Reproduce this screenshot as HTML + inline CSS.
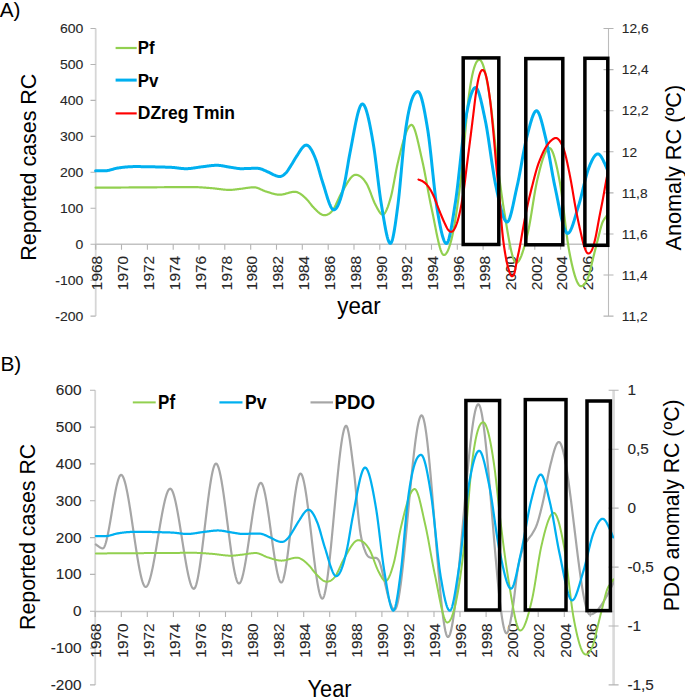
<!DOCTYPE html>
<html><head><meta charset="utf-8"><style>
html,body{margin:0;padding:0;background:#fff;}
body{width:685px;height:697px;overflow:hidden;position:relative;font-family:"Liberation Sans",sans-serif;}
svg text{font-family:"Liberation Sans",sans-serif;}
</style></head><body>
<svg width="685" height="697" viewBox="0 0 685 697" style="position:absolute;left:0;top:0">
<rect width="685" height="697" fill="#fff"/>
<g fill="none">
<path d="M95.7,28.5 V316.1" stroke="#d6d6d6" stroke-width="1.8"/>
<path d="M608.5,28.5 V316.1" stroke="#bcbcbc" stroke-width="1.1"/>
<path d="M95.7,244.3 H608.5" stroke="#c2c2c2" stroke-width="1.4"/>
<path d="M90.5,28.5 H95.7 M90.5,64.5 H95.7 M90.5,100.4 H95.7 M90.5,136.4 H95.7 M90.5,172.3 H95.7 M90.5,208.2 H95.7 M90.5,244.2 H95.7 M90.5,280.2 H95.7 M90.5,316.1 H95.7 M603.5,28.5 H613.5 M603.5,69.6 H613.5 M603.5,110.7 H613.5 M603.5,151.8 H613.5 M603.5,192.9 H613.5 M603.5,234.0 H613.5 M603.5,275.0 H613.5 M603.5,316.1 H613.5 M95.7,244.3 V249.8 M121.5,244.3 V249.8 M147.4,244.3 V249.8 M173.2,244.3 V249.8 M199.0,244.3 V249.8 M224.8,244.3 V249.8 M250.7,244.3 V249.8 M276.5,244.3 V249.8 M302.3,244.3 V249.8 M328.2,244.3 V249.8 M354.0,244.3 V249.8 M379.8,244.3 V249.8 M405.7,244.3 V249.8 M431.5,244.3 V249.8 M457.3,244.3 V249.8 M483.1,244.3 V249.8 M509.0,244.3 V249.8 M534.8,244.3 V249.8 M560.6,244.3 V249.8 M586.5,244.3 V249.8 " stroke="#b4b4b4" stroke-width="1.1"/>
</g>
<g fill="none">
<path d="M95.2,390.3 V684.9" stroke="#d6d6d6" stroke-width="1.8"/>
<path d="M613.6,390.3 V684.9" stroke="#dadada" stroke-width="2.6"/>
<path d="M95.2,611.5 H613.6" stroke="#c4c4c4" stroke-width="1.5"/>
<path d="M90.0,390.3 H95.2 M90.0,427.1 H95.2 M90.0,463.9 H95.2 M90.0,500.8 H95.2 M90.0,537.6 H95.2 M90.0,574.4 H95.2 M90.0,611.2 H95.2 M90.0,648.1 H95.2 M90.0,684.9 H95.2 M608.6,390.3 H618.6 M608.6,449.2 H618.6 M608.6,508.1 H618.6 M608.6,567.1 H618.6 M608.6,626.0 H618.6 M608.6,684.9 H618.6 M95.2,611.5 V617.0 M121.3,611.5 V617.0 M147.3,611.5 V617.0 M173.4,611.5 V617.0 M199.4,611.5 V617.0 M225.5,611.5 V617.0 M251.6,611.5 V617.0 M277.6,611.5 V617.0 M303.7,611.5 V617.0 M329.7,611.5 V617.0 M355.8,611.5 V617.0 M381.9,611.5 V617.0 M407.9,611.5 V617.0 M434.0,611.5 V617.0 M460.0,611.5 V617.0 M486.1,611.5 V617.0 M512.2,611.5 V617.0 M538.2,611.5 V617.0 M564.3,611.5 V617.0 M590.3,611.5 V617.0 " stroke="#b4b4b4" stroke-width="1.1"/>
</g>
<text x="83.4" y="33.2" font-size="13.1" text-anchor="end" font-weight="normal" fill="#262626" stroke="#262626" stroke-width="0.1" textLength="23.39" lengthAdjust="spacingAndGlyphs">600</text>
<text x="81.5" y="395.3" font-size="14.1" text-anchor="end" font-weight="normal" fill="#262626" stroke="#262626" stroke-width="0.1" textLength="25.64" lengthAdjust="spacingAndGlyphs">600</text>
<text x="83.4" y="69.2" font-size="13.1" text-anchor="end" font-weight="normal" fill="#262626" stroke="#262626" stroke-width="0.1" textLength="23.39" lengthAdjust="spacingAndGlyphs">500</text>
<text x="81.5" y="432.1" font-size="14.1" text-anchor="end" font-weight="normal" fill="#262626" stroke="#262626" stroke-width="0.1" textLength="25.64" lengthAdjust="spacingAndGlyphs">500</text>
<text x="83.4" y="105.1" font-size="13.1" text-anchor="end" font-weight="normal" fill="#262626" stroke="#262626" stroke-width="0.1" textLength="23.39" lengthAdjust="spacingAndGlyphs">400</text>
<text x="81.5" y="468.9" font-size="14.1" text-anchor="end" font-weight="normal" fill="#262626" stroke="#262626" stroke-width="0.1" textLength="25.64" lengthAdjust="spacingAndGlyphs">400</text>
<text x="83.4" y="141.1" font-size="13.1" text-anchor="end" font-weight="normal" fill="#262626" stroke="#262626" stroke-width="0.1" textLength="23.39" lengthAdjust="spacingAndGlyphs">300</text>
<text x="81.5" y="505.8" font-size="14.1" text-anchor="end" font-weight="normal" fill="#262626" stroke="#262626" stroke-width="0.1" textLength="25.64" lengthAdjust="spacingAndGlyphs">300</text>
<text x="83.4" y="177.0" font-size="13.1" text-anchor="end" font-weight="normal" fill="#262626" stroke="#262626" stroke-width="0.1" textLength="23.39" lengthAdjust="spacingAndGlyphs">200</text>
<text x="81.5" y="542.6" font-size="14.1" text-anchor="end" font-weight="normal" fill="#262626" stroke="#262626" stroke-width="0.1" textLength="25.64" lengthAdjust="spacingAndGlyphs">200</text>
<text x="83.4" y="212.9" font-size="13.1" text-anchor="end" font-weight="normal" fill="#262626" stroke="#262626" stroke-width="0.1" textLength="23.39" lengthAdjust="spacingAndGlyphs">100</text>
<text x="81.5" y="579.4" font-size="14.1" text-anchor="end" font-weight="normal" fill="#262626" stroke="#262626" stroke-width="0.1" textLength="25.64" lengthAdjust="spacingAndGlyphs">100</text>
<text x="83.4" y="248.9" font-size="13.1" text-anchor="end" font-weight="normal" fill="#262626" stroke="#262626" stroke-width="0.1" textLength="7.8" lengthAdjust="spacingAndGlyphs">0</text>
<text x="81.5" y="616.2" font-size="14.1" text-anchor="end" font-weight="normal" fill="#262626" stroke="#262626" stroke-width="0.1" textLength="8.55" lengthAdjust="spacingAndGlyphs">0</text>
<text x="83.4" y="284.9" font-size="13.1" text-anchor="end" font-weight="normal" fill="#262626" stroke="#262626" stroke-width="0.1" textLength="28.05" lengthAdjust="spacingAndGlyphs">-100</text>
<text x="81.5" y="653.1" font-size="14.1" text-anchor="end" font-weight="normal" fill="#262626" stroke="#262626" stroke-width="0.1" textLength="30.76" lengthAdjust="spacingAndGlyphs">-100</text>
<text x="83.4" y="320.8" font-size="13.1" text-anchor="end" font-weight="normal" fill="#262626" stroke="#262626" stroke-width="0.1" textLength="28.05" lengthAdjust="spacingAndGlyphs">-200</text>
<text x="81.5" y="689.9" font-size="14.1" text-anchor="end" font-weight="normal" fill="#262626" stroke="#262626" stroke-width="0.1" textLength="30.76" lengthAdjust="spacingAndGlyphs">-200</text>
<text x="621.8" y="33.2" font-size="13.1" text-anchor="start" font-weight="normal" fill="#262626" stroke="#262626" stroke-width="0.1" textLength="26.77" lengthAdjust="spacingAndGlyphs">12,6</text>
<text x="621.8" y="74.3" font-size="13.1" text-anchor="start" font-weight="normal" fill="#262626" stroke="#262626" stroke-width="0.1" textLength="26.77" lengthAdjust="spacingAndGlyphs">12,4</text>
<text x="621.8" y="115.4" font-size="13.1" text-anchor="start" font-weight="normal" fill="#262626" stroke="#262626" stroke-width="0.1" textLength="26.77" lengthAdjust="spacingAndGlyphs">12,2</text>
<text x="621.8" y="156.5" font-size="13.1" text-anchor="start" font-weight="normal" fill="#262626" stroke="#262626" stroke-width="0.1" textLength="15.3" lengthAdjust="spacingAndGlyphs">12</text>
<text x="621.8" y="197.6" font-size="13.1" text-anchor="start" font-weight="normal" fill="#262626" stroke="#262626" stroke-width="0.1" textLength="25.75" lengthAdjust="spacingAndGlyphs">11,8</text>
<text x="621.8" y="238.7" font-size="13.1" text-anchor="start" font-weight="normal" fill="#262626" stroke="#262626" stroke-width="0.1" textLength="25.75" lengthAdjust="spacingAndGlyphs">11,6</text>
<text x="621.8" y="279.7" font-size="13.1" text-anchor="start" font-weight="normal" fill="#262626" stroke="#262626" stroke-width="0.1" textLength="25.75" lengthAdjust="spacingAndGlyphs">11,4</text>
<text x="621.8" y="320.8" font-size="13.1" text-anchor="start" font-weight="normal" fill="#262626" stroke="#262626" stroke-width="0.1" textLength="25.75" lengthAdjust="spacingAndGlyphs">11,2</text>
<text x="627.4" y="395.3" font-size="14.1" text-anchor="start" font-weight="normal" fill="#262626" stroke="#262626" stroke-width="0.1" textLength="8.55" lengthAdjust="spacingAndGlyphs">1</text>
<text x="627.4" y="454.2" font-size="14.1" text-anchor="start" font-weight="normal" fill="#262626" stroke="#262626" stroke-width="0.1" textLength="21.37" lengthAdjust="spacingAndGlyphs">0,5</text>
<text x="627.4" y="513.1" font-size="14.1" text-anchor="start" font-weight="normal" fill="#262626" stroke="#262626" stroke-width="0.1" textLength="8.55" lengthAdjust="spacingAndGlyphs">0</text>
<text x="627.4" y="572.1" font-size="14.1" text-anchor="start" font-weight="normal" fill="#262626" stroke="#262626" stroke-width="0.1" textLength="26.48" lengthAdjust="spacingAndGlyphs">-0,5</text>
<text x="627.4" y="631.0" font-size="14.1" text-anchor="start" font-weight="normal" fill="#262626" stroke="#262626" stroke-width="0.1" textLength="13.67" lengthAdjust="spacingAndGlyphs">-1</text>
<text x="627.4" y="689.9" font-size="14.1" text-anchor="start" font-weight="normal" fill="#262626" stroke="#262626" stroke-width="0.1" textLength="26.48" lengthAdjust="spacingAndGlyphs">-1,5</text>
<text x="102.5" y="255.9" font-size="15.4" text-anchor="end" font-weight="normal" fill="#262626" stroke="#262626" stroke-width="0.1" transform="rotate(-90 102.5 255.9)">1968</text>
<text x="101.5" y="623.4" font-size="15.4" text-anchor="end" font-weight="normal" fill="#262626" stroke="#262626" stroke-width="0.1" transform="rotate(-90 101.5 623.4)">1968</text>
<text x="128.3" y="255.9" font-size="15.4" text-anchor="end" font-weight="normal" fill="#262626" stroke="#262626" stroke-width="0.1" transform="rotate(-90 128.3 255.9)">1970</text>
<text x="127.6" y="623.4" font-size="15.4" text-anchor="end" font-weight="normal" fill="#262626" stroke="#262626" stroke-width="0.1" transform="rotate(-90 127.6 623.4)">1970</text>
<text x="154.2" y="255.9" font-size="15.4" text-anchor="end" font-weight="normal" fill="#262626" stroke="#262626" stroke-width="0.1" transform="rotate(-90 154.2 255.9)">1972</text>
<text x="153.6" y="623.4" font-size="15.4" text-anchor="end" font-weight="normal" fill="#262626" stroke="#262626" stroke-width="0.1" transform="rotate(-90 153.6 623.4)">1972</text>
<text x="180.0" y="255.9" font-size="15.4" text-anchor="end" font-weight="normal" fill="#262626" stroke="#262626" stroke-width="0.1" transform="rotate(-90 180.0 255.9)">1974</text>
<text x="179.7" y="623.4" font-size="15.4" text-anchor="end" font-weight="normal" fill="#262626" stroke="#262626" stroke-width="0.1" transform="rotate(-90 179.7 623.4)">1974</text>
<text x="205.8" y="255.9" font-size="15.4" text-anchor="end" font-weight="normal" fill="#262626" stroke="#262626" stroke-width="0.1" transform="rotate(-90 205.8 255.9)">1976</text>
<text x="205.7" y="623.4" font-size="15.4" text-anchor="end" font-weight="normal" fill="#262626" stroke="#262626" stroke-width="0.1" transform="rotate(-90 205.7 623.4)">1976</text>
<text x="231.6" y="255.9" font-size="15.4" text-anchor="end" font-weight="normal" fill="#262626" stroke="#262626" stroke-width="0.1" transform="rotate(-90 231.6 255.9)">1978</text>
<text x="231.8" y="623.4" font-size="15.4" text-anchor="end" font-weight="normal" fill="#262626" stroke="#262626" stroke-width="0.1" transform="rotate(-90 231.8 623.4)">1978</text>
<text x="257.5" y="255.9" font-size="15.4" text-anchor="end" font-weight="normal" fill="#262626" stroke="#262626" stroke-width="0.1" transform="rotate(-90 257.5 255.9)">1980</text>
<text x="257.9" y="623.4" font-size="15.4" text-anchor="end" font-weight="normal" fill="#262626" stroke="#262626" stroke-width="0.1" transform="rotate(-90 257.9 623.4)">1980</text>
<text x="283.3" y="255.9" font-size="15.4" text-anchor="end" font-weight="normal" fill="#262626" stroke="#262626" stroke-width="0.1" transform="rotate(-90 283.3 255.9)">1982</text>
<text x="283.9" y="623.4" font-size="15.4" text-anchor="end" font-weight="normal" fill="#262626" stroke="#262626" stroke-width="0.1" transform="rotate(-90 283.9 623.4)">1982</text>
<text x="309.1" y="255.9" font-size="15.4" text-anchor="end" font-weight="normal" fill="#262626" stroke="#262626" stroke-width="0.1" transform="rotate(-90 309.1 255.9)">1984</text>
<text x="310.0" y="623.4" font-size="15.4" text-anchor="end" font-weight="normal" fill="#262626" stroke="#262626" stroke-width="0.1" transform="rotate(-90 310.0 623.4)">1984</text>
<text x="335.0" y="255.9" font-size="15.4" text-anchor="end" font-weight="normal" fill="#262626" stroke="#262626" stroke-width="0.1" transform="rotate(-90 335.0 255.9)">1986</text>
<text x="336.0" y="623.4" font-size="15.4" text-anchor="end" font-weight="normal" fill="#262626" stroke="#262626" stroke-width="0.1" transform="rotate(-90 336.0 623.4)">1986</text>
<text x="360.8" y="255.9" font-size="15.4" text-anchor="end" font-weight="normal" fill="#262626" stroke="#262626" stroke-width="0.1" transform="rotate(-90 360.8 255.9)">1988</text>
<text x="362.1" y="623.4" font-size="15.4" text-anchor="end" font-weight="normal" fill="#262626" stroke="#262626" stroke-width="0.1" transform="rotate(-90 362.1 623.4)">1988</text>
<text x="386.6" y="255.9" font-size="15.4" text-anchor="end" font-weight="normal" fill="#262626" stroke="#262626" stroke-width="0.1" transform="rotate(-90 386.6 255.9)">1990</text>
<text x="388.2" y="623.4" font-size="15.4" text-anchor="end" font-weight="normal" fill="#262626" stroke="#262626" stroke-width="0.1" transform="rotate(-90 388.2 623.4)">1990</text>
<text x="412.5" y="255.9" font-size="15.4" text-anchor="end" font-weight="normal" fill="#262626" stroke="#262626" stroke-width="0.1" transform="rotate(-90 412.5 255.9)">1992</text>
<text x="414.2" y="623.4" font-size="15.4" text-anchor="end" font-weight="normal" fill="#262626" stroke="#262626" stroke-width="0.1" transform="rotate(-90 414.2 623.4)">1992</text>
<text x="438.3" y="255.9" font-size="15.4" text-anchor="end" font-weight="normal" fill="#262626" stroke="#262626" stroke-width="0.1" transform="rotate(-90 438.3 255.9)">1994</text>
<text x="440.3" y="623.4" font-size="15.4" text-anchor="end" font-weight="normal" fill="#262626" stroke="#262626" stroke-width="0.1" transform="rotate(-90 440.3 623.4)">1994</text>
<text x="464.1" y="255.9" font-size="15.4" text-anchor="end" font-weight="normal" fill="#262626" stroke="#262626" stroke-width="0.1" transform="rotate(-90 464.1 255.9)">1996</text>
<text x="466.3" y="623.4" font-size="15.4" text-anchor="end" font-weight="normal" fill="#262626" stroke="#262626" stroke-width="0.1" transform="rotate(-90 466.3 623.4)">1996</text>
<text x="489.9" y="255.9" font-size="15.4" text-anchor="end" font-weight="normal" fill="#262626" stroke="#262626" stroke-width="0.1" transform="rotate(-90 489.9 255.9)">1998</text>
<text x="492.4" y="623.4" font-size="15.4" text-anchor="end" font-weight="normal" fill="#262626" stroke="#262626" stroke-width="0.1" transform="rotate(-90 492.4 623.4)">1998</text>
<text x="515.8" y="255.9" font-size="15.4" text-anchor="end" font-weight="normal" fill="#262626" stroke="#262626" stroke-width="0.1" transform="rotate(-90 515.8 255.9)">2000</text>
<text x="518.5" y="623.4" font-size="15.4" text-anchor="end" font-weight="normal" fill="#262626" stroke="#262626" stroke-width="0.1" transform="rotate(-90 518.5 623.4)">2000</text>
<text x="541.6" y="255.9" font-size="15.4" text-anchor="end" font-weight="normal" fill="#262626" stroke="#262626" stroke-width="0.1" transform="rotate(-90 541.6 255.9)">2002</text>
<text x="544.5" y="623.4" font-size="15.4" text-anchor="end" font-weight="normal" fill="#262626" stroke="#262626" stroke-width="0.1" transform="rotate(-90 544.5 623.4)">2002</text>
<text x="567.4" y="255.9" font-size="15.4" text-anchor="end" font-weight="normal" fill="#262626" stroke="#262626" stroke-width="0.1" transform="rotate(-90 567.4 255.9)">2004</text>
<text x="570.6" y="623.4" font-size="15.4" text-anchor="end" font-weight="normal" fill="#262626" stroke="#262626" stroke-width="0.1" transform="rotate(-90 570.6 623.4)">2004</text>
<text x="593.3" y="255.9" font-size="15.4" text-anchor="end" font-weight="normal" fill="#262626" stroke="#262626" stroke-width="0.1" transform="rotate(-90 593.3 255.9)">2006</text>
<text x="596.6" y="623.4" font-size="15.4" text-anchor="end" font-weight="normal" fill="#262626" stroke="#262626" stroke-width="0.1" transform="rotate(-90 596.6 623.4)">2006</text>
<text x="-0.3" y="16.9" font-size="20.8" text-anchor="start" font-weight="normal" fill="#000">A)</text>
<text x="0.5" y="370.8" font-size="20.8" text-anchor="start" font-weight="normal" fill="#000">B)</text>
<text x="35.8" y="260.7" font-size="22.9" text-anchor="start" font-weight="normal" fill="#000" transform="rotate(-90 35.8 260.7)" textLength="187.0" lengthAdjust="spacingAndGlyphs">Reported cases RC</text>
<text x="35.3" y="629.9" font-size="22.9" text-anchor="start" font-weight="normal" fill="#000" transform="rotate(-90 35.3 629.9)" textLength="186.1" lengthAdjust="spacingAndGlyphs">Reported cases RC</text>
<text x="680.7" y="250.5" font-size="22.6" text-anchor="start" font-weight="normal" fill="#000" transform="rotate(-90 680.7 250.5)" textLength="165.7" lengthAdjust="spacingAndGlyphs">Anomaly RC (ºC)</text>
<text x="678.7" y="611.3" font-size="22.0" text-anchor="start" font-weight="normal" fill="#000" transform="rotate(-90 678.7 611.3)" textLength="211.9" lengthAdjust="spacingAndGlyphs">PDO anomaly RC (ºC)</text>
<text x="337.3" y="313.9" font-size="23" text-anchor="start" font-weight="normal" fill="#000" textLength="43.4" lengthAdjust="spacingAndGlyphs">year</text>
<text x="307.5" y="696.9" font-size="23" text-anchor="start" font-weight="normal" fill="#000" textLength="44.0" lengthAdjust="spacingAndGlyphs">Year</text>
<g fill="none"><path d="M115.6,48 H136.7" stroke="#92d050" stroke-width="2.2"/><path d="M115.6,80.1 H136.7" stroke="#00b0f0" stroke-width="3"/><path d="M115.6,113.4 H136.7" stroke="#ff0000" stroke-width="2.15"/>
<path d="M132.8,402.4 H155.7" stroke="#92d050" stroke-width="2"/><path d="M219.4,402.4 H242.5" stroke="#00b0f0" stroke-width="2.25"/><path d="M310.5,402.4 H333" stroke="#a6a6a6" stroke-width="2.2"/></g>
<text x="137.8" y="54.1" font-size="18" text-anchor="start" font-weight="bold" fill="#000" textLength="16.8" lengthAdjust="spacingAndGlyphs">Pf</text>
<text x="137.8" y="86.8" font-size="18" text-anchor="start" font-weight="bold" fill="#000" textLength="20.7" lengthAdjust="spacingAndGlyphs">Pv</text>
<text x="137.8" y="119.3" font-size="18" text-anchor="start" font-weight="bold" fill="#000" textLength="97.2" lengthAdjust="spacingAndGlyphs">DZreg Tmin</text>
<text x="158.1" y="409.1" font-size="19.4" text-anchor="start" font-weight="bold" fill="#000" textLength="17" lengthAdjust="spacingAndGlyphs">Pf</text>
<text x="245.1" y="409.1" font-size="19.4" text-anchor="start" font-weight="bold" fill="#000" textLength="21.5" lengthAdjust="spacingAndGlyphs">Pv</text>
<text x="334.6" y="409.1" font-size="19.4" text-anchor="start" font-weight="bold" fill="#000" textLength="40.5" lengthAdjust="spacingAndGlyphs">PDO</text>
<defs><clipPath id="cA"><rect x="90" y="0" width="518.4" height="340"/></clipPath><clipPath id="cB"><rect x="90" y="350" width="523.9" height="347"/></clipPath></defs>
<g fill="none" stroke-linejoin="round" stroke-linecap="round" clip-path="url(#cA)">
<path d="M95.60,187.70 L96.10,187.70 L96.61,187.69 L97.11,187.69 L97.62,187.69 L98.12,187.68 L98.63,187.68 L99.13,187.68 L99.64,187.67 L100.14,187.67 L100.65,187.67 L101.15,187.66 L101.65,187.66 L102.16,187.66 L102.66,187.65 L103.17,187.65 L103.67,187.64 L104.18,187.64 L104.68,187.64 L105.19,187.63 L105.69,187.63 L106.20,187.63 L106.70,187.62 L107.20,187.62 L107.71,187.62 L108.21,187.61 L108.72,187.61 L109.22,187.61 L109.73,187.60 L110.23,187.60 L110.74,187.60 L111.24,187.59 L111.75,187.59 L112.25,187.59 L112.75,187.58 L113.26,187.58 L113.76,187.58 L114.27,187.57 L114.77,187.57 L115.28,187.56 L115.78,187.56 L116.29,187.56 L116.79,187.55 L117.30,187.55 L117.80,187.55 L118.30,187.54 L118.81,187.54 L119.31,187.54 L119.82,187.53 L120.32,187.53 L120.83,187.53 L121.33,187.52 L121.84,187.52 L122.34,187.52 L122.85,187.51 L123.35,187.51 L123.85,187.51 L124.36,187.50 L124.86,187.50 L125.37,187.50 L125.87,187.49 L126.38,187.49 L126.88,187.49 L127.39,187.48 L127.89,187.48 L128.40,187.48 L128.90,187.47 L129.40,187.47 L129.91,187.47 L130.41,187.46 L130.92,187.46 L131.42,187.46 L131.93,187.45 L132.43,187.45 L132.94,187.45 L133.44,187.44 L133.95,187.44 L134.45,187.44 L134.95,187.43 L135.46,187.43 L135.96,187.43 L136.47,187.42 L136.97,187.42 L137.48,187.42 L137.98,187.41 L138.49,187.41 L138.99,187.41 L139.50,187.40 L140.00,187.40 L140.50,187.40 L141.00,187.39 L141.50,187.39 L142.00,187.39 L142.50,187.38 L143.00,187.38 L143.50,187.38 L144.00,187.37 L144.50,187.37 L145.00,187.37 L145.50,187.36 L146.00,187.36 L146.50,187.36 L147.00,187.35 L147.50,187.35 L148.00,187.35 L148.50,187.34 L149.00,187.34 L149.50,187.33 L150.00,187.33 L150.50,187.33 L151.00,187.32 L151.50,187.32 L152.00,187.32 L152.50,187.31 L153.00,187.31 L153.50,187.30 L154.00,187.30 L154.50,187.30 L155.00,187.29 L155.50,187.29 L156.00,187.29 L156.50,187.28 L157.00,187.28 L157.50,187.27 L158.00,187.27 L158.50,187.27 L159.00,187.26 L159.50,187.26 L160.00,187.26 L160.50,187.25 L161.00,187.25 L161.50,187.24 L162.00,187.24 L162.50,187.24 L163.00,187.23 L163.50,187.23 L164.00,187.23 L164.50,187.22 L165.00,187.22 L165.50,187.22 L166.00,187.21 L166.50,187.21 L167.00,187.21 L167.50,187.20 L168.00,187.20 L168.50,187.19 L169.00,187.19 L169.50,187.19 L170.00,187.19 L170.50,187.18 L171.00,187.18 L171.50,187.18 L172.00,187.17 L172.50,187.17 L173.00,187.17 L173.50,187.16 L174.00,187.16 L174.50,187.16 L175.00,187.16 L175.50,187.15 L176.00,187.15 L176.50,187.15 L177.00,187.14 L177.50,187.14 L178.00,187.14 L178.50,187.14 L179.00,187.13 L179.50,187.13 L180.00,187.13 L180.50,187.13 L181.00,187.13 L181.50,187.12 L182.00,187.12 L182.50,187.12 L183.00,187.12 L183.50,187.12 L184.00,187.12 L184.50,187.11 L185.00,187.11 L185.50,187.11 L186.00,187.11 L186.50,187.11 L187.00,187.11 L187.50,187.11 L188.00,187.10 L188.50,187.10 L189.00,187.10 L189.50,187.10 L190.00,187.10 L190.50,187.10 L191.00,187.10 L191.50,187.10 L192.00,187.10 L192.50,187.10 L193.00,187.10 L193.51,187.10 L194.02,187.11 L194.53,187.11 L195.05,187.12 L195.56,187.13 L196.07,187.15 L196.58,187.16 L197.09,187.18 L197.60,187.20 L198.11,187.22 L198.63,187.24 L199.14,187.27 L199.65,187.29 L200.16,187.32 L200.67,187.35 L201.18,187.38 L201.69,187.41 L202.21,187.45 L202.72,187.48 L203.23,187.52 L203.74,187.55 L204.25,187.59 L204.76,187.63 L205.27,187.67 L205.79,187.70 L206.30,187.74 L206.81,187.78 L207.32,187.82 L207.83,187.86 L208.34,187.90 L208.85,187.94 L209.37,187.98 L209.88,188.02 L210.39,188.06 L210.90,188.10 L211.41,188.14 L211.91,188.18 L212.42,188.23 L212.92,188.28 L213.43,188.33 L213.93,188.39 L214.44,188.44 L214.94,188.50 L215.45,188.56 L215.95,188.63 L216.46,188.69 L216.96,188.75 L217.47,188.82 L217.98,188.88 L218.48,188.95 L218.99,189.02 L219.49,189.08 L220.00,189.14 L220.50,189.21 L221.01,189.27 L221.51,189.33 L222.02,189.39 L222.52,189.45 L223.03,189.50 L223.54,189.56 L224.04,189.61 L224.55,189.65 L225.05,189.70 L225.56,189.74 L226.06,189.77 L226.57,189.80 L227.07,189.83 L227.58,189.86 L228.08,189.87 L228.59,189.89 L229.09,189.90 L229.60,189.90 L230.10,189.90 L230.60,189.88 L231.10,189.86 L231.60,189.84 L232.10,189.80 L232.60,189.77 L233.10,189.72 L233.60,189.67 L234.10,189.62 L234.60,189.57 L235.10,189.51 L235.60,189.45 L236.10,189.38 L236.60,189.32 L237.10,189.26 L237.60,189.19 L238.10,189.13 L238.60,189.07 L239.10,189.01 L239.60,188.95 L240.10,188.90 L240.61,188.84 L241.13,188.78 L241.64,188.72 L242.16,188.65 L242.67,188.58 L243.19,188.50 L243.70,188.43 L244.22,188.35 L244.73,188.27 L245.25,188.19 L245.76,188.11 L246.28,188.03 L246.79,187.96 L247.31,187.88 L247.82,187.81 L248.34,187.74 L248.85,187.67 L249.37,187.61 L249.88,187.55 L250.40,187.50 L250.91,187.45 L251.43,187.40 L251.94,187.37 L252.46,187.34 L252.97,187.32 L253.49,187.30 L254.00,187.30 L254.46,187.31 L254.92,187.35 L255.38,187.41 L255.85,187.50 L256.31,187.60 L256.77,187.72 L257.23,187.86 L257.69,188.02 L258.15,188.18 L258.62,188.36 L259.08,188.55 L259.54,188.75 L260.00,188.96 L260.46,189.17 L260.92,189.38 L261.38,189.60 L261.85,189.81 L262.31,190.03 L262.77,190.24 L263.23,190.45 L263.69,190.65 L264.15,190.84 L264.62,191.03 L265.08,191.20 L265.54,191.36 L266.00,191.50 L266.49,191.65 L266.99,191.80 L267.48,191.95 L267.97,192.10 L268.46,192.26 L268.96,192.42 L269.45,192.57 L269.94,192.73 L270.44,192.88 L270.93,193.03 L271.42,193.18 L271.91,193.33 L272.41,193.47 L272.90,193.61 L273.39,193.74 L273.89,193.87 L274.38,193.99 L274.87,194.10 L275.36,194.21 L275.86,194.30 L276.35,194.39 L276.84,194.47 L277.34,194.54 L277.83,194.59 L278.32,194.64 L278.81,194.67 L279.31,194.69 L279.80,194.70 L280.30,194.69 L280.79,194.66 L281.29,194.62 L281.79,194.56 L282.28,194.49 L282.78,194.40 L283.28,194.30 L283.77,194.19 L284.27,194.07 L284.77,193.95 L285.26,193.82 L285.76,193.68 L286.26,193.54 L286.75,193.39 L287.25,193.25 L287.75,193.11 L288.24,192.96 L288.74,192.82 L289.24,192.68 L289.73,192.55 L290.23,192.43 L290.73,192.31 L291.22,192.20 L291.72,192.10 L292.22,192.01 L292.71,191.94 L293.21,191.88 L293.71,191.84 L294.20,191.81 L294.70,191.80 L295.15,191.81 L295.60,191.86 L296.06,191.93 L296.51,192.03 L296.96,192.15 L297.41,192.30 L297.86,192.48 L298.31,192.67 L298.77,192.89 L299.22,193.13 L299.67,193.39 L300.12,193.67 L300.57,193.97 L301.03,194.28 L301.48,194.61 L301.93,194.96 L302.38,195.32 L302.83,195.69 L303.29,196.08 L303.74,196.48 L304.19,196.88 L304.64,197.30 L305.09,197.73 L305.54,198.16 L306.00,198.60 L306.45,199.05 L306.90,199.50 L307.31,199.92 L307.71,200.37 L308.12,200.84 L308.52,201.32 L308.93,201.83 L309.34,202.34 L309.74,202.86 L310.15,203.38 L310.56,203.91 L310.96,204.43 L311.37,204.95 L311.77,205.45 L312.18,205.94 L312.59,206.42 L312.99,206.87 L313.40,207.30 L313.84,207.75 L314.28,208.20 L314.72,208.66 L315.16,209.11 L315.60,209.56 L316.04,210.00 L316.48,210.44 L316.92,210.87 L317.36,211.29 L317.80,211.70 L318.24,212.09 L318.68,212.47 L319.12,212.83 L319.56,213.18 L320.00,213.50 L320.44,213.80 L320.88,214.07 L321.32,214.32 L321.76,214.54 L322.20,214.74 L322.64,214.90 L323.08,215.03 L323.52,215.12 L323.96,215.18 L324.40,215.20 L324.85,215.19 L325.30,215.15 L325.75,215.08 L326.20,214.99 L326.65,214.87 L327.10,214.72 L327.55,214.54 L328.00,214.33 L328.45,214.09 L328.90,213.82 L329.35,213.52 L329.80,213.19 L330.25,212.83 L330.70,212.43 L331.15,212.00 L331.60,211.53 L332.05,211.03 L332.50,210.50 L332.85,210.05 L333.19,209.56 L333.54,209.04 L333.88,208.47 L334.23,207.88 L334.58,207.25 L334.92,206.60 L335.27,205.92 L335.62,205.22 L335.96,204.50 L336.31,203.77 L336.65,203.02 L337.00,202.27 L337.35,201.51 L337.69,200.75 L338.04,199.99 L338.38,199.22 L338.73,198.47 L339.08,197.72 L339.42,196.99 L339.77,196.27 L340.12,195.57 L340.46,194.89 L340.81,194.23 L341.15,193.60 L341.50,193.00 L341.88,192.35 L342.26,191.69 L342.64,191.03 L343.02,190.36 L343.41,189.68 L343.79,189.01 L344.17,188.33 L344.55,187.65 L344.93,186.97 L345.31,186.30 L345.69,185.63 L346.07,184.97 L346.45,184.32 L346.84,183.67 L347.22,183.04 L347.60,182.41 L347.98,181.81 L348.36,181.21 L348.74,180.64 L349.12,180.08 L349.50,179.54 L349.88,179.02 L350.26,178.52 L350.65,178.05 L351.03,177.61 L351.41,177.19 L351.79,176.80 L352.17,176.44 L352.55,176.11 L352.93,175.82 L353.31,175.56 L353.69,175.33 L354.08,175.14 L354.46,175.00 L354.84,174.89 L355.22,174.82 L355.60,174.80 L356.03,174.81 L356.45,174.85 L356.88,174.92 L357.31,175.01 L357.73,175.12 L358.16,175.27 L358.59,175.44 L359.02,175.63 L359.44,175.85 L359.87,176.10 L360.30,176.38 L360.72,176.69 L361.15,177.02 L361.58,177.38 L362.00,177.76 L362.43,178.18 L362.86,178.62 L363.28,179.09 L363.71,179.59 L364.14,180.12 L364.57,180.68 L364.99,181.27 L365.42,181.88 L365.85,182.52 L366.27,183.20 L366.70,183.90 L367.03,184.48 L367.36,185.10 L367.69,185.76 L368.02,186.46 L368.35,187.19 L368.68,187.95 L369.01,188.74 L369.34,189.56 L369.67,190.39 L370.00,191.24 L370.33,192.11 L370.66,192.98 L370.99,193.86 L371.31,194.75 L371.64,195.63 L371.97,196.51 L372.30,197.39 L372.63,198.25 L372.96,199.10 L373.29,199.93 L373.62,200.74 L373.95,201.53 L374.28,202.29 L374.61,203.03 L374.94,203.72 L375.27,204.38 L375.60,205.00 L375.99,205.71 L376.38,206.44 L376.77,207.18 L377.16,207.92 L377.54,208.65 L377.93,209.37 L378.32,210.07 L378.71,210.74 L379.10,211.38 L379.49,211.99 L379.88,212.55 L380.27,213.05 L380.66,213.50 L381.04,213.88 L381.43,214.18 L381.82,214.41 L382.21,214.55 L382.60,214.60 L382.94,214.56 L383.28,214.45 L383.62,214.26 L383.97,214.00 L384.31,213.67 L384.65,213.27 L384.99,212.81 L385.33,212.28 L385.68,211.70 L386.02,211.05 L386.36,210.35 L386.70,209.60 L387.04,208.80 L387.38,207.94 L387.73,207.04 L388.07,206.10 L388.41,205.11 L388.75,204.08 L389.09,203.02 L389.43,201.92 L389.78,200.78 L390.12,199.62 L390.46,198.42 L390.80,197.20 L391.03,196.35 L391.26,195.45 L391.49,194.51 L391.72,193.53 L391.95,192.51 L392.17,191.46 L392.40,190.38 L392.63,189.26 L392.86,188.12 L393.09,186.96 L393.32,185.78 L393.55,184.58 L393.78,183.37 L394.01,182.14 L394.24,180.91 L394.46,179.67 L394.69,178.43 L394.92,177.19 L395.15,175.95 L395.38,174.72 L395.61,173.50 L395.84,172.29 L396.07,171.09 L396.30,169.91 L396.53,168.75 L396.75,167.62 L396.98,166.51 L397.21,165.43 L397.44,164.39 L397.67,163.37 L397.90,162.40 L398.20,161.14 L398.50,159.89 L398.81,158.63 L399.11,157.38 L399.41,156.14 L399.71,154.90 L400.02,153.68 L400.32,152.46 L400.62,151.25 L400.92,150.05 L401.22,148.87 L401.53,147.70 L401.83,146.54 L402.13,145.40 L402.43,144.28 L402.74,143.18 L403.04,142.10 L403.34,141.04 L403.64,140.00 L403.94,138.99 L404.25,138.00 L404.55,137.04 L404.85,136.10 L405.15,135.20 L405.46,134.32 L405.76,133.47 L406.06,132.66 L406.36,131.88 L406.66,131.14 L406.97,130.43 L407.27,129.75 L407.57,129.12 L407.87,128.52 L408.18,127.97 L408.48,127.46 L408.78,126.99 L409.08,126.56 L409.38,126.18 L409.69,125.85 L409.99,125.56 L410.29,125.33 L410.59,125.14 L410.90,125.01 L411.20,124.93 L411.50,124.90 L411.78,124.94 L412.06,125.06 L412.34,125.26 L412.62,125.54 L412.89,125.88 L413.17,126.30 L413.45,126.78 L413.73,127.33 L414.01,127.94 L414.29,128.61 L414.57,129.33 L414.85,130.11 L415.13,130.93 L415.41,131.81 L415.68,132.73 L415.96,133.69 L416.24,134.69 L416.52,135.73 L416.80,136.80 L417.08,137.91 L417.36,139.04 L417.64,140.20 L417.92,141.38 L418.19,142.58 L418.47,143.80 L418.75,145.03 L419.03,146.28 L419.31,147.53 L419.59,148.79 L419.87,150.06 L420.15,151.33 L420.43,152.59 L420.71,153.85 L420.98,155.11 L421.26,156.35 L421.54,157.58 L421.82,158.80 L422.10,160.00 L422.32,160.97 L422.55,161.95 L422.77,162.97 L423.00,164.00 L423.22,165.05 L423.44,166.12 L423.67,167.21 L423.89,168.31 L424.11,169.43 L424.34,170.56 L424.56,171.71 L424.79,172.87 L425.01,174.04 L425.23,175.22 L425.46,176.41 L425.68,177.61 L425.90,178.81 L426.13,180.02 L426.35,181.24 L426.58,182.45 L426.80,183.68 L427.02,184.90 L427.25,186.12 L427.47,187.34 L427.70,188.56 L427.92,189.78 L428.14,190.99 L428.37,192.20 L428.59,193.41 L428.81,194.60 L429.04,195.79 L429.26,196.97 L429.49,198.13 L429.71,199.29 L429.93,200.43 L430.16,201.56 L430.38,202.68 L430.60,203.78 L430.83,204.86 L431.05,205.93 L431.28,206.97 L431.50,208.00 L431.76,209.21 L432.03,210.44 L432.29,211.70 L432.56,212.97 L432.82,214.26 L433.08,215.57 L433.35,216.89 L433.61,218.22 L433.87,219.56 L434.14,220.90 L434.40,222.25 L434.67,223.60 L434.93,224.94 L435.19,226.29 L435.46,227.63 L435.72,228.97 L435.99,230.29 L436.25,231.61 L436.51,232.91 L436.78,234.19 L437.04,235.46 L437.30,236.71 L437.57,237.93 L437.83,239.13 L438.10,240.31 L438.36,241.45 L438.62,242.57 L438.89,243.65 L439.15,244.69 L439.41,245.70 L439.68,246.67 L439.94,247.60 L440.21,248.48 L440.47,249.32 L440.73,250.11 L441.00,250.84 L441.26,251.53 L441.53,252.16 L441.79,252.73 L442.05,253.25 L442.32,253.70 L442.58,254.09 L442.84,254.41 L443.11,254.66 L443.37,254.85 L443.64,254.96 L443.90,255.00 L444.22,254.97 L444.53,254.89 L444.85,254.74 L445.17,254.54 L445.49,254.29 L445.80,253.98 L446.12,253.61 L446.44,253.19 L446.76,252.71 L447.07,252.18 L447.39,251.60 L447.71,250.96 L448.02,250.26 L448.34,249.51 L448.66,248.71 L448.98,247.85 L449.29,246.95 L449.61,245.98 L449.93,244.97 L450.24,243.90 L450.56,242.79 L450.88,241.62 L451.20,240.39 L451.51,239.12 L451.83,237.80 L452.15,236.42 L452.47,235.00 L452.78,233.52 L453.10,232.00 L453.28,231.10 L453.46,230.19 L453.64,229.25 L453.83,228.30 L454.01,227.33 L454.19,226.34 L454.37,225.33 L454.55,224.31 L454.73,223.26 L454.92,222.20 L455.10,221.12 L455.28,220.02 L455.46,218.91 L455.64,217.78 L455.82,216.63 L456.01,215.46 L456.19,214.28 L456.37,213.08 L456.55,211.86 L456.73,210.62 L456.91,209.37 L457.10,208.10 L457.28,206.82 L457.46,205.52 L457.64,204.20 L457.82,202.87 L458.00,201.52 L458.19,200.15 L458.37,198.77 L458.55,197.37 L458.73,195.96 L458.91,194.53 L459.09,193.09 L459.28,191.63 L459.46,190.16 L459.64,188.67 L459.82,187.17 L460.00,185.65 L460.18,184.12 L460.37,182.57 L460.55,181.01 L460.73,179.43 L460.91,177.84 L461.09,176.23 L461.27,174.61 L461.46,172.98 L461.64,171.33 L461.82,169.67 L462.00,168.00 L462.14,166.69 L462.28,165.34 L462.42,163.97 L462.56,162.56 L462.70,161.13 L462.84,159.67 L462.98,158.19 L463.12,156.69 L463.26,155.16 L463.40,153.62 L463.54,152.06 L463.68,150.48 L463.82,148.89 L463.96,147.29 L464.10,145.67 L464.24,144.05 L464.38,142.42 L464.52,140.78 L464.66,139.14 L464.80,137.50 L464.94,135.85 L465.08,134.21 L465.22,132.57 L465.36,130.93 L465.50,129.30 L465.64,127.68 L465.78,126.07 L465.92,124.47 L466.06,122.88 L466.20,121.30 L466.34,119.74 L466.48,118.20 L466.62,116.67 L466.76,115.17 L466.90,113.69 L467.04,112.24 L467.18,110.81 L467.32,109.40 L467.46,108.03 L467.60,106.69 L467.74,105.38 L467.88,104.10 L468.02,102.86 L468.16,101.66 L468.30,100.50 L468.56,98.38 L468.83,96.32 L469.09,94.33 L469.36,92.40 L469.62,90.54 L469.89,88.74 L470.15,87.00 L470.41,85.32 L470.68,83.71 L470.94,82.15 L471.21,80.66 L471.47,79.22 L471.74,77.85 L472.00,76.53 L472.26,75.26 L472.53,74.05 L472.79,72.90 L473.06,71.80 L473.32,70.76 L473.59,69.76 L473.85,68.82 L474.11,67.94 L474.38,67.10 L474.64,66.31 L474.91,65.57 L475.17,64.88 L475.44,64.24 L475.70,63.64 L475.96,63.09 L476.23,62.59 L476.49,62.13 L476.76,61.71 L477.02,61.34 L477.29,61.01 L477.55,60.72 L477.81,60.47 L478.08,60.26 L478.34,60.09 L478.61,59.96 L478.87,59.87 L479.14,59.82 L479.40,59.80 L479.66,59.83 L479.91,59.91 L480.17,60.04 L480.42,60.23 L480.68,60.47 L480.93,60.76 L481.19,61.10 L481.45,61.49 L481.70,61.94 L481.96,62.43 L482.21,62.97 L482.47,63.55 L482.73,64.19 L482.98,64.87 L483.24,65.59 L483.49,66.36 L483.75,67.18 L484.00,68.04 L484.26,68.94 L484.52,69.89 L484.77,70.88 L485.03,71.91 L485.28,72.98 L485.54,74.09 L485.80,75.24 L486.05,76.43 L486.31,77.66 L486.56,78.92 L486.82,80.22 L487.07,81.56 L487.33,82.94 L487.59,84.35 L487.84,85.79 L488.10,87.27 L488.35,88.78 L488.61,90.33 L488.87,91.90 L489.12,93.51 L489.38,95.15 L489.63,96.82 L489.89,98.52 L490.14,100.24 L490.40,102.00 L490.56,103.11 L490.72,104.26 L490.88,105.44 L491.03,106.64 L491.19,107.88 L491.35,109.14 L491.51,110.42 L491.67,111.73 L491.83,113.06 L491.99,114.41 L492.14,115.78 L492.30,117.17 L492.46,118.58 L492.62,120.00 L492.78,121.44 L492.94,122.88 L493.10,124.34 L493.25,125.81 L493.41,127.28 L493.57,128.76 L493.73,130.25 L493.89,131.74 L494.05,133.23 L494.20,134.72 L494.36,136.21 L494.52,137.70 L494.68,139.19 L494.84,140.67 L495.00,142.14 L495.16,143.61 L495.31,145.07 L495.47,146.51 L495.63,147.94 L495.79,149.36 L495.95,150.77 L496.11,152.16 L496.27,153.53 L496.42,154.88 L496.58,156.21 L496.74,157.52 L496.90,158.80 L497.08,160.27 L497.27,161.73 L497.45,163.19 L497.63,164.64 L497.82,166.09 L498.00,167.53 L498.18,168.97 L498.37,170.40 L498.55,171.82 L498.73,173.24 L498.92,174.65 L499.10,176.06 L499.28,177.45 L499.47,178.84 L499.65,180.23 L499.83,181.60 L500.02,182.97 L500.20,184.33 L500.38,185.68 L500.57,187.02 L500.75,188.36 L500.93,189.68 L501.12,191.00 L501.30,192.30 L501.48,193.60 L501.67,194.89 L501.85,196.17 L502.03,197.43 L502.22,198.69 L502.40,199.94 L502.58,201.17 L502.77,202.40 L502.95,203.61 L503.13,204.81 L503.32,206.00 L503.50,207.18 L503.68,208.35 L503.87,209.51 L504.05,210.65 L504.23,211.78 L504.42,212.90 L504.60,214.00 L504.85,215.48 L505.09,216.97 L505.34,218.46 L505.59,219.95 L505.83,221.44 L506.08,222.93 L506.33,224.42 L506.57,225.90 L506.82,227.38 L507.07,228.85 L507.31,230.30 L507.56,231.75 L507.81,233.19 L508.06,234.61 L508.30,236.01 L508.55,237.40 L508.80,238.77 L509.04,240.12 L509.29,241.44 L509.54,242.74 L509.78,244.02 L510.03,245.26 L510.28,246.48 L510.52,247.67 L510.77,248.83 L511.02,249.95 L511.26,251.04 L511.51,252.08 L511.76,253.09 L512.00,254.06 L512.25,254.99 L512.50,255.88 L512.74,256.72 L512.99,257.51 L513.24,258.25 L513.49,258.95 L513.73,259.59 L513.98,260.18 L514.23,260.71 L514.47,261.19 L514.72,261.60 L514.97,261.96 L515.21,262.26 L515.46,262.49 L515.71,262.66 L515.95,262.77 L516.20,262.80 L516.51,262.77 L516.83,262.68 L517.14,262.54 L517.45,262.34 L517.77,262.09 L518.08,261.78 L518.39,261.42 L518.71,261.02 L519.02,260.56 L519.34,260.05 L519.65,259.50 L519.96,258.90 L520.28,258.26 L520.59,257.58 L520.90,256.85 L521.22,256.09 L521.53,255.28 L521.84,254.44 L522.16,253.56 L522.47,252.65 L522.78,251.70 L523.10,250.72 L523.41,249.70 L523.72,248.66 L524.04,247.59 L524.35,246.49 L524.66,245.36 L524.98,244.21 L525.29,243.03 L525.61,241.83 L525.92,240.61 L526.23,239.37 L526.55,238.11 L526.86,236.83 L527.17,235.53 L527.49,234.22 L527.80,232.90 L528.01,231.97 L528.23,231.01 L528.44,230.01 L528.65,228.98 L528.87,227.92 L529.08,226.82 L529.30,225.70 L529.51,224.55 L529.72,223.38 L529.94,222.19 L530.15,220.97 L530.36,219.73 L530.58,218.48 L530.79,217.21 L531.00,215.92 L531.22,214.63 L531.43,213.32 L531.65,212.00 L531.86,210.68 L532.07,209.35 L532.29,208.01 L532.50,206.68 L532.71,205.34 L532.93,204.00 L533.14,202.67 L533.35,201.35 L533.57,200.03 L533.78,198.71 L534.00,197.41 L534.21,196.12 L534.42,194.85 L534.64,193.59 L534.85,192.34 L535.06,191.12 L535.28,189.92 L535.49,188.74 L535.70,187.58 L535.92,186.45 L536.13,185.34 L536.35,184.27 L536.56,183.23 L536.77,182.22 L536.99,181.24 L537.20,180.30 L537.50,178.99 L537.81,177.69 L538.12,176.41 L538.42,175.14 L538.73,173.89 L539.03,172.65 L539.34,171.42 L539.64,170.22 L539.95,169.04 L540.25,167.88 L540.56,166.73 L540.86,165.62 L541.17,164.52 L541.47,163.45 L541.77,162.41 L542.08,161.40 L542.38,160.41 L542.69,159.45 L543.00,158.52 L543.30,157.63 L543.61,156.77 L543.91,155.94 L544.22,155.14 L544.52,154.39 L544.83,153.67 L545.13,152.99 L545.43,152.34 L545.74,151.74 L546.04,151.18 L546.35,150.67 L546.65,150.19 L546.96,149.77 L547.26,149.38 L547.57,149.05 L547.88,148.76 L548.18,148.53 L548.49,148.34 L548.79,148.21 L549.10,148.13 L549.40,148.10 L549.68,148.13 L549.96,148.23 L550.24,148.39 L550.52,148.62 L550.80,148.90 L551.08,149.25 L551.36,149.65 L551.64,150.11 L551.92,150.63 L552.21,151.20 L552.49,151.82 L552.77,152.49 L553.05,153.22 L553.33,153.99 L553.61,154.81 L553.89,155.67 L554.17,156.58 L554.45,157.53 L554.73,158.52 L555.01,159.55 L555.29,160.62 L555.57,161.73 L555.85,162.87 L556.13,164.04 L556.41,165.25 L556.69,166.49 L556.98,167.76 L557.26,169.06 L557.54,170.39 L557.82,171.74 L558.10,173.11 L558.38,174.51 L558.66,175.93 L558.94,177.37 L559.22,178.83 L559.50,180.30 L559.68,181.27 L559.86,182.28 L560.04,183.32 L560.22,184.40 L560.40,185.51 L560.58,186.66 L560.76,187.84 L560.94,189.04 L561.12,190.28 L561.30,191.54 L561.48,192.83 L561.66,194.13 L561.84,195.47 L562.01,196.82 L562.19,198.19 L562.37,199.58 L562.55,200.99 L562.73,202.41 L562.91,203.84 L563.09,205.29 L563.27,206.75 L563.45,208.21 L563.63,209.69 L563.81,211.17 L563.99,212.65 L564.17,214.14 L564.35,215.63 L564.53,217.12 L564.71,218.60 L564.89,220.09 L565.07,221.57 L565.25,223.04 L565.43,224.51 L565.61,225.97 L565.79,227.42 L565.97,228.86 L566.15,230.28 L566.33,231.70 L566.51,233.09 L566.69,234.47 L566.86,235.83 L567.04,237.16 L567.22,238.48 L567.40,239.77 L567.58,241.04 L567.76,242.28 L567.94,243.50 L568.12,244.68 L568.30,245.84 L568.48,246.96 L568.66,248.05 L568.84,249.10 L569.02,250.12 L569.20,251.10 L569.50,252.68 L569.80,254.23 L570.09,255.74 L570.39,257.24 L570.69,258.70 L570.99,260.13 L571.28,261.53 L571.58,262.89 L571.88,264.23 L572.18,265.53 L572.47,266.80 L572.77,268.03 L573.07,269.23 L573.37,270.40 L573.66,271.52 L573.96,272.62 L574.26,273.67 L574.56,274.69 L574.85,275.66 L575.15,276.60 L575.45,277.50 L575.75,278.36 L576.04,279.18 L576.34,279.95 L576.64,280.69 L576.94,281.38 L577.23,282.02 L577.53,282.63 L577.83,283.18 L578.12,283.70 L578.42,284.16 L578.72,284.59 L579.02,284.96 L579.32,285.28 L579.61,285.56 L579.91,285.79 L580.21,285.97 L580.50,286.10 L580.80,286.17 L581.10,286.20 L581.59,286.16 L582.08,286.04 L582.56,285.83 L583.05,285.54 L583.54,285.17 L584.02,284.70 L584.51,284.15 L585.00,283.50 L585.33,283.01 L585.67,282.49 L586.00,281.93 L586.33,281.33 L586.67,280.69 L587.00,280.00 L587.33,279.27 L587.67,278.49 L588.00,277.65 L588.33,276.76 L588.67,275.81 L589.00,274.80 L589.28,273.89 L589.56,272.92 L589.84,271.89 L590.11,270.80 L590.39,269.68 L590.67,268.52 L590.95,267.33 L591.23,266.13 L591.51,264.92 L591.79,263.70 L592.06,262.49 L592.34,261.30 L592.62,260.14 L592.90,259.00 L593.17,257.93 L593.43,256.86 L593.70,255.79 L593.97,254.72 L594.23,253.65 L594.50,252.58 L594.77,251.51 L595.03,250.45 L595.30,249.39 L595.57,248.33 L595.83,247.27 L596.10,246.22 L596.37,245.17 L596.63,244.12 L596.90,243.08 L597.17,242.05 L597.43,241.02 L597.70,240.00 L597.98,238.93 L598.25,237.84 L598.53,236.74 L598.81,235.62 L599.08,234.50 L599.36,233.38 L599.64,232.26 L599.91,231.16 L600.19,230.07 L600.46,229.01 L600.74,227.98 L601.02,226.98 L601.29,226.02 L601.57,225.11 L601.85,224.25 L602.12,223.44 L602.40,222.70 L602.79,221.76 L603.18,220.94 L603.57,220.22 L603.96,219.57 L604.35,218.99 L604.74,218.44 L605.13,217.92 L605.52,217.40 L605.91,216.87 L606.30,216.30 L606.76,215.62 L607.22,214.95 L607.68,214.30 L608.14,213.65 L608.60,213.00" stroke="#92d050" stroke-width="2.2"/>
<path d="M95.60,170.80 L96.12,170.80 L96.64,170.80 L97.17,170.80 L97.69,170.80 L98.21,170.80 L98.73,170.80 L99.26,170.80 L99.78,170.80 L100.30,170.80 L100.82,170.80 L101.34,170.80 L101.87,170.80 L102.39,170.80 L102.91,170.80 L103.43,170.80 L103.96,170.80 L104.48,170.80 L105.00,170.80 L105.50,170.79 L105.99,170.76 L106.49,170.72 L106.98,170.66 L107.48,170.58 L107.98,170.50 L108.47,170.40 L108.97,170.29 L109.46,170.17 L109.96,170.04 L110.46,169.91 L110.95,169.77 L111.45,169.63 L111.94,169.49 L112.44,169.34 L112.94,169.20 L113.43,169.05 L113.93,168.91 L114.42,168.77 L114.92,168.64 L115.42,168.51 L115.91,168.40 L116.41,168.29 L116.90,168.19 L117.40,168.10 L117.90,168.02 L118.41,167.94 L118.91,167.86 L119.41,167.79 L119.91,167.72 L120.42,167.65 L120.92,167.58 L121.42,167.51 L121.93,167.45 L122.43,167.38 L122.93,167.32 L123.43,167.27 L123.94,167.21 L124.44,167.16 L124.94,167.11 L125.45,167.06 L125.95,167.01 L126.45,166.97 L126.95,166.93 L127.46,166.89 L127.96,166.85 L128.46,166.82 L128.97,166.79 L129.47,166.76 L129.97,166.73 L130.47,166.71 L130.98,166.68 L131.48,166.66 L131.98,166.65 L132.49,166.63 L132.99,166.62 L133.49,166.61 L133.99,166.61 L134.50,166.60 L135.00,166.60 L135.50,166.60 L136.00,166.60 L136.50,166.60 L137.00,166.60 L137.50,166.60 L138.00,166.61 L138.50,166.61 L139.00,166.61 L139.50,166.62 L140.00,166.62 L140.50,166.62 L141.00,166.63 L141.50,166.63 L142.00,166.64 L142.50,166.64 L143.00,166.65 L143.50,166.65 L144.00,166.66 L144.50,166.67 L145.00,166.67 L145.50,166.68 L146.00,166.69 L146.50,166.70 L147.00,166.71 L147.50,166.71 L148.00,166.72 L148.50,166.73 L149.00,166.74 L149.50,166.75 L150.00,166.76 L150.50,166.77 L151.00,166.78 L151.50,166.79 L152.00,166.80 L152.50,166.81 L153.00,166.82 L153.50,166.83 L154.00,166.85 L154.50,166.86 L155.00,166.87 L155.50,166.88 L156.00,166.89 L156.50,166.91 L157.00,166.92 L157.50,166.93 L158.00,166.95 L158.50,166.96 L159.00,166.97 L159.50,166.99 L160.00,167.00 L160.50,167.01 L161.00,167.03 L161.50,167.04 L162.00,167.05 L162.50,167.06 L163.00,167.08 L163.50,167.09 L164.00,167.10 L164.50,167.11 L165.00,167.12 L165.50,167.14 L166.00,167.15 L166.50,167.16 L167.00,167.18 L167.50,167.20 L168.00,167.21 L168.50,167.23 L169.00,167.25 L169.50,167.27 L170.00,167.29 L170.50,167.32 L171.00,167.34 L171.50,167.37 L172.00,167.40 L172.50,167.43 L173.00,167.47 L173.50,167.51 L174.00,167.56 L174.50,167.61 L175.00,167.67 L175.50,167.72 L176.00,167.78 L176.50,167.84 L177.00,167.90 L177.50,167.97 L178.00,168.03 L178.50,168.09 L179.00,168.16 L179.50,168.22 L180.00,168.28 L180.50,168.34 L181.00,168.39 L181.50,168.44 L182.00,168.49 L182.50,168.54 L183.00,168.58 L183.50,168.61 L184.00,168.64 L184.50,168.67 L185.00,168.69 L185.50,168.70 L186.00,168.70 L186.49,168.70 L186.98,168.69 L187.47,168.67 L187.96,168.65 L188.46,168.62 L188.95,168.58 L189.44,168.54 L189.93,168.50 L190.42,168.45 L190.91,168.39 L191.40,168.34 L191.89,168.28 L192.39,168.21 L192.88,168.14 L193.37,168.07 L193.86,168.00 L194.35,167.93 L194.84,167.85 L195.33,167.78 L195.82,167.70 L196.31,167.62 L196.81,167.54 L197.30,167.46 L197.79,167.38 L198.28,167.31 L198.77,167.23 L199.26,167.16 L199.75,167.08 L200.24,167.01 L200.74,166.94 L201.23,166.88 L201.72,166.82 L202.21,166.76 L202.70,166.70 L203.21,166.64 L203.73,166.58 L204.24,166.52 L204.76,166.45 L205.27,166.39 L205.79,166.32 L206.30,166.25 L206.82,166.18 L207.33,166.11 L207.85,166.04 L208.36,165.97 L208.88,165.91 L209.39,165.84 L209.91,165.78 L210.42,165.72 L210.94,165.66 L211.45,165.60 L211.97,165.55 L212.48,165.50 L213.00,165.46 L213.51,165.42 L214.03,165.38 L214.54,165.35 L215.06,165.33 L215.57,165.31 L216.09,165.30 L216.60,165.30 L217.09,165.30 L217.57,165.32 L218.06,165.34 L218.54,165.37 L219.03,165.41 L219.52,165.46 L220.00,165.51 L220.49,165.57 L220.98,165.63 L221.46,165.70 L221.95,165.77 L222.43,165.85 L222.92,165.93 L223.41,166.02 L223.89,166.10 L224.38,166.19 L224.87,166.28 L225.35,166.38 L225.84,166.47 L226.32,166.56 L226.81,166.65 L227.30,166.74 L227.78,166.83 L228.27,166.92 L228.76,167.00 L229.24,167.08 L229.73,167.16 L230.21,167.23 L230.70,167.30 L231.21,167.37 L231.72,167.45 L232.23,167.53 L232.74,167.61 L233.25,167.70 L233.76,167.79 L234.27,167.88 L234.78,167.97 L235.29,168.05 L235.80,168.14 L236.30,168.22 L236.81,168.30 L237.32,168.38 L237.83,168.44 L238.34,168.51 L238.85,168.56 L239.36,168.61 L239.87,168.65 L240.38,168.68 L240.89,168.69 L241.40,168.70 L241.91,168.70 L242.41,168.69 L242.92,168.68 L243.42,168.66 L243.93,168.64 L244.44,168.61 L244.94,168.59 L245.45,168.56 L245.95,168.54 L246.46,168.51 L246.96,168.49 L247.47,168.46 L247.98,168.44 L248.48,168.42 L248.99,168.41 L249.49,168.40 L250.00,168.40 L250.50,168.40 L251.00,168.39 L251.50,168.37 L252.00,168.36 L252.50,168.34 L253.00,168.32 L253.50,168.30 L254.00,168.28 L254.50,168.26 L255.00,168.25 L255.50,168.25 L256.00,168.25 L256.50,168.26 L257.00,168.28 L257.50,168.31 L258.00,168.35 L258.50,168.41 L259.00,168.48 L259.50,168.57 L260.00,168.68 L260.50,168.80 L260.97,168.94 L261.45,169.09 L261.92,169.26 L262.39,169.45 L262.87,169.64 L263.34,169.85 L263.81,170.07 L264.29,170.29 L264.76,170.51 L265.23,170.73 L265.71,170.96 L266.18,171.18 L266.65,171.39 L267.13,171.60 L267.60,171.80 L268.07,172.00 L268.54,172.21 L269.01,172.42 L269.48,172.65 L269.95,172.88 L270.42,173.12 L270.88,173.36 L271.35,173.60 L271.82,173.84 L272.29,174.08 L272.76,174.31 L273.23,174.55 L273.70,174.77 L274.17,174.99 L274.64,175.20 L275.11,175.40 L275.58,175.59 L276.05,175.77 L276.52,175.93 L276.98,176.07 L277.45,176.19 L277.92,176.30 L278.39,176.39 L278.86,176.45 L279.33,176.49 L279.80,176.50 L280.23,176.48 L280.67,176.41 L281.10,176.30 L281.53,176.15 L281.97,175.97 L282.40,175.75 L282.83,175.49 L283.27,175.20 L283.70,174.88 L284.13,174.53 L284.57,174.15 L285.00,173.74 L285.43,173.32 L285.87,172.87 L286.30,172.40 L286.70,171.94 L287.10,171.44 L287.50,170.91 L287.90,170.35 L288.30,169.76 L288.70,169.16 L289.10,168.54 L289.50,167.90 L289.90,167.26 L290.30,166.62 L290.70,165.97 L291.10,165.33 L291.50,164.70 L291.86,164.12 L292.23,163.53 L292.59,162.92 L292.96,162.31 L293.32,161.69 L293.69,161.07 L294.05,160.44 L294.41,159.82 L294.78,159.21 L295.14,158.60 L295.51,158.00 L295.87,157.42 L296.24,156.85 L296.60,156.30 L297.00,155.69 L297.41,155.08 L297.81,154.45 L298.22,153.81 L298.62,153.17 L299.03,152.53 L299.43,151.90 L299.83,151.27 L300.24,150.66 L300.64,150.06 L301.05,149.47 L301.45,148.91 L301.85,148.37 L302.26,147.86 L302.66,147.38 L303.07,146.94 L303.47,146.54 L303.88,146.18 L304.28,145.86 L304.68,145.60 L305.09,145.39 L305.49,145.23 L305.90,145.13 L306.30,145.10 L306.68,145.13 L307.05,145.22 L307.43,145.36 L307.80,145.55 L308.18,145.80 L308.55,146.10 L308.93,146.45 L309.30,146.85 L309.68,147.29 L310.05,147.77 L310.43,148.30 L310.80,148.86 L311.18,149.47 L311.55,150.11 L311.93,150.79 L312.30,151.50 L312.68,152.25 L313.05,153.02 L313.43,153.82 L313.80,154.65 L314.18,155.50 L314.55,156.38 L314.93,157.28 L315.30,158.20 L315.58,158.92 L315.87,159.69 L316.15,160.49 L316.44,161.33 L316.72,162.20 L317.00,163.09 L317.29,164.02 L317.57,164.96 L317.86,165.93 L318.14,166.91 L318.42,167.90 L318.71,168.90 L318.99,169.91 L319.28,170.93 L319.56,171.94 L319.84,172.96 L320.13,173.97 L320.41,174.97 L320.70,175.96 L320.98,176.94 L321.26,177.89 L321.55,178.83 L321.83,179.75 L322.12,180.64 L322.40,181.50 L322.72,182.45 L323.03,183.43 L323.35,184.43 L323.67,185.45 L323.98,186.48 L324.30,187.52 L324.62,188.57 L324.93,189.63 L325.25,190.69 L325.57,191.75 L325.88,192.81 L326.20,193.86 L326.52,194.90 L326.83,195.94 L327.15,196.95 L327.47,197.95 L327.78,198.93 L328.10,199.89 L328.42,200.82 L328.73,201.72 L329.05,202.59 L329.37,203.42 L329.68,204.22 L330.00,204.98 L330.32,205.69 L330.63,206.35 L330.95,206.97 L331.27,207.53 L331.58,208.04 L331.90,208.49 L332.22,208.88 L332.53,209.20 L332.85,209.46 L333.17,209.65 L333.48,209.76 L333.80,209.80 L334.12,209.77 L334.44,209.69 L334.76,209.55 L335.08,209.36 L335.41,209.12 L335.73,208.83 L336.05,208.48 L336.37,208.09 L336.69,207.64 L337.01,207.14 L337.33,206.60 L337.65,206.01 L337.98,205.37 L338.30,204.69 L338.62,203.96 L338.94,203.19 L339.26,202.37 L339.58,201.51 L339.90,200.61 L340.22,199.66 L340.55,198.67 L340.87,197.65 L341.19,196.58 L341.51,195.48 L341.83,194.33 L342.15,193.15 L342.47,191.94 L342.79,190.68 L343.12,189.39 L343.44,188.07 L343.76,186.71 L344.08,185.32 L344.40,183.90 L344.62,182.91 L344.83,181.89 L345.05,180.82 L345.26,179.72 L345.48,178.59 L345.69,177.43 L345.91,176.24 L346.12,175.03 L346.34,173.80 L346.55,172.56 L346.77,171.30 L346.98,170.03 L347.20,168.75 L347.42,167.47 L347.63,166.18 L347.85,164.90 L348.06,163.62 L348.28,162.35 L348.49,161.09 L348.71,159.84 L348.92,158.61 L349.14,157.39 L349.35,156.20 L349.57,155.04 L349.78,153.90 L350.00,152.80 L350.26,151.49 L350.52,150.16 L350.77,148.81 L351.03,147.45 L351.29,146.09 L351.55,144.71 L351.81,143.33 L352.07,141.94 L352.32,140.55 L352.58,139.15 L352.84,137.76 L353.10,136.37 L353.36,134.98 L353.62,133.60 L353.88,132.23 L354.13,130.87 L354.39,129.52 L354.65,128.19 L354.91,126.87 L355.17,125.56 L355.43,124.28 L355.68,123.02 L355.94,121.78 L356.20,120.57 L356.46,119.39 L356.72,118.23 L356.97,117.11 L357.23,116.01 L357.49,114.96 L357.75,113.94 L358.01,112.95 L358.27,112.01 L358.52,111.11 L358.78,110.26 L359.04,109.45 L359.30,108.69 L359.56,107.98 L359.82,107.32 L360.07,106.71 L360.33,106.17 L360.59,105.67 L360.85,105.24 L361.11,104.87 L361.37,104.56 L361.62,104.32 L361.88,104.14 L362.14,104.04 L362.40,104.00 L362.67,104.03 L362.94,104.14 L363.22,104.31 L363.49,104.54 L363.76,104.84 L364.03,105.20 L364.31,105.62 L364.58,106.10 L364.85,106.64 L365.12,107.23 L365.40,107.88 L365.67,108.58 L365.94,109.33 L366.21,110.14 L366.49,110.99 L366.76,111.89 L367.03,112.84 L367.31,113.83 L367.58,114.86 L367.85,115.94 L368.12,117.05 L368.39,118.20 L368.67,119.40 L368.94,120.62 L369.21,121.88 L369.49,123.18 L369.76,124.50 L370.03,125.86 L370.30,127.24 L370.57,128.65 L370.85,130.08 L371.12,131.54 L371.39,133.03 L371.67,134.53 L371.94,136.05 L372.21,137.59 L372.48,139.15 L372.75,140.72 L373.03,142.30 L373.30,143.90 L373.47,144.94 L373.65,146.02 L373.82,147.12 L374.00,148.26 L374.17,149.43 L374.34,150.63 L374.52,151.85 L374.69,153.10 L374.87,154.37 L375.04,155.67 L375.21,156.98 L375.39,158.32 L375.56,159.67 L375.73,161.04 L375.91,162.42 L376.08,163.81 L376.26,165.22 L376.43,166.64 L376.60,168.06 L376.78,169.49 L376.95,170.93 L377.13,172.37 L377.30,173.81 L377.47,175.25 L377.65,176.69 L377.82,178.13 L378.00,179.57 L378.17,180.99 L378.34,182.42 L378.52,183.83 L378.69,185.23 L378.87,186.62 L379.04,188.00 L379.21,189.36 L379.39,190.71 L379.56,192.04 L379.73,193.35 L379.91,194.64 L380.08,195.90 L380.26,197.14 L380.43,198.36 L380.60,199.55 L380.78,200.71 L380.95,201.84 L381.13,202.94 L381.30,204.00 L381.55,205.49 L381.79,206.98 L382.04,208.49 L382.28,210.00 L382.53,211.50 L382.78,213.01 L383.02,214.51 L383.27,216.01 L383.51,217.50 L383.76,218.97 L384.01,220.42 L384.25,221.86 L384.50,223.28 L384.74,224.67 L384.99,226.03 L385.24,227.37 L385.48,228.67 L385.73,229.93 L385.97,231.16 L386.22,232.35 L386.46,233.49 L386.71,234.58 L386.96,235.62 L387.20,236.62 L387.45,237.55 L387.69,238.43 L387.94,239.24 L388.19,239.99 L388.43,240.68 L388.68,241.29 L388.92,241.84 L389.17,242.30 L389.42,242.69 L389.66,243.00 L389.91,243.22 L390.15,243.35 L390.40,243.40 L390.62,243.35 L390.84,243.20 L391.06,242.96 L391.28,242.63 L391.50,242.21 L391.72,241.71 L391.94,241.12 L392.16,240.46 L392.39,239.71 L392.61,238.90 L392.83,238.01 L393.05,237.06 L393.27,236.04 L393.49,234.96 L393.71,233.82 L393.93,232.63 L394.15,231.38 L394.37,230.09 L394.59,228.74 L394.81,227.36 L395.03,225.93 L395.25,224.46 L395.47,222.96 L395.69,221.43 L395.91,219.87 L396.14,218.28 L396.36,216.67 L396.58,215.04 L396.80,213.39 L397.02,211.73 L397.24,210.06 L397.46,208.38 L397.68,206.69 L397.90,205.00 L398.05,203.85 L398.19,202.67 L398.34,201.44 L398.49,200.17 L398.63,198.87 L398.78,197.54 L398.93,196.17 L399.07,194.77 L399.22,193.34 L399.37,191.89 L399.51,190.41 L399.66,188.90 L399.81,187.38 L399.96,185.84 L400.10,184.27 L400.25,182.70 L400.40,181.11 L400.54,179.50 L400.69,177.89 L400.84,176.27 L400.98,174.64 L401.13,173.00 L401.28,171.37 L401.42,169.73 L401.57,168.09 L401.72,166.46 L401.86,164.83 L402.01,163.21 L402.16,161.59 L402.30,159.99 L402.45,158.39 L402.60,156.81 L402.74,155.25 L402.89,153.70 L403.04,152.17 L403.19,150.67 L403.33,149.18 L403.48,147.72 L403.63,146.29 L403.77,144.88 L403.92,143.51 L404.07,142.17 L404.21,140.86 L404.36,139.59 L404.51,138.35 L404.65,137.15 L404.80,136.00 L405.07,133.92 L405.35,131.91 L405.62,129.95 L405.89,128.05 L406.16,126.20 L406.44,124.41 L406.71,122.68 L406.98,121.01 L407.26,119.39 L407.53,117.82 L407.80,116.30 L408.07,114.84 L408.35,113.43 L408.62,112.07 L408.89,110.77 L409.17,109.51 L409.44,108.30 L409.71,107.14 L409.99,106.03 L410.26,104.96 L410.53,103.94 L410.80,102.97 L411.08,102.04 L411.35,101.16 L411.62,100.32 L411.90,99.52 L412.17,98.77 L412.44,98.06 L412.71,97.39 L412.99,96.76 L413.26,96.17 L413.53,95.62 L413.81,95.11 L414.08,94.63 L414.35,94.20 L414.62,93.80 L414.90,93.43 L415.17,93.10 L415.44,92.81 L415.72,92.55 L415.99,92.32 L416.26,92.13 L416.54,91.96 L416.81,91.83 L417.08,91.73 L417.35,91.66 L417.63,91.61 L417.90,91.60 L418.16,91.64 L418.42,91.75 L418.69,91.94 L418.95,92.20 L419.21,92.53 L419.47,92.93 L419.74,93.39 L420.00,93.92 L420.26,94.51 L420.52,95.16 L420.78,95.87 L421.05,96.64 L421.31,97.47 L421.57,98.34 L421.83,99.27 L422.09,100.25 L422.36,101.28 L422.62,102.35 L422.88,103.46 L423.14,104.62 L423.41,105.82 L423.67,107.06 L423.93,108.33 L424.19,109.64 L424.45,110.98 L424.72,112.36 L424.98,113.76 L425.24,115.19 L425.50,116.65 L425.76,118.13 L426.03,119.63 L426.29,121.15 L426.55,122.69 L426.81,124.25 L427.08,125.82 L427.34,127.40 L427.60,129.00 L427.76,130.02 L427.93,131.08 L428.09,132.18 L428.26,133.31 L428.42,134.47 L428.59,135.67 L428.75,136.89 L428.92,138.15 L429.08,139.43 L429.24,140.74 L429.41,142.07 L429.57,143.43 L429.74,144.81 L429.90,146.21 L430.07,147.64 L430.23,149.08 L430.39,150.54 L430.56,152.01 L430.72,153.50 L430.89,155.00 L431.05,156.52 L431.22,158.04 L431.38,159.58 L431.55,161.12 L431.71,162.67 L431.87,164.23 L432.04,165.79 L432.20,167.35 L432.37,168.91 L432.53,170.48 L432.70,172.04 L432.86,173.60 L433.03,175.16 L433.19,176.71 L433.35,178.26 L433.52,179.79 L433.68,181.32 L433.85,182.84 L434.01,184.35 L434.18,185.84 L434.34,187.32 L434.51,188.78 L434.67,190.23 L434.83,191.66 L435.00,193.07 L435.16,194.46 L435.33,195.82 L435.49,197.17 L435.66,198.48 L435.82,199.77 L435.98,201.04 L436.15,202.27 L436.31,203.48 L436.48,204.65 L436.64,205.79 L436.81,206.90 L436.97,207.97 L437.14,209.00 L437.30,210.00 L437.57,211.58 L437.84,213.15 L438.10,214.70 L438.37,216.23 L438.64,217.74 L438.91,219.23 L439.17,220.69 L439.44,222.13 L439.71,223.54 L439.98,224.91 L440.24,226.26 L440.51,227.56 L440.78,228.83 L441.05,230.07 L441.31,231.26 L441.58,232.40 L441.85,233.51 L442.12,234.57 L442.39,235.57 L442.65,236.53 L442.92,237.43 L443.19,238.28 L443.46,239.08 L443.72,239.81 L443.99,240.49 L444.26,241.10 L444.53,241.64 L444.79,242.13 L445.06,242.54 L445.33,242.88 L445.60,243.15 L445.86,243.34 L446.13,243.46 L446.40,243.50 L446.64,243.45 L446.88,243.31 L447.12,243.08 L447.36,242.76 L447.60,242.36 L447.84,241.87 L448.08,241.31 L448.32,240.67 L448.56,239.96 L448.81,239.18 L449.05,238.33 L449.29,237.42 L449.53,236.45 L449.77,235.42 L450.01,234.34 L450.25,233.21 L450.49,232.03 L450.73,230.80 L450.97,229.53 L451.21,228.23 L451.45,226.88 L451.69,225.51 L451.93,224.10 L452.17,222.67 L452.41,221.22 L452.65,219.74 L452.89,218.25 L453.14,216.74 L453.38,215.22 L453.62,213.69 L453.86,212.15 L454.10,210.62 L454.34,209.08 L454.58,207.55 L454.82,206.02 L455.06,204.50 L455.30,203.00 L455.47,201.95 L455.63,200.87 L455.80,199.75 L455.96,198.60 L456.13,197.43 L456.30,196.22 L456.46,194.99 L456.63,193.73 L456.80,192.45 L456.96,191.14 L457.13,189.81 L457.29,188.46 L457.46,187.09 L457.63,185.69 L457.79,184.29 L457.96,182.86 L458.12,181.42 L458.29,179.96 L458.46,178.49 L458.62,177.01 L458.79,175.51 L458.95,174.01 L459.12,172.50 L459.29,170.98 L459.45,169.45 L459.62,167.92 L459.79,166.38 L459.95,164.84 L460.12,163.30 L460.28,161.76 L460.45,160.22 L460.62,158.68 L460.78,157.14 L460.95,155.61 L461.11,154.08 L461.28,152.56 L461.45,151.04 L461.61,149.54 L461.78,148.04 L461.95,146.56 L462.11,145.09 L462.28,143.63 L462.44,142.18 L462.61,140.75 L462.78,139.34 L462.94,137.94 L463.11,136.57 L463.27,135.21 L463.44,133.88 L463.61,132.57 L463.77,131.28 L463.94,130.01 L464.10,128.78 L464.27,127.57 L464.44,126.38 L464.60,125.23 L464.77,124.11 L464.94,123.02 L465.10,121.96 L465.27,120.94 L465.43,119.95 L465.60,119.00 L465.89,117.38 L466.18,115.79 L466.47,114.23 L466.76,112.71 L467.06,111.22 L467.35,109.76 L467.64,108.34 L467.93,106.96 L468.22,105.61 L468.51,104.30 L468.80,103.04 L469.09,101.81 L469.39,100.63 L469.68,99.49 L469.97,98.40 L470.26,97.35 L470.55,96.35 L470.84,95.40 L471.13,94.50 L471.42,93.64 L471.71,92.84 L472.01,92.09 L472.30,91.40 L472.59,90.76 L472.88,90.17 L473.17,89.64 L473.46,89.17 L473.75,88.76 L474.04,88.41 L474.34,88.12 L474.63,87.90 L474.92,87.73 L475.21,87.63 L475.50,87.60 L475.78,87.64 L476.05,87.76 L476.33,87.97 L476.61,88.24 L476.89,88.59 L477.16,89.01 L477.44,89.50 L477.72,90.06 L477.99,90.67 L478.27,91.35 L478.55,92.08 L478.83,92.87 L479.10,93.71 L479.38,94.60 L479.66,95.54 L479.93,96.52 L480.21,97.54 L480.49,98.61 L480.77,99.70 L481.04,100.83 L481.32,101.99 L481.60,103.18 L481.87,104.40 L482.15,105.64 L482.43,106.89 L482.71,108.17 L482.98,109.46 L483.26,110.76 L483.54,112.07 L483.81,113.39 L484.09,114.72 L484.37,116.04 L484.65,117.37 L484.92,118.69 L485.20,120.00 L485.40,120.96 L485.60,121.96 L485.80,122.98 L486.00,124.04 L486.20,125.12 L486.40,126.23 L486.60,127.37 L486.80,128.53 L487.00,129.71 L487.20,130.92 L487.40,132.15 L487.60,133.40 L487.80,134.66 L488.00,135.95 L488.20,137.24 L488.40,138.56 L488.60,139.88 L488.80,141.22 L489.00,142.57 L489.20,143.93 L489.40,145.29 L489.60,146.66 L489.80,148.04 L490.00,149.42 L490.20,150.81 L490.40,152.20 L490.60,153.58 L490.80,154.97 L491.00,156.35 L491.20,157.73 L491.40,159.11 L491.60,160.48 L491.80,161.84 L492.00,163.19 L492.20,164.53 L492.40,165.87 L492.60,167.19 L492.80,168.49 L493.00,169.78 L493.20,171.06 L493.40,172.31 L493.60,173.55 L493.80,174.77 L494.00,175.96 L494.20,177.13 L494.40,178.28 L494.60,179.41 L494.80,180.50 L495.00,181.57 L495.20,182.61 L495.40,183.62 L495.60,184.60 L495.88,185.95 L496.16,187.30 L496.44,188.65 L496.72,189.99 L497.00,191.33 L497.28,192.66 L497.56,193.99 L497.84,195.30 L498.12,196.61 L498.40,197.90 L498.69,199.17 L498.97,200.43 L499.25,201.67 L499.53,202.89 L499.81,204.09 L500.09,205.26 L500.37,206.41 L500.65,207.53 L500.93,208.63 L501.21,209.69 L501.49,210.72 L501.77,211.72 L502.05,212.68 L502.33,213.60 L502.61,214.49 L502.89,215.34 L503.17,216.14 L503.45,216.90 L503.73,217.61 L504.01,218.28 L504.30,218.90 L504.58,219.46 L504.86,219.98 L505.14,220.44 L505.42,220.84 L505.70,221.19 L505.98,221.48 L506.26,221.70 L506.54,221.87 L506.82,221.97 L507.10,222.00 L507.37,221.95 L507.64,221.81 L507.92,221.58 L508.19,221.27 L508.46,220.87 L508.73,220.39 L509.01,219.84 L509.28,219.21 L509.55,218.52 L509.82,217.77 L510.09,216.95 L510.37,216.08 L510.64,215.15 L510.91,214.17 L511.18,213.14 L511.46,212.08 L511.73,210.97 L512.00,209.83 L512.27,208.65 L512.54,207.45 L512.82,206.22 L513.09,204.97 L513.36,203.70 L513.63,202.42 L513.91,201.12 L514.18,199.82 L514.45,198.52 L514.72,197.21 L514.99,195.91 L515.27,194.62 L515.54,193.33 L515.81,192.06 L516.08,190.81 L516.36,189.58 L516.63,188.38 L516.90,187.20 L517.13,186.21 L517.36,185.19 L517.59,184.15 L517.82,183.08 L518.04,182.00 L518.27,180.89 L518.50,179.76 L518.73,178.61 L518.96,177.44 L519.19,176.26 L519.42,175.07 L519.65,173.86 L519.88,172.64 L520.10,171.41 L520.33,170.17 L520.56,168.92 L520.79,167.67 L521.02,166.41 L521.25,165.15 L521.48,163.88 L521.71,162.62 L521.94,161.35 L522.16,160.09 L522.39,158.83 L522.62,157.57 L522.85,156.32 L523.08,155.08 L523.31,153.85 L523.54,152.62 L523.77,151.41 L524.00,150.21 L524.22,149.03 L524.45,147.86 L524.68,146.70 L524.91,145.57 L525.14,144.45 L525.37,143.35 L525.60,142.28 L525.83,141.23 L526.06,140.21 L526.28,139.21 L526.51,138.24 L526.74,137.29 L526.97,136.38 L527.20,135.50 L527.51,134.33 L527.82,133.15 L528.13,131.96 L528.44,130.78 L528.75,129.60 L529.06,128.43 L529.37,127.28 L529.68,126.13 L529.99,125.00 L530.30,123.89 L530.61,122.81 L530.92,121.75 L531.23,120.72 L531.54,119.72 L531.85,118.76 L532.16,117.84 L532.47,116.96 L532.78,116.12 L533.09,115.34 L533.40,114.60 L533.71,113.92 L534.02,113.30 L534.33,112.74 L534.64,112.24 L534.95,111.82 L535.26,111.46 L535.57,111.18 L535.88,110.97 L536.19,110.84 L536.50,110.80 L536.80,110.85 L537.10,110.98 L537.40,111.21 L537.70,111.52 L538.00,111.91 L538.30,112.37 L538.60,112.91 L538.90,113.52 L539.20,114.19 L539.50,114.93 L539.80,115.72 L540.10,116.58 L540.40,117.48 L540.70,118.43 L541.00,119.43 L541.30,120.47 L541.60,121.55 L541.90,122.66 L542.20,123.81 L542.50,124.98 L542.80,126.18 L543.10,127.39 L543.40,128.63 L543.70,129.87 L544.00,131.13 L544.30,132.40 L544.60,133.67 L544.90,134.93 L545.20,136.20 L545.50,137.45 L545.80,138.70 L546.02,139.62 L546.24,140.57 L546.46,141.54 L546.68,142.55 L546.90,143.57 L547.11,144.63 L547.33,145.70 L547.55,146.79 L547.77,147.91 L547.99,149.04 L548.21,150.19 L548.43,151.35 L548.65,152.53 L548.87,153.73 L549.09,154.93 L549.30,156.14 L549.52,157.37 L549.74,158.60 L549.96,159.84 L550.18,161.08 L550.40,162.32 L550.62,163.57 L550.84,164.82 L551.06,166.07 L551.28,167.32 L551.50,168.56 L551.71,169.80 L551.93,171.04 L552.15,172.27 L552.37,173.49 L552.59,174.70 L552.81,175.90 L553.03,177.08 L553.25,178.26 L553.47,179.42 L553.69,180.56 L553.90,181.68 L554.12,182.79 L554.34,183.88 L554.56,184.94 L554.78,185.98 L555.00,187.00 L555.26,188.21 L555.52,189.45 L555.79,190.70 L556.05,191.96 L556.31,193.24 L556.58,194.53 L556.84,195.82 L557.10,197.13 L557.36,198.44 L557.62,199.75 L557.89,201.07 L558.15,202.38 L558.41,203.69 L558.67,205.00 L558.94,206.30 L559.20,207.59 L559.46,208.88 L559.73,210.15 L559.99,211.41 L560.25,212.65 L560.51,213.88 L560.77,215.08 L561.04,216.27 L561.30,217.43 L561.56,218.56 L561.83,219.67 L562.09,220.75 L562.35,221.80 L562.61,222.82 L562.88,223.80 L563.14,224.75 L563.40,225.65 L563.66,226.52 L563.93,227.34 L564.19,228.13 L564.45,228.86 L564.71,229.55 L564.98,230.18 L565.24,230.77 L565.50,231.30 L565.76,231.78 L566.02,232.20 L566.29,232.56 L566.55,232.86 L566.81,233.09 L567.08,233.26 L567.34,233.36 L567.60,233.40 L567.91,233.36 L568.22,233.25 L568.52,233.07 L568.83,232.82 L569.14,232.51 L569.45,232.13 L569.76,231.69 L570.07,231.20 L570.38,230.65 L570.68,230.05 L570.99,229.40 L571.30,228.71 L571.61,227.97 L571.92,227.19 L572.23,226.37 L572.53,225.52 L572.84,224.64 L573.15,223.72 L573.46,222.78 L573.77,221.82 L574.08,220.83 L574.38,219.82 L574.69,218.80 L575.00,217.77 L575.31,216.72 L575.62,215.67 L575.93,214.61 L576.23,213.55 L576.54,212.49 L576.85,211.43 L577.16,210.38 L577.47,209.33 L577.78,208.30 L578.08,207.28 L578.39,206.28 L578.70,205.30 L578.96,204.46 L579.23,203.58 L579.49,202.68 L579.75,201.75 L580.02,200.80 L580.28,199.83 L580.54,198.84 L580.81,197.83 L581.07,196.80 L581.33,195.76 L581.59,194.71 L581.86,193.64 L582.12,192.57 L582.38,191.49 L582.65,190.40 L582.91,189.31 L583.17,188.22 L583.44,187.13 L583.70,186.04 L583.96,184.96 L584.23,183.88 L584.49,182.81 L584.75,181.75 L585.02,180.70 L585.28,179.66 L585.54,178.64 L585.81,177.63 L586.07,176.64 L586.33,175.68 L586.59,174.73 L586.86,173.81 L587.12,172.92 L587.38,172.05 L587.65,171.21 L587.91,170.41 L588.17,169.64 L588.44,168.90 L588.70,168.20 L589.07,167.26 L589.44,166.33 L589.80,165.42 L590.17,164.53 L590.54,163.67 L590.91,162.82 L591.28,162.01 L591.64,161.22 L592.01,160.46 L592.38,159.74 L592.75,159.05 L593.12,158.39 L593.48,157.77 L593.85,157.19 L594.22,156.65 L594.59,156.15 L594.96,155.70 L595.32,155.29 L595.69,154.93 L596.06,154.63 L596.43,154.37 L596.80,154.17 L597.16,154.02 L597.53,153.93 L597.90,153.90 L598.29,153.95 L598.68,154.08 L599.07,154.30 L599.46,154.59 L599.85,154.96 L600.24,155.40 L600.63,155.90 L601.02,156.45 L601.41,157.06 L601.79,157.71 L602.18,158.40 L602.57,159.13 L602.96,159.89 L603.35,160.68 L603.74,161.48 L604.13,162.30 L604.52,163.13 L604.91,163.97 L605.30,164.80 L605.63,165.53 L605.97,166.29 L606.30,167.08 L606.63,167.89 L606.97,168.71 L607.30,169.54 L607.63,170.37 L607.97,171.19 L608.30,172.00" stroke="#00b0f0" stroke-width="3"/>
<path d="M418.50,179.50 L418.96,179.70 L419.42,179.88 L419.88,180.06 L420.34,180.24 L420.80,180.42 L421.26,180.61 L421.72,180.82 L422.18,181.05 L422.64,181.31 L423.10,181.60 L423.54,181.91 L423.99,182.23 L424.43,182.56 L424.88,182.92 L425.32,183.30 L425.77,183.70 L426.21,184.13 L426.66,184.60 L427.10,185.10 L427.49,185.57 L427.88,186.05 L428.27,186.56 L428.66,187.09 L429.04,187.64 L429.43,188.22 L429.82,188.82 L430.21,189.45 L430.60,190.10 L430.95,190.71 L431.30,191.34 L431.65,191.99 L432.00,192.66 L432.35,193.34 L432.70,194.05 L433.05,194.78 L433.40,195.53 L433.75,196.31 L434.10,197.10 L434.42,197.85 L434.74,198.63 L435.05,199.44 L435.37,200.27 L435.69,201.11 L436.01,201.97 L436.33,202.83 L436.65,203.69 L436.96,204.54 L437.28,205.38 L437.60,206.20 L437.93,207.03 L438.25,207.87 L438.58,208.70 L438.91,209.53 L439.24,210.35 L439.56,211.18 L439.89,211.99 L440.22,212.80 L440.55,213.61 L440.87,214.41 L441.20,215.20 L441.52,215.97 L441.84,216.73 L442.15,217.50 L442.47,218.26 L442.79,219.02 L443.11,219.76 L443.43,220.50 L443.75,221.22 L444.06,221.93 L444.38,222.63 L444.70,223.30 L445.05,224.03 L445.40,224.77 L445.75,225.51 L446.10,226.23 L446.45,226.93 L446.80,227.60 L447.15,228.23 L447.50,228.81 L447.85,229.34 L448.20,229.80 L448.63,230.29 L449.06,230.73 L449.49,231.10 L449.91,231.40 L450.34,231.62 L450.77,231.75 L451.20,231.80 L451.63,231.74 L452.06,231.58 L452.49,231.31 L452.91,230.95 L453.34,230.49 L453.77,229.94 L454.20,229.30 L454.53,228.75 L454.87,228.14 L455.20,227.47 L455.53,226.75 L455.87,225.98 L456.20,225.14 L456.53,224.25 L456.87,223.31 L457.20,222.30 L457.46,221.48 L457.72,220.63 L457.98,219.75 L458.23,218.84 L458.49,217.89 L458.75,216.91 L459.01,215.89 L459.27,214.83 L459.52,213.73 L459.78,212.59 L460.04,211.42 L460.30,210.20 L460.52,209.14 L460.74,208.06 L460.95,206.96 L461.17,205.83 L461.39,204.67 L461.61,203.48 L461.82,202.27 L462.04,201.03 L462.26,199.76 L462.48,198.46 L462.69,197.13 L462.91,195.77 L463.13,194.38 L463.35,192.96 L463.56,191.51 L463.78,190.02 L464.00,188.50 L464.17,187.30 L464.33,186.07 L464.50,184.81 L464.67,183.52 L464.83,182.21 L465.00,180.87 L465.17,179.52 L465.33,178.15 L465.50,176.77 L465.67,175.38 L465.83,173.99 L466.00,172.59 L466.17,171.20 L466.33,169.82 L466.50,168.44 L466.67,167.08 L466.83,165.73 L467.00,164.40 L467.17,163.04 L467.34,161.69 L467.52,160.35 L467.69,159.01 L467.86,157.67 L468.03,156.34 L468.21,155.01 L468.38,153.68 L468.55,152.35 L468.72,151.02 L468.89,149.69 L469.07,148.36 L469.24,147.03 L469.41,145.69 L469.58,144.35 L469.76,143.01 L469.93,141.66 L470.10,140.30 L470.27,138.98 L470.43,137.66 L470.60,136.33 L470.77,135.00 L470.93,133.66 L471.10,132.32 L471.27,130.98 L471.43,129.64 L471.60,128.30 L471.77,126.95 L471.93,125.61 L472.10,124.26 L472.27,122.92 L472.43,121.57 L472.60,120.23 L472.77,118.88 L472.93,117.54 L473.10,116.20 L473.27,114.85 L473.43,113.48 L473.60,112.09 L473.77,110.69 L473.93,109.28 L474.10,107.87 L474.27,106.45 L474.43,105.04 L474.60,103.64 L474.77,102.26 L474.93,100.88 L475.10,99.53 L475.27,98.21 L475.43,96.91 L475.60,95.65 L475.77,94.42 L475.93,93.24 L476.10,92.10 L476.31,90.68 L476.53,89.30 L476.74,87.96 L476.96,86.65 L477.17,85.38 L477.39,84.15 L477.60,82.97 L477.81,81.84 L478.03,80.75 L478.24,79.71 L478.46,78.72 L478.67,77.79 L478.89,76.92 L479.10,76.10 L479.48,74.79 L479.86,73.65 L480.23,72.67 L480.61,71.84 L480.99,71.17 L481.37,70.66 L481.74,70.29 L482.12,70.07 L482.50,70.00 L482.86,70.05 L483.22,70.20 L483.58,70.47 L483.94,70.85 L484.30,71.36 L484.66,72.01 L485.02,72.80 L485.38,73.74 L485.74,74.84 L486.10,76.10 L486.30,76.87 L486.50,77.70 L486.70,78.57 L486.90,79.49 L487.10,80.45 L487.30,81.47 L487.50,82.53 L487.70,83.63 L487.90,84.78 L488.10,85.97 L488.30,87.21 L488.50,88.49 L488.70,89.81 L488.90,91.18 L489.10,92.58 L489.30,94.03 L489.50,95.51 L489.70,97.04 L489.90,98.60 L490.10,100.20 L490.25,101.41 L490.40,102.66 L490.54,103.93 L490.69,105.23 L490.84,106.56 L490.99,107.92 L491.13,109.30 L491.28,110.70 L491.43,112.13 L491.58,113.57 L491.72,115.03 L491.87,116.51 L492.02,118.00 L492.17,119.51 L492.31,121.03 L492.46,122.56 L492.61,124.09 L492.76,125.64 L492.90,127.19 L493.05,128.74 L493.20,130.30 L493.33,131.69 L493.46,133.10 L493.59,134.53 L493.72,135.98 L493.85,137.45 L493.98,138.93 L494.11,140.43 L494.24,141.94 L494.37,143.45 L494.50,144.97 L494.63,146.50 L494.77,148.02 L494.90,149.55 L495.03,151.08 L495.16,152.60 L495.29,154.12 L495.42,155.63 L495.55,157.13 L495.68,158.61 L495.81,160.09 L495.94,161.54 L496.07,162.98 L496.20,164.40 L496.35,165.98 L496.50,167.54 L496.64,169.07 L496.79,170.59 L496.94,172.09 L497.09,173.58 L497.23,175.06 L497.38,176.52 L497.53,177.99 L497.68,179.45 L497.82,180.90 L497.97,182.36 L498.12,183.83 L498.27,185.30 L498.41,186.78 L498.56,188.27 L498.71,189.78 L498.86,191.30 L499.00,192.85 L499.15,194.41 L499.30,196.00 L499.43,197.43 L499.56,198.89 L499.69,200.38 L499.82,201.91 L499.95,203.46 L500.08,205.03 L500.21,206.62 L500.34,208.22 L500.47,209.83 L500.60,211.46 L500.73,213.08 L500.86,214.71 L500.99,216.33 L501.11,217.94 L501.24,219.54 L501.37,221.13 L501.50,222.70 L501.63,224.25 L501.76,225.77 L501.89,227.27 L502.02,228.73 L502.15,230.15 L502.28,231.54 L502.41,232.88 L502.54,234.17 L502.67,235.41 L502.80,236.60 L503.00,238.35 L503.20,240.01 L503.40,241.61 L503.60,243.13 L503.80,244.60 L504.00,246.01 L504.20,247.38 L504.40,248.70 L504.60,249.99 L504.80,251.24 L505.00,252.48 L505.20,253.70 L505.44,255.12 L505.68,256.48 L505.92,257.79 L506.15,259.05 L506.39,260.26 L506.63,261.42 L506.87,262.53 L507.11,263.60 L507.35,264.62 L507.58,265.60 L507.82,266.54 L508.06,267.44 L508.30,268.30 L508.67,269.58 L509.04,270.80 L509.41,271.93 L509.78,272.96 L510.15,273.89 L510.52,274.68 L510.89,275.32 L511.26,275.80 L511.63,276.10 L512.00,276.20 L512.48,276.13 L512.96,275.87 L513.44,275.35 L513.92,274.48 L514.40,273.20 L514.64,272.35 L514.88,271.34 L515.12,270.19 L515.36,268.95 L515.60,267.63 L515.84,266.27 L516.08,264.90 L516.32,263.54 L516.56,262.23 L516.80,261.00 L517.04,259.84 L517.28,258.70 L517.52,257.59 L517.75,256.48 L517.99,255.39 L518.23,254.30 L518.47,253.21 L518.71,252.11 L518.95,251.00 L519.18,249.87 L519.42,248.71 L519.66,247.52 L519.90,246.30 L520.11,245.17 L520.33,244.01 L520.54,242.82 L520.76,241.61 L520.97,240.39 L521.19,239.15 L521.40,237.90 L521.61,236.65 L521.83,235.40 L522.04,234.16 L522.26,232.92 L522.47,231.70 L522.69,230.49 L522.90,229.30 L523.13,228.03 L523.36,226.77 L523.59,225.50 L523.83,224.24 L524.06,222.99 L524.29,221.74 L524.52,220.50 L524.75,219.27 L524.98,218.05 L525.21,216.83 L525.44,215.63 L525.67,214.44 L525.91,213.26 L526.14,212.09 L526.37,210.94 L526.60,209.80 L526.85,208.58 L527.10,207.38 L527.36,206.20 L527.61,205.03 L527.86,203.88 L528.11,202.75 L528.36,201.63 L528.62,200.53 L528.87,199.44 L529.12,198.36 L529.37,197.30 L529.62,196.25 L529.88,195.20 L530.13,194.17 L530.38,193.15 L530.63,192.13 L530.88,191.12 L531.14,190.12 L531.39,189.12 L531.64,188.12 L531.89,187.13 L532.14,186.15 L532.40,185.16 L532.65,184.18 L532.90,183.20 L533.19,182.08 L533.47,180.96 L533.76,179.85 L534.05,178.73 L534.33,177.63 L534.62,176.53 L534.91,175.44 L535.19,174.37 L535.48,173.31 L535.77,172.27 L536.05,171.25 L536.34,170.25 L536.63,169.27 L536.91,168.32 L537.20,167.40 L537.53,166.37 L537.86,165.38 L538.19,164.41 L538.52,163.48 L538.85,162.57 L539.18,161.69 L539.52,160.83 L539.85,159.99 L540.18,159.16 L540.51,158.36 L540.84,157.56 L541.17,156.78 L541.50,156.00 L541.86,155.17 L542.22,154.36 L542.58,153.56 L542.93,152.79 L543.29,152.03 L543.65,151.29 L544.01,150.58 L544.37,149.88 L544.72,149.20 L545.08,148.55 L545.44,147.91 L545.80,147.30 L546.23,146.60 L546.66,145.93 L547.09,145.29 L547.52,144.68 L547.95,144.10 L548.38,143.55 L548.81,143.02 L549.24,142.53 L549.67,142.05 L550.10,141.60 L550.59,141.11 L551.08,140.63 L551.58,140.19 L552.07,139.77 L552.56,139.39 L553.05,139.04 L553.54,138.74 L554.03,138.49 L554.52,138.28 L555.02,138.13 L555.51,138.03 L556.00,138.00 L556.47,138.05 L556.93,138.20 L557.40,138.44 L557.87,138.77 L558.33,139.19 L558.80,139.68 L559.27,140.25 L559.73,140.89 L560.20,141.60 L560.53,142.14 L560.86,142.71 L561.19,143.31 L561.52,143.94 L561.85,144.61 L562.18,145.32 L562.52,146.07 L562.85,146.87 L563.18,147.71 L563.51,148.61 L563.84,149.55 L564.17,150.55 L564.50,151.60 L564.75,152.45 L565.00,153.33 L565.26,154.26 L565.51,155.22 L565.76,156.22 L566.01,157.25 L566.27,158.31 L566.52,159.40 L566.77,160.51 L567.02,161.65 L567.28,162.81 L567.53,163.99 L567.78,165.18 L568.03,166.39 L568.29,167.62 L568.54,168.85 L568.79,170.09 L569.04,171.34 L569.30,172.59 L569.55,173.85 L569.80,175.10 L570.01,176.15 L570.22,177.23 L570.43,178.33 L570.64,179.45 L570.85,180.58 L571.06,181.74 L571.27,182.91 L571.48,184.09 L571.69,185.29 L571.90,186.49 L572.11,187.71 L572.32,188.93 L572.53,190.16 L572.74,191.40 L572.95,192.64 L573.15,193.88 L573.36,195.12 L573.57,196.35 L573.78,197.59 L573.99,198.82 L574.20,200.04 L574.41,201.26 L574.62,202.47 L574.83,203.66 L575.04,204.85 L575.25,206.02 L575.46,207.17 L575.67,208.31 L575.88,209.43 L576.09,210.52 L576.30,211.60 L576.54,212.79 L576.77,213.97 L577.01,215.15 L577.24,216.31 L577.48,217.47 L577.71,218.61 L577.95,219.75 L578.18,220.88 L578.42,222.00 L578.65,223.11 L578.89,224.21 L579.12,225.30 L579.36,226.38 L579.59,227.45 L579.83,228.51 L580.06,229.56 L580.30,230.60 L580.58,231.83 L580.86,233.07 L581.14,234.32 L581.41,235.57 L581.69,236.80 L581.97,238.02 L582.25,239.22 L582.53,240.38 L582.81,241.51 L583.09,242.60 L583.36,243.64 L583.64,244.63 L583.92,245.55 L584.20,246.40 L584.56,247.45 L584.93,248.44 L585.29,249.39 L585.65,250.26 L586.02,251.05 L586.38,251.75 L586.75,252.35 L587.11,252.84 L587.47,253.20 L587.84,253.42 L588.20,253.50 L588.63,253.46 L589.07,253.35 L589.50,253.14 L589.93,252.84 L590.37,252.43 L590.80,251.90 L591.23,251.24 L591.67,250.44 L592.10,249.50 L592.39,248.78 L592.68,248.00 L592.97,247.15 L593.26,246.24 L593.55,245.27 L593.85,244.25 L594.14,243.18 L594.43,242.07 L594.72,240.92 L595.01,239.73 L595.30,238.50 L595.53,237.49 L595.76,236.43 L595.99,235.33 L596.22,234.18 L596.45,233.00 L596.68,231.79 L596.91,230.55 L597.14,229.29 L597.36,228.02 L597.59,226.73 L597.82,225.44 L598.05,224.16 L598.28,222.87 L598.51,221.60 L598.74,220.34 L598.97,219.11 L599.20,217.90 L599.42,216.75 L599.64,215.61 L599.87,214.47 L600.09,213.34 L600.31,212.22 L600.53,211.10 L600.76,209.98 L600.98,208.87 L601.20,207.75 L601.42,206.63 L601.64,205.50 L601.87,204.37 L602.09,203.24 L602.31,202.09 L602.53,200.94 L602.76,199.77 L602.98,198.59 L603.20,197.40 L603.42,196.19 L603.64,194.96 L603.86,193.72 L604.09,192.46 L604.31,191.19 L604.53,189.91 L604.75,188.64 L604.97,187.36 L605.19,186.10 L605.41,184.84 L605.64,183.60 L605.86,182.38 L606.08,181.17 L606.30,180.00 L606.52,178.85 L606.74,177.71 L606.97,176.60 L607.19,175.49 L607.41,174.39 L607.63,173.30 L607.86,172.20 L608.08,171.11 L608.30,170.00" stroke="#ff0000" stroke-width="2.15"/>
</g>
<g fill="none" stroke-linejoin="round" stroke-linecap="round" clip-path="url(#cB)">
<path d="M95.80,544.50 L96.29,544.80 L96.79,545.13 L97.28,545.48 L97.77,545.84 L98.26,546.21 L98.76,546.58 L99.25,546.94 L99.74,547.27 L100.24,547.58 L100.73,547.85 L101.22,548.08 L101.71,548.25 L102.21,548.36 L102.70,548.40 L102.96,548.36 L103.21,548.23 L103.47,548.03 L103.72,547.74 L103.98,547.39 L104.23,546.95 L104.49,546.45 L104.74,545.88 L105.00,545.24 L105.26,544.54 L105.51,543.78 L105.77,542.96 L106.02,542.08 L106.28,541.14 L106.53,540.16 L106.79,539.12 L107.04,538.04 L107.30,536.92 L107.56,535.75 L107.81,534.54 L108.07,533.29 L108.32,532.01 L108.58,530.69 L108.83,529.34 L109.09,527.97 L109.34,526.57 L109.60,525.14 L109.86,523.70 L110.11,522.23 L110.37,520.75 L110.62,519.26 L110.88,517.75 L111.13,516.23 L111.39,514.71 L111.64,513.18 L111.90,511.65 L112.16,510.12 L112.41,508.59 L112.67,507.07 L112.92,505.55 L113.18,504.04 L113.43,502.55 L113.69,501.07 L113.94,499.60 L114.20,498.16 L114.46,496.73 L114.71,495.33 L114.97,493.96 L115.22,492.61 L115.48,491.29 L115.73,490.01 L115.99,488.76 L116.24,487.55 L116.50,486.38 L116.76,485.26 L117.01,484.18 L117.27,483.14 L117.52,482.16 L117.78,481.22 L118.03,480.34 L118.29,479.52 L118.54,478.76 L118.80,478.06 L119.06,477.42 L119.31,476.85 L119.57,476.35 L119.82,475.91 L120.08,475.56 L120.33,475.27 L120.59,475.07 L120.84,474.94 L121.10,474.90 L121.33,474.93 L121.57,475.02 L121.80,475.17 L122.04,475.38 L122.27,475.64 L122.51,475.96 L122.74,476.33 L122.97,476.75 L123.21,477.23 L123.44,477.75 L123.68,478.33 L123.91,478.95 L124.15,479.63 L124.38,480.34 L124.61,481.10 L124.85,481.91 L125.08,482.76 L125.32,483.65 L125.55,484.57 L125.79,485.54 L126.02,486.55 L126.25,487.59 L126.49,488.67 L126.72,489.78 L126.96,490.92 L127.19,492.10 L127.43,493.31 L127.66,494.55 L127.89,495.81 L128.13,497.10 L128.36,498.42 L128.60,499.77 L128.83,501.13 L129.07,502.53 L129.30,503.94 L129.53,505.37 L129.77,506.82 L130.00,508.29 L130.24,509.78 L130.47,511.28 L130.71,512.79 L130.94,514.32 L131.17,515.87 L131.41,517.42 L131.64,518.98 L131.88,520.55 L132.11,522.13 L132.35,523.72 L132.58,525.31 L132.81,526.90 L133.05,528.50 L133.28,530.10 L133.52,531.70 L133.75,533.30 L133.99,534.90 L134.22,536.49 L134.45,538.08 L134.69,539.67 L134.92,541.25 L135.16,542.82 L135.39,544.38 L135.63,545.93 L135.86,547.48 L136.09,549.01 L136.33,550.52 L136.56,552.02 L136.80,553.51 L137.03,554.98 L137.27,556.43 L137.50,557.86 L137.73,559.27 L137.97,560.67 L138.20,562.03 L138.44,563.38 L138.67,564.70 L138.91,565.99 L139.14,567.25 L139.37,568.49 L139.61,569.70 L139.84,570.88 L140.08,572.02 L140.31,573.13 L140.55,574.21 L140.78,575.25 L141.01,576.26 L141.25,577.23 L141.48,578.15 L141.72,579.04 L141.95,579.89 L142.19,580.70 L142.42,581.46 L142.65,582.17 L142.89,582.85 L143.12,583.47 L143.36,584.05 L143.59,584.57 L143.83,585.05 L144.06,585.47 L144.29,585.84 L144.53,586.16 L144.76,586.42 L145.00,586.63 L145.23,586.78 L145.47,586.87 L145.70,586.90 L145.95,586.87 L146.20,586.78 L146.45,586.63 L146.70,586.42 L146.95,586.16 L147.20,585.84 L147.45,585.47 L147.70,585.04 L147.95,584.57 L148.20,584.04 L148.45,583.47 L148.70,582.84 L148.95,582.17 L149.20,581.46 L149.45,580.70 L149.70,579.90 L149.95,579.06 L150.20,578.18 L150.45,577.26 L150.70,576.30 L150.95,575.30 L151.20,574.28 L151.45,573.21 L151.70,572.12 L151.95,570.99 L152.20,569.83 L152.45,568.65 L152.70,567.43 L152.95,566.19 L153.20,564.93 L153.45,563.64 L153.70,562.33 L153.95,560.99 L154.20,559.64 L154.45,558.27 L154.70,556.88 L154.95,555.48 L155.20,554.06 L155.45,552.62 L155.70,551.18 L155.95,549.72 L156.20,548.25 L156.45,546.77 L156.70,545.29 L156.95,543.80 L157.20,542.30 L157.45,540.80 L157.70,539.30 L157.95,537.80 L158.20,536.30 L158.45,534.80 L158.70,533.30 L158.95,531.80 L159.20,530.31 L159.45,528.83 L159.70,527.35 L159.95,525.88 L160.20,524.42 L160.45,522.98 L160.70,521.54 L160.95,520.12 L161.20,518.72 L161.45,517.33 L161.70,515.96 L161.95,514.61 L162.20,513.27 L162.45,511.96 L162.70,510.67 L162.95,509.41 L163.20,508.17 L163.45,506.95 L163.70,505.77 L163.95,504.61 L164.20,503.48 L164.45,502.39 L164.70,501.32 L164.95,500.30 L165.20,499.30 L165.45,498.34 L165.70,497.42 L165.95,496.54 L166.20,495.70 L166.45,494.90 L166.70,494.14 L166.95,493.43 L167.20,492.76 L167.45,492.13 L167.70,491.56 L167.95,491.03 L168.20,490.56 L168.45,490.13 L168.70,489.76 L168.95,489.44 L169.20,489.18 L169.45,488.97 L169.70,488.82 L169.95,488.73 L170.20,488.70 L170.44,488.73 L170.69,488.83 L170.93,488.98 L171.17,489.20 L171.42,489.47 L171.66,489.80 L171.90,490.19 L172.15,490.63 L172.39,491.13 L172.63,491.67 L172.88,492.27 L173.12,492.92 L173.36,493.61 L173.61,494.35 L173.85,495.14 L174.09,495.97 L174.34,496.85 L174.58,497.76 L174.82,498.72 L175.07,499.71 L175.31,500.74 L175.55,501.81 L175.80,502.91 L176.04,504.05 L176.28,505.22 L176.53,506.42 L176.77,507.65 L177.01,508.91 L177.26,510.19 L177.50,511.50 L177.74,512.84 L177.99,514.19 L178.23,515.57 L178.47,516.97 L178.72,518.39 L178.96,519.83 L179.20,521.28 L179.45,522.75 L179.69,524.23 L179.93,525.73 L180.18,527.23 L180.42,528.75 L180.66,530.27 L180.91,531.80 L181.15,533.34 L181.39,534.88 L181.64,536.43 L181.88,537.98 L182.12,539.52 L182.36,541.07 L182.61,542.62 L182.85,544.16 L183.09,545.70 L183.34,547.23 L183.58,548.75 L183.82,550.27 L184.07,551.77 L184.31,553.27 L184.55,554.75 L184.80,556.22 L185.04,557.67 L185.28,559.11 L185.53,560.53 L185.77,561.93 L186.01,563.31 L186.26,564.66 L186.50,566.00 L186.74,567.31 L186.99,568.59 L187.23,569.85 L187.47,571.08 L187.72,572.28 L187.96,573.45 L188.20,574.59 L188.45,575.69 L188.69,576.76 L188.93,577.79 L189.18,578.78 L189.42,579.74 L189.66,580.65 L189.91,581.53 L190.15,582.36 L190.39,583.15 L190.64,583.89 L190.88,584.58 L191.12,585.23 L191.37,585.83 L191.61,586.37 L191.85,586.87 L192.10,587.31 L192.34,587.70 L192.58,588.03 L192.83,588.30 L193.07,588.52 L193.31,588.67 L193.56,588.77 L193.80,588.80 L194.01,588.77 L194.22,588.67 L194.43,588.50 L194.64,588.28 L194.85,587.99 L195.06,587.64 L195.27,587.23 L195.48,586.77 L195.68,586.25 L195.89,585.67 L196.10,585.04 L196.31,584.35 L196.52,583.61 L196.73,582.82 L196.94,581.99 L197.15,581.10 L197.36,580.17 L197.57,579.20 L197.78,578.17 L197.99,577.11 L198.20,576.01 L198.41,574.86 L198.62,573.67 L198.83,572.45 L199.04,571.19 L199.25,569.90 L199.45,568.57 L199.66,567.21 L199.87,565.81 L200.08,564.39 L200.29,562.94 L200.50,561.46 L200.71,559.95 L200.92,558.42 L201.13,556.86 L201.34,555.29 L201.55,553.69 L201.76,552.07 L201.97,550.43 L202.18,548.77 L202.39,547.10 L202.60,545.41 L202.81,543.71 L203.02,541.99 L203.22,540.27 L203.43,538.53 L203.64,536.78 L203.85,535.03 L204.06,533.27 L204.27,531.51 L204.48,529.74 L204.69,527.97 L204.90,526.20 L205.11,524.43 L205.32,522.66 L205.53,520.89 L205.74,519.13 L205.95,517.37 L206.16,515.62 L206.37,513.87 L206.58,512.13 L206.78,510.41 L206.99,508.69 L207.20,506.99 L207.41,505.30 L207.62,503.63 L207.83,501.97 L208.04,500.33 L208.25,498.71 L208.46,497.11 L208.67,495.54 L208.88,493.98 L209.09,492.45 L209.30,490.94 L209.51,489.46 L209.72,488.01 L209.93,486.59 L210.14,485.19 L210.35,483.83 L210.55,482.50 L210.76,481.21 L210.97,479.95 L211.18,478.73 L211.39,477.54 L211.60,476.39 L211.81,475.29 L212.02,474.23 L212.23,473.20 L212.44,472.23 L212.65,471.30 L212.86,470.41 L213.07,469.58 L213.28,468.79 L213.49,468.05 L213.70,467.36 L213.91,466.73 L214.12,466.15 L214.32,465.63 L214.53,465.17 L214.74,464.76 L214.95,464.41 L215.16,464.12 L215.37,463.90 L215.58,463.73 L215.79,463.63 L216.00,463.60 L216.22,463.63 L216.44,463.73 L216.66,463.89 L216.88,464.11 L217.10,464.39 L217.31,464.73 L217.53,465.13 L217.75,465.58 L217.97,466.09 L218.19,466.66 L218.41,467.27 L218.63,467.94 L218.85,468.66 L219.07,469.43 L219.29,470.24 L219.50,471.10 L219.72,472.01 L219.94,472.96 L220.16,473.96 L220.38,474.99 L220.60,476.07 L220.82,477.19 L221.04,478.34 L221.26,479.53 L221.48,480.75 L221.70,482.01 L221.91,483.31 L222.13,484.63 L222.35,485.99 L222.57,487.37 L222.79,488.78 L223.01,490.22 L223.23,491.69 L223.45,493.17 L223.67,494.69 L223.89,496.22 L224.10,497.77 L224.32,499.35 L224.54,500.94 L224.76,502.54 L224.98,504.17 L225.20,505.80 L225.42,507.46 L225.64,509.12 L225.86,510.79 L226.08,512.47 L226.30,514.16 L226.51,515.86 L226.73,517.56 L226.95,519.27 L227.17,520.98 L227.39,522.69 L227.61,524.41 L227.83,526.12 L228.05,527.83 L228.27,529.54 L228.49,531.24 L228.70,532.94 L228.92,534.63 L229.14,536.31 L229.36,537.98 L229.58,539.64 L229.80,541.30 L230.02,542.93 L230.24,544.56 L230.46,546.16 L230.68,547.75 L230.90,549.33 L231.11,550.88 L231.33,552.41 L231.55,553.93 L231.77,555.41 L231.99,556.88 L232.21,558.32 L232.43,559.73 L232.65,561.11 L232.87,562.47 L233.09,563.79 L233.30,565.09 L233.52,566.35 L233.74,567.57 L233.96,568.76 L234.18,569.91 L234.40,571.03 L234.62,572.11 L234.84,573.14 L235.06,574.14 L235.28,575.09 L235.50,576.00 L235.71,576.86 L235.93,577.67 L236.15,578.44 L236.37,579.16 L236.59,579.83 L236.81,580.44 L237.03,581.01 L237.25,581.52 L237.47,581.97 L237.69,582.37 L237.90,582.71 L238.12,582.99 L238.34,583.21 L238.56,583.37 L238.78,583.47 L239.00,583.50 L239.23,583.47 L239.47,583.36 L239.70,583.19 L239.94,582.96 L240.17,582.66 L240.41,582.30 L240.64,581.88 L240.88,581.39 L241.11,580.86 L241.34,580.26 L241.58,579.61 L241.81,578.91 L242.05,578.15 L242.28,577.35 L242.52,576.49 L242.75,575.59 L242.98,574.64 L243.22,573.65 L243.45,572.62 L243.69,571.54 L243.92,570.43 L244.16,569.27 L244.39,568.08 L244.63,566.86 L244.86,565.60 L245.09,564.31 L245.33,562.99 L245.56,561.63 L245.80,560.25 L246.03,558.85 L246.27,557.42 L246.50,555.96 L246.74,554.49 L246.97,552.99 L247.20,551.48 L247.44,549.95 L247.67,548.40 L247.91,546.84 L248.14,545.26 L248.38,543.68 L248.61,542.08 L248.85,540.48 L249.08,538.87 L249.31,537.25 L249.55,535.63 L249.78,534.01 L250.02,532.39 L250.25,530.77 L250.49,529.15 L250.72,527.53 L250.95,525.92 L251.19,524.32 L251.42,522.72 L251.66,521.14 L251.89,519.56 L252.13,518.00 L252.36,516.45 L252.60,514.92 L252.83,513.41 L253.06,511.91 L253.30,510.44 L253.53,508.98 L253.77,507.55 L254.00,506.15 L254.24,504.77 L254.47,503.41 L254.71,502.09 L254.94,500.80 L255.17,499.54 L255.41,498.32 L255.64,497.13 L255.88,495.97 L256.11,494.86 L256.35,493.78 L256.58,492.75 L256.82,491.76 L257.05,490.81 L257.28,489.91 L257.52,489.05 L257.75,488.25 L257.99,487.49 L258.22,486.79 L258.46,486.14 L258.69,485.54 L258.92,485.01 L259.16,484.52 L259.39,484.10 L259.63,483.74 L259.86,483.44 L260.10,483.21 L260.33,483.04 L260.57,482.93 L260.80,482.90 L261.03,482.94 L261.26,483.05 L261.48,483.22 L261.71,483.47 L261.94,483.79 L262.17,484.17 L262.39,484.61 L262.62,485.12 L262.85,485.69 L263.08,486.32 L263.31,487.00 L263.53,487.74 L263.76,488.53 L263.99,489.38 L264.22,490.28 L264.44,491.22 L264.67,492.22 L264.90,493.26 L265.13,494.34 L265.36,495.47 L265.58,496.64 L265.81,497.84 L266.04,499.09 L266.27,500.37 L266.49,501.69 L266.72,503.03 L266.95,504.41 L267.18,505.82 L267.41,507.26 L267.63,508.72 L267.86,510.21 L268.09,511.72 L268.32,513.25 L268.54,514.80 L268.77,516.37 L269.00,517.96 L269.23,519.56 L269.46,521.17 L269.68,522.80 L269.91,524.43 L270.14,526.08 L270.37,527.73 L270.59,529.38 L270.82,531.04 L271.05,532.70 L271.28,534.36 L271.51,536.02 L271.73,537.67 L271.96,539.32 L272.19,540.97 L272.42,542.60 L272.64,544.23 L272.87,545.84 L273.10,547.44 L273.33,549.03 L273.56,550.60 L273.78,552.15 L274.01,553.68 L274.24,555.19 L274.47,556.68 L274.69,558.14 L274.92,559.58 L275.15,560.99 L275.38,562.37 L275.61,563.71 L275.83,565.03 L276.06,566.31 L276.29,567.56 L276.52,568.76 L276.74,569.93 L276.97,571.06 L277.20,572.14 L277.43,573.18 L277.66,574.18 L277.88,575.12 L278.11,576.02 L278.34,576.87 L278.57,577.66 L278.79,578.40 L279.02,579.08 L279.25,579.71 L279.48,580.28 L279.71,580.79 L279.93,581.23 L280.16,581.61 L280.39,581.93 L280.62,582.18 L280.84,582.35 L281.07,582.46 L281.30,582.50 L281.51,582.46 L281.72,582.35 L281.93,582.16 L282.13,581.90 L282.34,581.57 L282.55,581.17 L282.76,580.70 L282.97,580.17 L283.18,579.58 L283.39,578.92 L283.60,578.20 L283.80,577.43 L284.01,576.59 L284.22,575.70 L284.43,574.76 L284.64,573.76 L284.85,572.72 L285.06,571.63 L285.27,570.48 L285.47,569.30 L285.68,568.07 L285.89,566.80 L286.10,565.48 L286.31,564.13 L286.52,562.75 L286.73,561.32 L286.93,559.87 L287.14,558.38 L287.35,556.86 L287.56,555.31 L287.77,553.74 L287.98,552.14 L288.19,550.52 L288.40,548.87 L288.60,547.21 L288.81,545.53 L289.02,543.83 L289.23,542.11 L289.44,540.38 L289.65,538.64 L289.86,536.89 L290.07,535.13 L290.27,533.37 L290.48,531.60 L290.69,529.83 L290.90,528.05 L291.11,526.27 L291.32,524.50 L291.53,522.73 L291.73,520.97 L291.94,519.21 L292.15,517.46 L292.36,515.72 L292.57,513.99 L292.78,512.27 L292.99,510.57 L293.20,508.89 L293.40,507.23 L293.61,505.58 L293.82,503.96 L294.03,502.36 L294.24,500.79 L294.45,499.24 L294.66,497.72 L294.87,496.23 L295.07,494.78 L295.28,493.35 L295.49,491.97 L295.70,490.62 L295.91,489.30 L296.12,488.03 L296.33,486.80 L296.53,485.62 L296.74,484.47 L296.95,483.38 L297.16,482.34 L297.37,481.34 L297.58,480.40 L297.79,479.51 L298.00,478.67 L298.20,477.90 L298.41,477.18 L298.62,476.52 L298.83,475.93 L299.04,475.40 L299.25,474.93 L299.46,474.53 L299.67,474.20 L299.87,473.94 L300.08,473.75 L300.29,473.64 L300.50,473.60 L300.71,473.63 L300.92,473.73 L301.12,473.90 L301.33,474.13 L301.54,474.42 L301.75,474.78 L301.95,475.19 L302.16,475.67 L302.37,476.20 L302.58,476.79 L302.78,477.43 L302.99,478.12 L303.20,478.87 L303.41,479.67 L303.61,480.52 L303.82,481.42 L304.03,482.37 L304.24,483.36 L304.44,484.40 L304.65,485.48 L304.86,486.60 L305.07,487.76 L305.28,488.97 L305.48,490.21 L305.69,491.48 L305.90,492.80 L306.11,494.15 L306.31,495.53 L306.52,496.94 L306.73,498.38 L306.94,499.85 L307.14,501.35 L307.35,502.88 L307.56,504.43 L307.77,506.01 L307.97,507.61 L308.18,509.23 L308.39,510.87 L308.60,512.52 L308.80,514.20 L309.01,515.89 L309.22,517.60 L309.43,519.32 L309.64,521.05 L309.84,522.80 L310.05,524.55 L310.26,526.31 L310.47,528.08 L310.67,529.86 L310.88,531.64 L311.09,533.42 L311.30,535.21 L311.50,536.99 L311.71,538.78 L311.92,540.56 L312.13,542.34 L312.33,544.12 L312.54,545.89 L312.75,547.65 L312.96,549.40 L313.16,551.15 L313.37,552.88 L313.58,554.60 L313.79,556.31 L314.00,558.00 L314.20,559.68 L314.41,561.33 L314.62,562.97 L314.83,564.59 L315.03,566.19 L315.24,567.77 L315.45,569.32 L315.66,570.85 L315.86,572.35 L316.07,573.82 L316.28,575.26 L316.49,576.67 L316.69,578.05 L316.90,579.40 L317.11,580.72 L317.32,581.99 L317.52,583.23 L317.73,584.44 L317.94,585.60 L318.15,586.72 L318.36,587.80 L318.56,588.84 L318.77,589.83 L318.98,590.78 L319.19,591.68 L319.39,592.53 L319.60,593.33 L319.81,594.08 L320.02,594.77 L320.22,595.41 L320.43,596.00 L320.64,596.53 L320.85,597.01 L321.05,597.42 L321.26,597.78 L321.47,598.07 L321.68,598.30 L321.88,598.47 L322.09,598.57 L322.30,598.60 L322.48,598.57 L322.66,598.48 L322.84,598.34 L323.02,598.14 L323.19,597.89 L323.37,597.58 L323.55,597.21 L323.73,596.80 L323.91,596.33 L324.09,595.82 L324.27,595.25 L324.45,594.63 L324.63,593.97 L324.81,593.26 L324.98,592.50 L325.16,591.70 L325.34,590.85 L325.52,589.96 L325.70,589.03 L325.88,588.05 L326.06,587.04 L326.24,585.98 L326.42,584.88 L326.59,583.75 L326.77,582.58 L326.95,581.37 L327.13,580.13 L327.31,578.85 L327.49,577.54 L327.67,576.19 L327.85,574.81 L328.03,573.40 L328.21,571.96 L328.38,570.50 L328.56,569.00 L328.74,567.47 L328.92,565.92 L329.10,564.34 L329.28,562.74 L329.46,561.11 L329.64,559.46 L329.82,557.79 L329.99,556.09 L330.17,554.38 L330.35,552.64 L330.53,550.89 L330.71,549.11 L330.89,547.32 L331.07,545.52 L331.25,543.70 L331.43,541.86 L331.61,540.01 L331.78,538.15 L331.96,536.27 L332.14,534.39 L332.32,532.49 L332.50,530.59 L332.68,528.68 L332.86,526.75 L333.04,524.83 L333.22,522.89 L333.39,520.96 L333.57,519.01 L333.75,517.07 L333.93,515.12 L334.11,513.17 L334.29,511.23 L334.47,509.28 L334.65,507.33 L334.83,505.39 L335.01,503.44 L335.18,501.51 L335.36,499.57 L335.54,497.65 L335.72,495.72 L335.90,493.81 L336.08,491.91 L336.26,490.01 L336.44,488.13 L336.62,486.25 L336.79,484.39 L336.97,482.54 L337.15,480.70 L337.33,478.88 L337.51,477.08 L337.69,475.29 L337.87,473.51 L338.05,471.76 L338.23,470.02 L338.41,468.31 L338.58,466.61 L338.76,464.94 L338.94,463.29 L339.12,461.66 L339.30,460.06 L339.48,458.48 L339.66,456.93 L339.84,455.40 L340.02,453.90 L340.19,452.44 L340.37,451.00 L340.55,449.59 L340.73,448.21 L340.91,446.86 L341.09,445.55 L341.27,444.27 L341.45,443.03 L341.63,441.82 L341.81,440.65 L341.98,439.52 L342.16,438.42 L342.34,437.36 L342.52,436.35 L342.70,435.37 L342.88,434.44 L343.06,433.55 L343.24,432.70 L343.42,431.90 L343.59,431.14 L343.77,430.43 L343.95,429.77 L344.13,429.15 L344.31,428.58 L344.49,428.07 L344.67,427.60 L344.85,427.19 L345.03,426.82 L345.21,426.51 L345.38,426.26 L345.56,426.06 L345.74,425.92 L345.92,425.83 L346.10,425.80 L346.31,425.86 L346.52,426.03 L346.73,426.30 L346.95,426.68 L347.16,427.16 L347.37,427.73 L347.58,428.40 L347.79,429.15 L348.00,429.98 L348.21,430.90 L348.43,431.89 L348.64,432.95 L348.85,434.08 L349.06,435.27 L349.27,436.53 L349.48,437.84 L349.69,439.20 L349.91,440.60 L350.12,442.06 L350.33,443.55 L350.54,445.08 L350.75,446.63 L350.96,448.22 L351.17,449.83 L351.39,451.46 L351.60,453.11 L351.81,454.77 L352.02,456.44 L352.23,458.11 L352.44,459.78 L352.65,461.45 L352.87,463.11 L353.08,464.76 L353.29,466.39 L353.50,468.00 L353.65,469.17 L353.80,470.39 L353.96,471.65 L354.11,472.95 L354.26,474.28 L354.41,475.65 L354.57,477.05 L354.72,478.48 L354.87,479.93 L355.02,481.42 L355.17,482.92 L355.33,484.45 L355.48,486.00 L355.63,487.56 L355.78,489.14 L355.93,490.73 L356.09,492.33 L356.24,493.94 L356.39,495.55 L356.54,497.17 L356.70,498.79 L356.85,500.41 L357.00,502.02 L357.15,503.63 L357.30,505.24 L357.46,506.83 L357.61,508.41 L357.76,509.98 L357.91,511.54 L358.07,513.07 L358.22,514.59 L358.37,516.08 L358.52,517.55 L358.67,518.99 L358.83,520.40 L358.98,521.78 L359.13,523.13 L359.28,524.44 L359.43,525.72 L359.59,526.95 L359.74,528.14 L359.89,529.29 L360.04,530.39 L360.20,531.45 L360.35,532.45 L360.50,533.40 L360.76,534.95 L361.03,536.40 L361.29,537.77 L361.55,539.06 L361.82,540.27 L362.08,541.41 L362.34,542.49 L362.61,543.50 L362.87,544.46 L363.13,545.36 L363.39,546.22 L363.66,547.03 L363.92,547.81 L364.18,548.56 L364.45,549.28 L364.71,549.98 L364.97,550.66 L365.24,551.33 L365.50,552.00 L365.94,553.03 L366.38,553.93 L366.81,554.70 L367.25,555.35 L367.69,555.90 L368.12,556.36 L368.56,556.73 L369.00,557.02 L369.44,557.26 L369.88,557.43 L370.31,557.56 L370.75,557.66 L371.19,557.73 L371.62,557.79 L372.06,557.84 L372.50,557.90 L372.94,557.94 L373.38,557.94 L373.81,557.91 L374.25,557.88 L374.69,557.85 L375.12,557.83 L375.56,557.85 L376.00,557.92 L376.44,558.05 L376.88,558.26 L377.31,558.57 L377.75,558.98 L378.19,559.51 L378.62,560.18 L379.06,561.01 L379.50,562.00 L379.77,562.70 L380.04,563.47 L380.31,564.30 L380.57,565.19 L380.84,566.14 L381.11,567.13 L381.38,568.16 L381.65,569.22 L381.92,570.32 L382.18,571.43 L382.45,572.57 L382.72,573.72 L382.99,574.87 L383.26,576.02 L383.53,577.17 L383.79,578.31 L384.06,579.43 L384.33,580.53 L384.60,581.60 L384.85,582.60 L385.10,583.62 L385.35,584.66 L385.60,585.73 L385.85,586.80 L386.10,587.88 L386.35,588.96 L386.60,590.04 L386.85,591.11 L387.10,592.17 L387.35,593.21 L387.60,594.23 L387.85,595.22 L388.10,596.18 L388.35,597.10 L388.60,597.98 L388.85,598.82 L389.10,599.60 L389.44,600.62 L389.79,601.62 L390.13,602.58 L390.48,603.50 L390.82,604.37 L391.16,605.20 L391.51,605.97 L391.85,606.67 L392.19,607.32 L392.54,607.89 L392.88,608.40 L393.23,608.82 L393.57,609.15 L393.91,609.40 L394.26,609.55 L394.60,609.60 L394.78,609.57 L394.96,609.50 L395.14,609.37 L395.32,609.20 L395.49,608.98 L395.67,608.70 L395.85,608.39 L396.03,608.02 L396.21,607.61 L396.39,607.16 L396.57,606.66 L396.75,606.12 L396.92,605.53 L397.10,604.90 L397.28,604.23 L397.46,603.52 L397.64,602.77 L397.82,601.98 L398.00,601.15 L398.18,600.28 L398.35,599.38 L398.53,598.43 L398.71,597.46 L398.89,596.44 L399.07,595.39 L399.25,594.31 L399.43,593.19 L399.61,592.04 L399.79,590.86 L399.96,589.65 L400.14,588.41 L400.32,587.13 L400.50,585.83 L400.68,584.50 L400.86,583.14 L401.04,581.75 L401.22,580.33 L401.39,578.89 L401.57,577.43 L401.75,575.94 L401.93,574.42 L402.11,572.89 L402.29,571.32 L402.47,569.74 L402.65,568.14 L402.83,566.51 L403.00,564.87 L403.18,563.21 L403.36,561.52 L403.54,559.82 L403.72,558.10 L403.90,556.37 L404.08,554.62 L404.26,552.86 L404.43,551.08 L404.61,549.28 L404.79,547.47 L404.97,545.66 L405.15,543.82 L405.33,541.98 L405.51,540.13 L405.69,538.27 L405.86,536.39 L406.04,534.51 L406.22,532.63 L406.40,530.73 L406.58,528.83 L406.76,526.92 L406.94,525.01 L407.12,523.09 L407.30,521.17 L407.47,519.25 L407.65,517.32 L407.83,515.39 L408.01,513.46 L408.19,511.54 L408.37,509.61 L408.55,507.68 L408.73,505.75 L408.90,503.83 L409.08,501.91 L409.26,499.99 L409.44,498.08 L409.62,496.17 L409.80,494.27 L409.98,492.37 L410.16,490.49 L410.34,488.61 L410.51,486.73 L410.69,484.87 L410.87,483.02 L411.05,481.18 L411.23,479.34 L411.41,477.53 L411.59,475.72 L411.77,473.92 L411.94,472.14 L412.12,470.38 L412.30,468.63 L412.48,466.90 L412.66,465.18 L412.84,463.48 L413.02,461.79 L413.20,460.13 L413.37,458.49 L413.55,456.86 L413.73,455.26 L413.91,453.68 L414.09,452.11 L414.27,450.58 L414.45,449.06 L414.63,447.57 L414.81,446.11 L414.98,444.67 L415.16,443.25 L415.34,441.86 L415.52,440.50 L415.70,439.17 L415.88,437.87 L416.06,436.59 L416.24,435.35 L416.41,434.14 L416.59,432.96 L416.77,431.81 L416.95,430.69 L417.13,429.61 L417.31,428.56 L417.49,427.54 L417.67,426.57 L417.85,425.62 L418.02,424.72 L418.20,423.85 L418.38,423.02 L418.56,422.23 L418.74,421.48 L418.92,420.77 L419.10,420.10 L419.28,419.47 L419.45,418.88 L419.63,418.34 L419.81,417.84 L419.99,417.39 L420.17,416.98 L420.35,416.61 L420.53,416.30 L420.71,416.02 L420.88,415.80 L421.06,415.63 L421.24,415.50 L421.42,415.43 L421.60,415.40 L421.76,415.43 L421.93,415.50 L422.09,415.63 L422.25,415.80 L422.41,416.02 L422.58,416.29 L422.74,416.61 L422.90,416.97 L423.07,417.38 L423.23,417.83 L423.39,418.33 L423.56,418.87 L423.72,419.45 L423.88,420.08 L424.04,420.75 L424.21,421.46 L424.37,422.21 L424.53,423.00 L424.70,423.83 L424.86,424.70 L425.02,425.61 L425.19,426.55 L425.35,427.53 L425.51,428.55 L425.67,429.60 L425.84,430.69 L426.00,431.81 L426.16,432.97 L426.33,434.16 L426.49,435.38 L426.65,436.64 L426.81,437.92 L426.98,439.24 L427.14,440.59 L427.30,441.96 L427.47,443.37 L427.63,444.80 L427.79,446.26 L427.96,447.75 L428.12,449.26 L428.28,450.80 L428.44,452.36 L428.61,453.95 L428.77,455.56 L428.93,457.20 L429.10,458.85 L429.26,460.53 L429.42,462.24 L429.59,463.96 L429.75,465.70 L429.91,467.46 L430.07,469.24 L430.24,471.04 L430.40,472.85 L430.56,474.68 L430.73,476.53 L430.89,478.40 L431.05,480.28 L431.21,482.17 L431.38,484.08 L431.54,486.00 L431.70,487.93 L431.87,489.87 L432.03,491.83 L432.19,493.80 L432.36,495.77 L432.52,497.76 L432.68,499.75 L432.84,501.76 L433.01,503.77 L433.17,505.79 L433.33,507.81 L433.50,509.84 L433.66,511.87 L433.82,513.91 L433.99,515.95 L434.15,518.00 L434.31,520.05 L434.47,522.10 L434.64,524.15 L434.80,526.20 L434.96,528.25 L435.13,530.30 L435.29,532.35 L435.45,534.40 L435.61,536.45 L435.78,538.49 L435.94,540.53 L436.10,542.56 L436.27,544.59 L436.43,546.61 L436.59,548.63 L436.76,550.64 L436.92,552.65 L437.08,554.64 L437.24,556.63 L437.41,558.60 L437.57,560.57 L437.73,562.53 L437.90,564.47 L438.06,566.40 L438.22,568.32 L438.39,570.23 L438.55,572.12 L438.71,574.00 L438.87,575.87 L439.04,577.72 L439.20,579.55 L439.36,581.36 L439.53,583.16 L439.69,584.94 L439.85,586.70 L440.01,588.44 L440.18,590.16 L440.34,591.87 L440.50,593.55 L440.67,595.20 L440.83,596.84 L440.99,598.45 L441.16,600.04 L441.32,601.60 L441.48,603.14 L441.64,604.65 L441.81,606.14 L441.97,607.60 L442.13,609.03 L442.30,610.44 L442.46,611.81 L442.62,613.16 L442.79,614.48 L442.95,615.76 L443.11,617.02 L443.27,618.24 L443.44,619.43 L443.60,620.59 L443.76,621.71 L443.93,622.80 L444.09,623.85 L444.25,624.87 L444.41,625.85 L444.58,626.79 L444.74,627.70 L444.90,628.57 L445.07,629.40 L445.23,630.19 L445.39,630.94 L445.56,631.65 L445.72,632.32 L445.88,632.95 L446.04,633.53 L446.21,634.07 L446.37,634.57 L446.53,635.02 L446.70,635.43 L446.86,635.79 L447.02,636.11 L447.19,636.38 L447.35,636.60 L447.51,636.77 L447.67,636.90 L447.84,636.97 L448.00,637.00 L448.17,636.98 L448.34,636.91 L448.52,636.80 L448.69,636.64 L448.86,636.45 L449.03,636.21 L449.21,635.92 L449.38,635.60 L449.55,635.24 L449.72,634.83 L449.89,634.39 L450.07,633.90 L450.24,633.38 L450.41,632.82 L450.58,632.22 L450.75,631.58 L450.93,630.91 L451.10,630.20 L451.27,629.45 L451.44,628.67 L451.62,627.85 L451.79,627.00 L451.96,626.12 L452.13,625.20 L452.30,624.25 L452.48,623.27 L452.65,622.25 L452.82,621.21 L452.99,620.13 L453.16,619.02 L453.34,617.89 L453.51,616.72 L453.68,615.53 L453.85,614.30 L454.03,613.05 L454.20,611.78 L454.37,610.47 L454.54,609.14 L454.71,607.79 L454.89,606.40 L455.06,605.00 L455.23,603.57 L455.40,602.12 L455.57,600.64 L455.75,599.14 L455.92,597.62 L456.09,596.08 L456.26,594.52 L456.44,592.93 L456.61,591.33 L456.78,589.71 L456.95,588.06 L457.12,586.40 L457.30,584.72 L457.47,583.03 L457.64,581.32 L457.81,579.59 L457.99,577.84 L458.16,576.08 L458.33,574.31 L458.50,572.52 L458.67,570.71 L458.85,568.90 L459.02,567.07 L459.19,565.23 L459.36,563.37 L459.53,561.51 L459.71,559.63 L459.88,557.75 L460.05,555.85 L460.22,553.95 L460.40,552.03 L460.57,550.11 L460.74,548.18 L460.91,546.24 L461.08,544.30 L461.26,542.35 L461.43,540.40 L461.60,538.44 L461.77,536.47 L461.94,534.50 L462.12,532.53 L462.29,530.56 L462.46,528.58 L462.63,526.60 L462.81,524.62 L462.98,522.63 L463.15,520.65 L463.32,518.67 L463.49,516.68 L463.67,514.70 L463.84,512.72 L464.01,510.74 L464.18,508.77 L464.36,506.80 L464.53,504.83 L464.70,502.86 L464.87,500.90 L465.04,498.95 L465.22,497.00 L465.39,495.06 L465.56,493.12 L465.73,491.19 L465.90,489.27 L466.08,487.35 L466.25,485.45 L466.42,483.55 L466.59,481.67 L466.77,479.79 L466.94,477.93 L467.11,476.07 L467.28,474.23 L467.45,472.40 L467.63,470.59 L467.80,468.78 L467.97,466.99 L468.14,465.22 L468.31,463.46 L468.49,461.71 L468.66,459.98 L468.83,458.27 L469.00,456.58 L469.18,454.90 L469.35,453.24 L469.52,451.59 L469.69,449.97 L469.86,448.37 L470.04,446.78 L470.21,445.22 L470.38,443.68 L470.55,442.16 L470.73,440.66 L470.90,439.18 L471.07,437.73 L471.24,436.30 L471.41,434.90 L471.59,433.51 L471.76,432.16 L471.93,430.83 L472.10,429.52 L472.27,428.25 L472.45,427.00 L472.62,425.77 L472.79,424.58 L472.96,423.41 L473.14,422.28 L473.31,421.17 L473.48,420.09 L473.65,419.05 L473.82,418.03 L474.00,417.05 L474.17,416.10 L474.34,415.18 L474.51,414.30 L474.68,413.45 L474.86,412.63 L475.03,411.85 L475.20,411.10 L475.37,410.39 L475.55,409.72 L475.72,409.08 L475.89,408.48 L476.06,407.92 L476.23,407.40 L476.41,406.91 L476.58,406.47 L476.75,406.06 L476.92,405.70 L477.09,405.38 L477.27,405.09 L477.44,404.85 L477.61,404.66 L477.78,404.50 L477.96,404.39 L478.13,404.32 L478.30,404.30 L478.47,404.32 L478.63,404.39 L478.80,404.51 L478.96,404.67 L479.13,404.88 L479.30,405.14 L479.46,405.43 L479.63,405.77 L479.79,406.16 L479.96,406.58 L480.12,407.05 L480.29,407.56 L480.46,408.11 L480.62,408.70 L480.79,409.33 L480.95,410.00 L481.12,410.71 L481.29,411.46 L481.45,412.24 L481.62,413.06 L481.78,413.92 L481.95,414.81 L482.12,415.74 L482.28,416.70 L482.45,417.70 L482.61,418.73 L482.78,419.79 L482.94,420.89 L483.11,422.02 L483.28,423.18 L483.44,424.37 L483.61,425.59 L483.77,426.84 L483.94,428.12 L484.11,429.42 L484.27,430.76 L484.44,432.12 L484.60,433.51 L484.77,434.93 L484.94,436.37 L485.10,437.84 L485.27,439.33 L485.43,440.84 L485.60,442.38 L485.76,443.94 L485.93,445.53 L486.10,447.13 L486.26,448.76 L486.43,450.41 L486.59,452.08 L486.76,453.76 L486.93,455.47 L487.09,457.20 L487.26,458.94 L487.42,460.70 L487.59,462.48 L487.76,464.27 L487.92,466.08 L488.09,467.90 L488.25,469.74 L488.42,471.59 L488.58,473.46 L488.75,475.34 L488.92,477.23 L489.08,479.13 L489.25,481.05 L489.41,482.97 L489.58,484.91 L489.75,486.85 L489.91,488.81 L490.08,490.77 L490.24,492.74 L490.41,494.71 L490.58,496.70 L490.74,498.69 L490.91,500.68 L491.07,502.68 L491.24,504.69 L491.40,506.70 L491.57,508.71 L491.74,510.72 L491.90,512.74 L492.07,514.76 L492.23,516.78 L492.40,518.80 L492.57,520.82 L492.73,522.84 L492.90,524.86 L493.06,526.88 L493.23,528.89 L493.40,530.90 L493.56,532.91 L493.73,534.92 L493.89,536.92 L494.06,538.91 L494.22,540.90 L494.39,542.89 L494.56,544.86 L494.72,546.83 L494.89,548.79 L495.05,550.75 L495.22,552.69 L495.39,554.63 L495.55,556.55 L495.72,558.47 L495.88,560.37 L496.05,562.26 L496.22,564.14 L496.38,566.01 L496.55,567.86 L496.71,569.70 L496.88,571.52 L497.04,573.33 L497.21,575.12 L497.38,576.90 L497.54,578.66 L497.71,580.40 L497.87,582.13 L498.04,583.84 L498.21,585.52 L498.37,587.19 L498.54,588.84 L498.70,590.47 L498.87,592.07 L499.04,593.66 L499.20,595.22 L499.37,596.76 L499.53,598.27 L499.70,599.76 L499.86,601.23 L500.03,602.67 L500.20,604.09 L500.36,605.48 L500.53,606.84 L500.69,608.18 L500.86,609.48 L501.03,610.76 L501.19,612.01 L501.36,613.23 L501.52,614.42 L501.69,615.58 L501.86,616.71 L502.02,617.81 L502.19,618.87 L502.35,619.90 L502.52,620.90 L502.68,621.86 L502.85,622.79 L503.02,623.68 L503.18,624.54 L503.35,625.36 L503.51,626.14 L503.68,626.89 L503.85,627.60 L504.01,628.27 L504.18,628.90 L504.34,629.49 L504.51,630.04 L504.68,630.55 L504.84,631.02 L505.01,631.44 L505.17,631.83 L505.34,632.17 L505.50,632.46 L505.67,632.72 L505.84,632.93 L506.00,633.09 L506.17,633.21 L506.33,633.28 L506.50,633.30 L506.76,633.24 L507.02,633.05 L507.27,632.75 L507.53,632.33 L507.79,631.80 L508.05,631.18 L508.31,630.45 L508.57,629.64 L508.83,628.74 L509.08,627.75 L509.34,626.69 L509.60,625.56 L509.86,624.36 L510.12,623.10 L510.38,621.79 L510.63,620.42 L510.89,619.01 L511.15,617.56 L511.41,616.07 L511.67,614.56 L511.93,613.02 L512.18,611.46 L512.44,609.88 L512.70,608.30 L512.88,607.18 L513.06,605.99 L513.23,604.75 L513.41,603.46 L513.59,602.13 L513.77,600.75 L513.94,599.34 L514.12,597.90 L514.30,596.43 L514.48,594.94 L514.66,593.43 L514.83,591.91 L515.01,590.38 L515.19,588.85 L515.37,587.33 L515.54,585.81 L515.72,584.31 L515.90,582.82 L516.08,581.35 L516.26,579.91 L516.43,578.50 L516.61,577.13 L516.79,575.80 L516.97,574.52 L517.14,573.29 L517.32,572.11 L517.50,571.00 L517.75,569.48 L518.01,568.02 L518.26,566.61 L518.52,565.26 L518.77,563.97 L519.03,562.72 L519.28,561.52 L519.54,560.37 L519.79,559.26 L520.05,558.19 L520.30,557.16 L520.55,556.17 L520.81,555.22 L521.06,554.30 L521.32,553.41 L521.57,552.55 L521.83,551.72 L522.08,550.91 L522.34,550.13 L522.59,549.37 L522.85,548.63 L523.10,547.90 L523.46,546.93 L523.82,546.07 L524.18,545.29 L524.55,544.60 L524.91,543.96 L525.27,543.38 L525.63,542.84 L525.99,542.33 L526.35,541.84 L526.72,541.35 L527.08,540.85 L527.44,540.34 L527.80,539.80 L528.19,539.21 L528.58,538.66 L528.97,538.13 L529.37,537.62 L529.76,537.13 L530.15,536.63 L530.54,536.14 L530.93,535.63 L531.33,535.09 L531.72,534.54 L532.11,533.94 L532.50,533.30 L532.85,532.71 L533.20,532.12 L533.55,531.53 L533.90,530.92 L534.25,530.30 L534.60,529.66 L534.95,528.99 L535.30,528.29 L535.65,527.54 L536.00,526.75 L536.35,525.90 L536.70,525.00 L536.97,524.26 L537.24,523.49 L537.51,522.69 L537.78,521.86 L538.05,521.00 L538.32,520.11 L538.59,519.20 L538.86,518.26 L539.13,517.30 L539.40,516.31 L539.67,515.31 L539.93,514.28 L540.20,513.24 L540.47,512.18 L540.74,511.10 L541.01,510.01 L541.28,508.91 L541.55,507.80 L541.82,506.67 L542.09,505.54 L542.36,504.40 L542.63,503.25 L542.90,502.10 L543.13,501.11 L543.36,500.08 L543.58,499.03 L543.81,497.94 L544.04,496.84 L544.27,495.71 L544.50,494.56 L544.73,493.39 L544.95,492.20 L545.18,491.01 L545.41,489.80 L545.64,488.58 L545.87,487.35 L546.09,486.12 L546.32,484.89 L546.55,483.66 L546.78,482.43 L547.01,481.20 L547.23,479.98 L547.46,478.77 L547.69,477.58 L547.92,476.39 L548.15,475.22 L548.38,474.07 L548.60,472.94 L548.83,471.84 L549.06,470.75 L549.29,469.70 L549.52,468.67 L549.74,467.68 L549.97,466.72 L550.20,465.80 L550.51,464.58 L550.81,463.36 L551.12,462.13 L551.43,460.91 L551.74,459.69 L552.04,458.48 L552.35,457.29 L552.66,456.12 L552.96,454.96 L553.27,453.83 L553.58,452.73 L553.89,451.67 L554.19,450.63 L554.50,449.64 L554.81,448.69 L555.11,447.79 L555.42,446.94 L555.73,446.15 L556.04,445.41 L556.34,444.73 L556.65,444.12 L556.96,443.58 L557.26,443.11 L557.57,442.72 L557.88,442.41 L558.19,442.19 L558.49,442.05 L558.80,442.00 L559.01,442.02 L559.22,442.09 L559.43,442.21 L559.64,442.37 L559.85,442.58 L560.06,442.83 L560.28,443.12 L560.49,443.46 L560.70,443.84 L560.91,444.26 L561.12,444.72 L561.33,445.22 L561.54,445.76 L561.75,446.34 L561.96,446.96 L562.17,447.61 L562.38,448.31 L562.59,449.03 L562.81,449.80 L563.02,450.60 L563.23,451.43 L563.44,452.30 L563.65,453.20 L563.86,454.14 L564.07,455.10 L564.28,456.10 L564.49,457.13 L564.70,458.19 L564.91,459.27 L565.12,460.39 L565.34,461.53 L565.55,462.71 L565.76,463.90 L565.97,465.13 L566.18,466.38 L566.39,467.65 L566.60,468.95 L566.81,470.28 L567.02,471.62 L567.23,472.99 L567.44,474.38 L567.65,475.79 L567.86,477.22 L568.08,478.67 L568.29,480.14 L568.50,481.63 L568.71,483.14 L568.92,484.66 L569.13,486.21 L569.34,487.76 L569.55,489.33 L569.76,490.92 L569.97,492.52 L570.18,494.14 L570.39,495.76 L570.61,497.40 L570.82,499.05 L571.03,500.71 L571.24,502.38 L571.45,504.07 L571.66,505.76 L571.87,507.45 L572.08,509.16 L572.29,510.87 L572.50,512.59 L572.71,514.32 L572.92,516.05 L573.14,517.78 L573.35,519.52 L573.56,521.26 L573.77,523.01 L573.98,524.75 L574.19,526.50 L574.40,528.25 L574.61,530.00 L574.82,531.75 L575.03,533.49 L575.24,535.24 L575.45,536.98 L575.66,538.72 L575.88,540.45 L576.09,542.18 L576.30,543.91 L576.51,545.63 L576.72,547.34 L576.93,549.05 L577.14,550.74 L577.35,552.43 L577.56,554.12 L577.77,555.79 L577.98,557.45 L578.19,559.10 L578.41,560.74 L578.62,562.36 L578.83,563.98 L579.04,565.58 L579.25,567.17 L579.46,568.74 L579.67,570.29 L579.88,571.84 L580.09,573.36 L580.30,574.87 L580.51,576.36 L580.72,577.83 L580.94,579.28 L581.15,580.71 L581.36,582.12 L581.57,583.51 L581.78,584.88 L581.99,586.22 L582.20,587.55 L582.41,588.85 L582.62,590.12 L582.83,591.37 L583.04,592.60 L583.25,593.79 L583.46,594.97 L583.68,596.11 L583.89,597.23 L584.10,598.31 L584.31,599.37 L584.52,600.40 L584.73,601.40 L584.94,602.36 L585.15,603.30 L585.36,604.20 L585.57,605.07 L585.78,605.90 L585.99,606.70 L586.21,607.47 L586.42,608.19 L586.63,608.89 L586.84,609.54 L587.05,610.16 L587.26,610.74 L587.47,611.28 L587.68,611.78 L587.89,612.24 L588.10,612.66 L588.31,613.04 L588.52,613.38 L588.74,613.67 L588.95,613.92 L589.16,614.13 L589.37,614.29 L589.58,614.41 L589.79,614.48 L590.00,614.50 L590.38,614.49 L590.76,614.45 L591.14,614.39 L591.52,614.30 L591.90,614.20 L592.28,614.06 L592.66,613.91 L593.03,613.73 L593.41,613.54 L593.79,613.32 L594.17,613.08 L594.55,612.82 L594.93,612.53 L595.31,612.23 L595.69,611.91 L596.07,611.58 L596.45,611.22 L596.83,610.84 L597.21,610.45 L597.59,610.04 L597.97,609.61 L598.35,609.17 L598.73,608.71 L599.10,608.24 L599.48,607.75 L599.86,607.24 L600.24,606.73 L600.62,606.19 L601.00,605.65 L601.38,605.09 L601.76,604.52 L602.14,603.93 L602.52,603.34 L602.90,602.73 L603.28,602.11 L603.66,601.48 L604.04,600.84 L604.42,600.19 L604.80,599.53 L605.17,598.87 L605.55,598.19 L605.93,597.51 L606.31,596.82 L606.69,596.12 L607.07,595.41 L607.45,594.70 L607.83,593.98 L608.21,593.26 L608.59,592.53 L608.97,591.79 L609.35,591.05 L609.73,590.31 L610.11,589.57 L610.49,588.82 L610.87,588.07 L611.24,587.31 L611.62,586.55 L612.00,585.80 L612.38,585.04 L612.76,584.28 L613.14,583.52 L613.52,582.76 L613.90,582.00" stroke="#a6a6a6" stroke-width="2.2"/>
<path d="M95.90,553.45 L96.40,553.45 L96.91,553.45 L97.41,553.44 L97.91,553.44 L98.42,553.44 L98.92,553.43 L99.42,553.43 L99.93,553.43 L100.43,553.42 L100.93,553.42 L101.44,553.42 L101.94,553.41 L102.44,553.41 L102.95,553.41 L103.45,553.40 L103.95,553.40 L104.46,553.39 L104.96,553.39 L105.46,553.39 L105.97,553.38 L106.47,553.38 L106.97,553.38 L107.48,553.37 L107.98,553.37 L108.48,553.37 L108.99,553.36 L109.49,553.36 L109.99,553.36 L110.50,553.35 L111.00,553.35 L111.50,553.35 L112.01,553.34 L112.51,553.34 L113.01,553.33 L113.52,553.33 L114.02,553.33 L114.52,553.32 L115.03,553.32 L115.53,553.32 L116.03,553.31 L116.54,553.31 L117.04,553.31 L117.54,553.30 L118.05,553.30 L118.55,553.30 L119.05,553.29 L119.56,553.29 L120.06,553.29 L120.56,553.28 L121.07,553.28 L121.57,553.27 L122.07,553.27 L122.58,553.27 L123.08,553.26 L123.58,553.26 L124.09,553.26 L124.59,553.25 L125.09,553.25 L125.60,553.25 L126.10,553.24 L126.60,553.24 L127.11,553.24 L127.61,553.23 L128.11,553.23 L128.62,553.23 L129.12,553.22 L129.62,553.22 L130.13,553.22 L130.63,553.21 L131.13,553.21 L131.64,553.21 L132.14,553.20 L132.64,553.20 L133.15,553.20 L133.65,553.19 L134.15,553.19 L134.66,553.19 L135.16,553.18 L135.66,553.18 L136.17,553.18 L136.67,553.17 L137.17,553.17 L137.68,553.17 L138.18,553.16 L138.68,553.16 L139.19,553.16 L139.69,553.15 L140.19,553.15 L140.70,553.15 L141.20,553.14 L141.70,553.14 L142.21,553.14 L142.71,553.13 L143.22,553.13 L143.72,553.13 L144.23,553.12 L144.73,553.12 L145.24,553.12 L145.74,553.11 L146.24,553.11 L146.75,553.11 L147.25,553.10 L147.76,553.10 L148.26,553.09 L148.77,553.09 L149.27,553.09 L149.78,553.08 L150.28,553.08 L150.78,553.08 L151.29,553.07 L151.79,553.07 L152.30,553.06 L152.80,553.06 L153.31,553.06 L153.81,553.05 L154.32,553.05 L154.82,553.04 L155.32,553.04 L155.83,553.04 L156.33,553.03 L156.84,553.03 L157.34,553.03 L157.85,553.02 L158.35,553.02 L158.86,553.01 L159.36,553.01 L159.86,553.01 L160.37,553.00 L160.87,553.00 L161.38,552.99 L161.88,552.99 L162.39,552.99 L162.89,552.98 L163.40,552.98 L163.90,552.98 L164.40,552.97 L164.91,552.97 L165.41,552.96 L165.92,552.96 L166.42,552.96 L166.93,552.95 L167.43,552.95 L167.94,552.95 L168.44,552.94 L168.94,552.94 L169.45,552.94 L169.95,552.93 L170.46,552.93 L170.96,552.93 L171.47,552.92 L171.97,552.92 L172.48,552.92 L172.98,552.91 L173.48,552.91 L173.99,552.91 L174.49,552.90 L175.00,552.90 L175.50,552.90 L176.01,552.90 L176.51,552.89 L177.02,552.89 L177.52,552.89 L178.02,552.88 L178.53,552.88 L179.03,552.88 L179.54,552.88 L180.04,552.87 L180.55,552.87 L181.05,552.87 L181.56,552.87 L182.06,552.87 L182.56,552.86 L183.07,552.86 L183.57,552.86 L184.08,552.86 L184.58,552.86 L185.09,552.85 L185.59,552.85 L186.10,552.85 L186.60,552.85 L187.10,552.85 L187.61,552.85 L188.11,552.85 L188.62,552.84 L189.12,552.84 L189.63,552.84 L190.13,552.84 L190.64,552.84 L191.14,552.84 L191.65,552.84 L192.15,552.84 L192.65,552.84 L193.16,552.84 L193.66,552.84 L194.17,552.84 L194.67,552.84 L195.17,552.84 L195.67,552.85 L196.17,552.86 L196.68,552.87 L197.18,552.88 L197.68,552.90 L198.18,552.91 L198.68,552.93 L199.18,552.95 L199.69,552.98 L200.19,553.00 L200.69,553.03 L201.19,553.06 L201.69,553.08 L202.19,553.11 L202.70,553.15 L203.20,553.18 L203.70,553.21 L204.20,553.25 L204.70,553.28 L205.20,553.32 L205.71,553.36 L206.21,553.39 L206.71,553.43 L207.21,553.47 L207.71,553.51 L208.21,553.55 L208.72,553.59 L209.22,553.63 L209.72,553.67 L210.22,553.71 L210.72,553.75 L211.22,553.79 L211.73,553.83 L212.23,553.86 L212.74,553.91 L213.25,553.95 L213.76,554.00 L214.27,554.05 L214.78,554.10 L215.29,554.16 L215.80,554.22 L216.31,554.28 L216.82,554.34 L217.33,554.40 L217.84,554.47 L218.35,554.54 L218.86,554.60 L219.37,554.67 L219.88,554.74 L220.39,554.80 L220.90,554.87 L221.40,554.94 L221.91,555.00 L222.42,555.06 L222.93,555.13 L223.44,555.19 L223.95,555.25 L224.46,555.30 L224.97,555.36 L225.48,555.41 L225.99,555.46 L226.50,555.50 L227.01,555.54 L227.52,555.58 L228.03,555.61 L228.54,555.64 L229.05,555.67 L229.56,555.68 L230.07,555.70 L230.58,555.71 L231.09,555.71 L231.60,555.71 L232.10,555.69 L232.61,555.67 L233.11,555.65 L233.62,555.61 L234.12,555.57 L234.62,555.53 L235.13,555.48 L235.63,555.42 L236.14,555.37 L236.64,555.31 L237.15,555.24 L237.65,555.18 L238.16,555.12 L238.66,555.05 L239.16,554.99 L239.67,554.92 L240.17,554.86 L240.68,554.80 L241.18,554.74 L241.69,554.68 L242.19,554.63 L242.69,554.57 L243.19,554.51 L243.69,554.44 L244.19,554.37 L244.69,554.30 L245.19,554.22 L245.69,554.14 L246.19,554.07 L246.70,553.99 L247.20,553.91 L247.70,553.83 L248.20,553.75 L248.70,553.68 L249.20,553.61 L249.70,553.53 L250.20,553.47 L250.70,553.40 L251.20,553.34 L251.70,553.28 L252.20,553.23 L252.71,553.18 L253.21,553.14 L253.71,553.11 L254.21,553.08 L254.71,553.06 L255.21,553.05 L255.71,553.04 L256.18,553.06 L256.64,553.10 L257.11,553.16 L257.57,553.25 L258.04,553.35 L258.50,553.48 L258.97,553.62 L259.44,553.78 L259.90,553.95 L260.37,554.13 L260.83,554.33 L261.30,554.53 L261.76,554.74 L262.23,554.96 L262.70,555.18 L263.16,555.40 L263.63,555.62 L264.09,555.84 L264.56,556.06 L265.02,556.27 L265.49,556.48 L265.95,556.68 L266.42,556.86 L266.89,557.04 L267.35,557.20 L267.82,557.35 L268.31,557.50 L268.81,557.66 L269.31,557.81 L269.81,557.97 L270.30,558.13 L270.80,558.29 L271.30,558.45 L271.80,558.61 L272.29,558.77 L272.79,558.92 L273.29,559.08 L273.78,559.23 L274.28,559.37 L274.78,559.51 L275.28,559.65 L275.77,559.78 L276.27,559.90 L276.77,560.02 L277.26,560.13 L277.76,560.23 L278.26,560.32 L278.76,560.40 L279.25,560.47 L279.75,560.52 L280.25,560.57 L280.75,560.61 L281.24,560.63 L281.74,560.63 L282.23,560.62 L282.71,560.60 L283.19,560.56 L283.68,560.50 L284.16,560.43 L284.65,560.34 L285.13,560.25 L285.62,560.14 L286.10,560.03 L286.59,559.90 L287.07,559.78 L287.56,559.64 L288.04,559.50 L288.53,559.36 L289.01,559.22 L289.50,559.07 L289.98,558.93 L290.47,558.79 L290.95,558.65 L291.44,558.52 L291.92,558.39 L292.41,558.27 L292.89,558.15 L293.38,558.05 L293.86,557.95 L294.35,557.87 L294.83,557.79 L295.32,557.74 L295.80,557.69 L296.29,557.67 L296.77,557.66 L297.23,557.67 L297.68,557.72 L298.14,557.79 L298.60,557.89 L299.05,558.02 L299.51,558.17 L299.96,558.35 L300.42,558.55 L300.88,558.78 L301.33,559.02 L301.79,559.29 L302.24,559.58 L302.70,559.88 L303.16,560.20 L303.61,560.54 L304.07,560.90 L304.52,561.27 L304.98,561.65 L305.43,562.05 L305.89,562.45 L306.35,562.87 L306.80,563.30 L307.26,563.74 L307.71,564.18 L308.17,564.64 L308.63,565.09 L309.08,565.56 L309.49,565.99 L309.90,566.45 L310.31,566.93 L310.72,567.43 L311.13,567.94 L311.54,568.47 L311.95,569.00 L312.36,569.54 L312.77,570.08 L313.18,570.61 L313.59,571.14 L314.00,571.66 L314.41,572.17 L314.82,572.65 L315.23,573.12 L315.64,573.56 L316.07,574.00 L316.49,574.45 L316.92,574.89 L317.35,575.34 L317.77,575.78 L318.20,576.22 L318.63,576.66 L319.05,577.08 L319.48,577.50 L319.91,577.91 L320.33,578.30 L320.76,578.68 L321.19,579.05 L321.62,579.39 L322.04,579.72 L322.47,580.03 L322.90,580.32 L323.32,580.58 L323.75,580.82 L324.18,581.03 L324.60,581.22 L325.03,581.37 L325.46,581.49 L325.88,581.58 L326.31,581.64 L326.74,581.66 L327.19,581.64 L327.65,581.60 L328.10,581.54 L328.55,581.44 L329.01,581.32 L329.46,581.16 L329.92,580.98 L330.37,580.77 L330.82,580.52 L331.28,580.25 L331.73,579.94 L332.19,579.60 L332.64,579.22 L333.09,578.82 L333.55,578.37 L334.00,577.90 L334.46,577.39 L334.91,576.84 L335.26,576.38 L335.61,575.88 L335.96,575.34 L336.31,574.76 L336.66,574.15 L337.00,573.50 L337.35,572.83 L337.70,572.14 L338.05,571.42 L338.40,570.69 L338.75,569.93 L339.10,569.17 L339.45,568.40 L339.80,567.62 L340.15,566.84 L340.50,566.05 L340.85,565.27 L341.20,564.50 L341.54,563.73 L341.89,562.98 L342.24,562.24 L342.59,561.52 L342.94,560.83 L343.29,560.15 L343.64,559.51 L343.99,558.89 L344.37,558.22 L344.76,557.55 L345.14,556.87 L345.53,556.18 L345.91,555.49 L346.30,554.79 L346.68,554.10 L347.07,553.40 L347.45,552.71 L347.83,552.02 L348.22,551.33 L348.60,550.66 L348.99,549.98 L349.37,549.32 L349.76,548.67 L350.14,548.03 L350.53,547.41 L350.91,546.80 L351.29,546.21 L351.68,545.64 L352.06,545.08 L352.45,544.55 L352.83,544.04 L353.22,543.56 L353.60,543.10 L353.99,542.67 L354.37,542.27 L354.75,541.91 L355.14,541.57 L355.52,541.27 L355.91,541.00 L356.29,540.77 L356.68,540.58 L357.06,540.42 L357.45,540.31 L357.83,540.25 L358.22,540.22 L358.65,540.24 L359.08,540.28 L359.51,540.34 L359.94,540.44 L360.37,540.56 L360.80,540.70 L361.23,540.88 L361.66,541.08 L362.09,541.31 L362.52,541.56 L362.95,541.85 L363.38,542.16 L363.81,542.50 L364.25,542.87 L364.68,543.26 L365.11,543.69 L365.54,544.14 L365.97,544.63 L366.40,545.14 L366.83,545.68 L367.26,546.25 L367.69,546.85 L368.12,547.49 L368.55,548.15 L368.98,548.84 L369.41,549.56 L369.75,550.15 L370.08,550.79 L370.41,551.46 L370.74,552.18 L371.08,552.93 L371.41,553.71 L371.74,554.53 L372.07,555.36 L372.41,556.22 L372.74,557.09 L373.07,557.97 L373.40,558.87 L373.74,559.77 L374.07,560.68 L374.40,561.59 L374.74,562.49 L375.07,563.39 L375.40,564.27 L375.73,565.14 L376.07,566.00 L376.40,566.83 L376.73,567.64 L377.06,568.42 L377.40,569.17 L377.73,569.89 L378.06,570.56 L378.39,571.20 L378.79,571.93 L379.18,572.68 L379.57,573.43 L379.96,574.19 L380.35,574.94 L380.75,575.68 L381.14,576.39 L381.53,577.09 L381.92,577.75 L382.32,578.36 L382.71,578.94 L383.10,579.45 L383.49,579.91 L383.89,580.30 L384.28,580.61 L384.67,580.85 L385.06,580.99 L385.46,581.04 L385.80,581.00 L386.14,580.88 L386.49,580.69 L386.83,580.42 L387.18,580.09 L387.52,579.68 L387.87,579.20 L388.21,578.67 L388.56,578.07 L388.90,577.41 L389.25,576.69 L389.59,575.92 L389.94,575.09 L390.28,574.22 L390.63,573.29 L390.97,572.32 L391.32,571.31 L391.66,570.26 L392.01,569.16 L392.35,568.03 L392.69,566.87 L393.04,565.68 L393.38,564.45 L393.73,563.20 L393.96,562.32 L394.19,561.40 L394.42,560.44 L394.65,559.43 L394.88,558.39 L395.12,557.31 L395.35,556.20 L395.58,555.06 L395.81,553.89 L396.04,552.70 L396.27,551.48 L396.50,550.26 L396.73,549.01 L396.96,547.76 L397.19,546.49 L397.43,545.22 L397.66,543.95 L397.89,542.68 L398.12,541.41 L398.35,540.14 L398.58,538.89 L398.81,537.65 L399.04,536.42 L399.27,535.21 L399.51,534.02 L399.74,532.86 L399.97,531.72 L400.20,530.62 L400.43,529.54 L400.66,528.51 L400.89,527.51 L401.19,526.24 L401.49,524.98 L401.79,523.73 L402.08,522.47 L402.38,521.22 L402.68,519.98 L402.98,518.75 L403.28,517.53 L403.58,516.31 L403.87,515.11 L404.17,513.92 L404.47,512.74 L404.77,511.58 L405.07,510.43 L405.37,509.30 L405.66,508.19 L405.96,507.10 L406.26,506.02 L406.56,504.97 L406.86,503.95 L407.16,502.94 L407.45,501.97 L407.75,501.01 L408.05,500.09 L408.35,499.19 L408.65,498.33 L408.95,497.49 L409.24,496.69 L409.54,495.92 L409.84,495.18 L410.14,494.48 L410.44,493.82 L410.74,493.20 L411.03,492.61 L411.33,492.06 L411.63,491.56 L411.93,491.10 L412.23,490.68 L412.52,490.31 L412.82,489.98 L413.12,489.70 L413.42,489.47 L413.72,489.29 L414.02,489.15 L414.31,489.07 L414.61,489.05 L414.89,489.09 L415.18,489.21 L415.46,489.42 L415.74,489.70 L416.02,490.06 L416.30,490.48 L416.58,490.98 L416.86,491.54 L417.15,492.16 L417.43,492.85 L417.71,493.59 L417.99,494.39 L418.27,495.24 L418.55,496.13 L418.83,497.08 L419.12,498.06 L419.40,499.09 L419.68,500.15 L419.96,501.25 L420.24,502.39 L420.52,503.55 L420.80,504.73 L421.09,505.94 L421.37,507.18 L421.65,508.43 L421.93,509.69 L422.21,510.97 L422.49,512.26 L422.77,513.55 L423.06,514.85 L423.34,516.15 L423.62,517.45 L423.90,518.74 L424.18,520.03 L424.46,521.30 L424.74,522.57 L425.03,523.82 L425.31,525.05 L425.53,526.04 L425.76,527.05 L425.98,528.09 L426.21,529.14 L426.44,530.22 L426.66,531.32 L426.89,532.44 L427.11,533.57 L427.34,534.72 L427.57,535.88 L427.79,537.05 L428.02,538.24 L428.24,539.44 L428.47,540.65 L428.69,541.87 L428.92,543.10 L429.15,544.34 L429.37,545.58 L429.60,546.82 L429.82,548.07 L430.05,549.33 L430.27,550.58 L430.50,551.83 L430.73,553.09 L430.95,554.34 L431.18,555.59 L431.40,556.83 L431.63,558.07 L431.86,559.31 L432.08,560.53 L432.31,561.75 L432.53,562.96 L432.76,564.15 L432.98,565.34 L433.21,566.51 L433.44,567.67 L433.66,568.82 L433.89,569.94 L434.11,571.06 L434.34,572.15 L434.57,573.22 L434.79,574.27 L435.05,575.46 L435.30,576.68 L435.56,577.91 L435.81,579.16 L436.07,580.43 L436.32,581.71 L436.58,583.00 L436.83,584.31 L437.09,585.62 L437.34,586.94 L437.60,588.26 L437.85,589.59 L438.11,590.92 L438.37,592.24 L438.62,593.57 L438.88,594.88 L439.13,596.19 L439.39,597.50 L439.64,598.79 L439.90,600.06 L440.15,601.32 L440.41,602.57 L440.66,603.79 L440.92,605.00 L441.17,606.18 L441.43,607.33 L441.68,608.46 L441.94,609.56 L442.20,610.63 L442.45,611.67 L442.71,612.67 L442.96,613.63 L443.22,614.56 L443.47,615.44 L443.73,616.29 L443.98,617.08 L444.24,617.83 L444.49,618.54 L444.75,619.19 L445.00,619.78 L445.26,620.33 L445.51,620.82 L445.77,621.24 L446.02,621.61 L446.28,621.92 L446.54,622.16 L446.79,622.33 L447.05,622.44 L447.30,622.48 L447.62,622.45 L447.94,622.36 L448.26,622.21 L448.58,622.01 L448.90,621.75 L449.22,621.43 L449.54,621.05 L449.86,620.62 L450.18,620.13 L450.50,619.59 L450.82,618.99 L451.14,618.33 L451.46,617.62 L451.78,616.85 L452.10,616.02 L452.42,615.15 L452.74,614.22 L453.06,613.23 L453.38,612.19 L453.70,611.10 L454.02,609.95 L454.34,608.75 L454.66,607.50 L454.98,606.19 L455.30,604.83 L455.62,603.43 L455.94,601.96 L456.26,600.45 L456.58,598.89 L456.77,597.97 L456.95,597.03 L457.13,596.07 L457.32,595.09 L457.50,594.10 L457.68,593.08 L457.87,592.05 L458.05,591.00 L458.23,589.93 L458.42,588.84 L458.60,587.73 L458.78,586.61 L458.97,585.46 L459.15,584.30 L459.33,583.12 L459.52,581.93 L459.70,580.71 L459.88,579.48 L460.07,578.23 L460.25,576.96 L460.43,575.68 L460.61,574.38 L460.80,573.06 L460.98,571.73 L461.16,570.38 L461.35,569.01 L461.53,567.63 L461.71,566.23 L461.90,564.81 L462.08,563.38 L462.26,561.93 L462.45,560.46 L462.63,558.98 L462.81,557.49 L463.00,555.98 L463.18,554.45 L463.36,552.91 L463.55,551.35 L463.73,549.78 L463.91,548.19 L464.10,546.59 L464.28,544.97 L464.46,543.34 L464.65,541.69 L464.83,540.03 L465.01,538.36 L465.20,536.67 L465.38,534.97 L465.56,533.25 L465.70,531.93 L465.84,530.59 L465.98,529.21 L466.12,527.80 L466.25,526.37 L466.39,524.91 L466.53,523.42 L466.67,521.92 L466.81,520.39 L466.94,518.85 L467.08,517.28 L467.22,515.71 L467.36,514.11 L467.50,512.51 L467.64,510.89 L467.77,509.27 L467.91,507.63 L468.05,505.99 L468.19,504.35 L468.33,502.70 L468.46,501.05 L468.60,499.40 L468.74,497.75 L468.88,496.11 L469.02,494.47 L469.16,492.84 L469.29,491.22 L469.43,489.60 L469.57,488.00 L469.71,486.41 L469.85,484.83 L469.98,483.27 L470.12,481.73 L470.26,480.21 L470.40,478.70 L470.54,477.23 L470.68,475.77 L470.81,474.34 L470.95,472.94 L471.09,471.57 L471.23,470.22 L471.37,468.91 L471.50,467.64 L471.64,466.39 L471.78,465.19 L471.92,464.02 L472.19,461.84 L472.45,459.73 L472.72,457.69 L472.99,455.71 L473.25,453.80 L473.52,451.96 L473.79,450.18 L474.05,448.46 L474.32,446.80 L474.59,445.21 L474.85,443.67 L475.12,442.20 L475.38,440.79 L475.65,439.43 L475.92,438.14 L476.18,436.90 L476.45,435.72 L476.72,434.59 L476.98,433.52 L477.25,432.50 L477.52,431.54 L477.78,430.62 L478.05,429.77 L478.32,428.96 L478.58,428.20 L478.85,427.49 L479.12,426.83 L479.38,426.22 L479.65,425.66 L479.92,425.14 L480.18,424.67 L480.45,424.24 L480.72,423.86 L480.98,423.52 L481.25,423.22 L481.52,422.97 L481.78,422.75 L482.05,422.58 L482.32,422.45 L482.58,422.36 L482.85,422.30 L483.12,422.28 L483.38,422.31 L483.63,422.39 L483.89,422.53 L484.15,422.72 L484.41,422.97 L484.67,423.27 L484.92,423.62 L485.18,424.02 L485.44,424.47 L485.70,424.98 L485.96,425.53 L486.21,426.13 L486.47,426.78 L486.73,427.48 L486.99,428.22 L487.25,429.01 L487.51,429.85 L487.76,430.73 L488.02,431.66 L488.28,432.63 L488.54,433.64 L488.80,434.70 L489.05,435.80 L489.31,436.94 L489.57,438.12 L489.83,439.34 L490.09,440.59 L490.34,441.89 L490.60,443.23 L490.86,444.60 L491.12,446.01 L491.38,447.46 L491.63,448.94 L491.89,450.45 L492.15,452.00 L492.41,453.59 L492.67,455.21 L492.92,456.85 L493.18,458.54 L493.44,460.25 L493.70,461.99 L493.96,463.76 L494.22,465.56 L494.37,466.68 L494.53,467.82 L494.68,469.00 L494.84,470.20 L495.00,471.43 L495.15,472.69 L495.31,473.98 L495.46,475.28 L495.62,476.61 L495.78,477.96 L495.93,479.33 L496.09,480.71 L496.25,482.12 L496.40,483.54 L496.56,484.97 L496.71,486.41 L496.87,487.87 L497.03,489.33 L497.18,490.80 L497.34,492.28 L497.49,493.77 L497.65,495.26 L497.81,496.75 L497.96,498.25 L498.12,499.74 L498.28,501.23 L498.43,502.72 L498.59,504.21 L498.74,505.69 L498.90,507.16 L499.06,508.63 L499.21,510.08 L499.37,511.53 L499.52,512.96 L499.68,514.38 L499.84,515.78 L499.99,517.17 L500.15,518.54 L500.30,519.89 L500.46,521.22 L500.62,522.53 L500.77,523.81 L500.95,525.29 L501.13,526.75 L501.32,528.21 L501.50,529.67 L501.68,531.12 L501.86,532.56 L502.04,534.00 L502.22,535.44 L502.40,536.87 L502.58,538.29 L502.76,539.70 L502.94,541.11 L503.12,542.51 L503.30,543.91 L503.48,545.30 L503.66,546.68 L503.84,548.05 L504.03,549.41 L504.21,550.77 L504.39,552.12 L504.57,553.46 L504.75,554.79 L504.93,556.12 L505.11,557.43 L505.29,558.73 L505.47,560.03 L505.65,561.32 L505.83,562.59 L506.01,563.86 L506.19,565.11 L506.37,566.36 L506.55,567.59 L506.74,568.82 L506.92,570.03 L507.10,571.23 L507.28,572.43 L507.46,573.60 L507.64,574.77 L507.82,575.93 L508.00,577.07 L508.18,578.20 L508.36,579.32 L508.54,580.43 L508.79,581.91 L509.03,583.41 L509.27,584.90 L509.52,586.40 L509.76,587.90 L510.00,589.39 L510.25,590.89 L510.49,592.38 L510.74,593.86 L510.98,595.34 L511.22,596.81 L511.47,598.26 L511.71,599.71 L511.96,601.14 L512.20,602.56 L512.44,603.96 L512.69,605.34 L512.93,606.70 L513.17,608.04 L513.42,609.35 L513.66,610.64 L513.91,611.91 L514.15,613.15 L514.39,614.36 L514.64,615.53 L514.88,616.68 L515.12,617.79 L515.37,618.86 L515.61,619.90 L515.86,620.90 L516.10,621.86 L516.34,622.78 L516.59,623.65 L516.83,624.48 L517.08,625.26 L517.32,625.99 L517.56,626.68 L517.81,627.31 L518.05,627.89 L518.29,628.42 L518.54,628.89 L518.78,629.30 L519.03,629.65 L519.27,629.94 L519.51,630.17 L519.76,630.34 L520.00,630.44 L520.25,630.48 L520.55,630.45 L520.86,630.36 L521.17,630.22 L521.48,630.03 L521.79,629.78 L522.09,629.48 L522.40,629.14 L522.71,628.74 L523.02,628.29 L523.32,627.80 L523.63,627.26 L523.94,626.68 L524.25,626.05 L524.56,625.39 L524.86,624.68 L525.17,623.93 L525.48,623.14 L525.79,622.32 L526.10,621.46 L526.40,620.56 L526.71,619.63 L527.02,618.67 L527.33,617.68 L527.64,616.65 L527.94,615.60 L528.25,614.52 L528.56,613.41 L528.87,612.28 L529.18,611.12 L529.48,609.94 L529.79,608.74 L530.10,607.52 L530.41,606.27 L530.72,605.01 L531.02,603.74 L531.33,602.44 L531.64,601.13 L531.95,599.81 L532.16,598.86 L532.38,597.87 L532.60,596.85 L532.81,595.79 L533.03,594.70 L533.24,593.58 L533.46,592.43 L533.67,591.25 L533.89,590.05 L534.10,588.82 L534.32,587.57 L534.53,586.31 L534.75,585.02 L534.97,583.72 L535.18,582.40 L535.40,581.07 L535.61,579.73 L535.83,578.38 L536.04,577.02 L536.26,575.65 L536.47,574.29 L536.69,572.92 L536.91,571.55 L537.12,570.18 L537.34,568.81 L537.55,567.45 L537.77,566.10 L537.98,564.75 L538.20,563.42 L538.41,562.09 L538.63,560.79 L538.85,559.49 L539.06,558.22 L539.28,556.96 L539.49,555.73 L539.71,554.52 L539.92,553.33 L540.14,552.17 L540.35,551.04 L540.57,549.93 L540.79,548.86 L541.00,547.83 L541.22,546.83 L541.43,545.86 L541.74,544.52 L542.05,543.19 L542.36,541.88 L542.66,540.57 L542.97,539.29 L543.28,538.02 L543.59,536.76 L543.89,535.53 L544.20,534.32 L544.51,533.12 L544.82,531.95 L545.12,530.81 L545.43,529.68 L545.74,528.59 L546.05,527.52 L546.36,526.48 L546.66,525.46 L546.97,524.48 L547.28,523.53 L547.59,522.61 L547.89,521.73 L548.20,520.88 L548.51,520.07 L548.82,519.29 L549.13,518.55 L549.43,517.85 L549.74,517.19 L550.05,516.58 L550.36,516.00 L550.66,515.47 L550.97,514.99 L551.28,514.55 L551.59,514.16 L551.89,513.82 L552.20,513.52 L552.51,513.28 L552.82,513.09 L553.13,512.95 L553.43,512.87 L553.74,512.84 L554.02,512.87 L554.31,512.98 L554.59,513.14 L554.87,513.37 L555.16,513.67 L555.44,514.02 L555.72,514.43 L556.01,514.91 L556.29,515.43 L556.57,516.02 L556.85,516.66 L557.14,517.35 L557.42,518.09 L557.70,518.88 L557.99,519.72 L558.27,520.60 L558.55,521.54 L558.84,522.51 L559.12,523.53 L559.40,524.58 L559.68,525.68 L559.97,526.82 L560.25,527.99 L560.53,529.19 L560.82,530.43 L561.10,531.70 L561.38,533.01 L561.67,534.34 L561.95,535.70 L562.23,537.08 L562.52,538.49 L562.80,539.93 L563.08,541.38 L563.36,542.86 L563.65,544.35 L563.93,545.86 L564.11,546.84 L564.29,547.85 L564.46,548.90 L564.64,549.99 L564.82,551.11 L565.00,552.26 L565.18,553.44 L565.35,554.65 L565.53,555.89 L565.71,557.15 L565.89,558.44 L566.07,559.76 L566.24,561.10 L566.42,562.45 L566.60,563.83 L566.78,565.22 L566.96,566.63 L567.13,568.06 L567.31,569.50 L567.49,570.95 L567.67,572.42 L567.85,573.89 L568.02,575.37 L568.20,576.86 L568.38,578.35 L568.56,579.85 L568.73,581.35 L568.91,582.84 L569.09,584.34 L569.27,585.84 L569.45,587.33 L569.62,588.82 L569.80,590.31 L569.98,591.78 L570.16,593.25 L570.34,594.70 L570.51,596.15 L570.69,597.58 L570.87,598.99 L571.05,600.39 L571.23,601.77 L571.40,603.14 L571.58,604.48 L571.76,605.80 L571.94,607.10 L572.12,608.37 L572.29,609.62 L572.47,610.84 L572.65,612.03 L572.83,613.18 L573.01,614.31 L573.18,615.41 L573.36,616.47 L573.54,617.49 L573.72,618.48 L574.01,620.05 L574.30,621.60 L574.60,623.13 L574.89,624.62 L575.18,626.09 L575.47,627.52 L575.77,628.93 L576.06,630.30 L576.35,631.64 L576.65,632.95 L576.94,634.23 L577.23,635.48 L577.52,636.69 L577.82,637.86 L578.11,639.00 L578.40,640.11 L578.70,641.18 L578.99,642.21 L579.28,643.21 L579.57,644.17 L579.87,645.09 L580.16,645.97 L580.45,646.81 L580.74,647.61 L581.04,648.37 L581.33,649.08 L581.62,649.76 L581.92,650.39 L582.21,650.98 L582.50,651.53 L582.79,652.03 L583.09,652.49 L583.38,652.90 L583.67,653.26 L583.97,653.58 L584.26,653.85 L584.55,654.07 L584.84,654.25 L585.14,654.37 L585.43,654.45 L585.72,654.47 L586.21,654.43 L586.71,654.31 L587.20,654.10 L587.69,653.80 L588.18,653.42 L588.67,652.94 L589.17,652.37 L589.66,651.71 L589.99,651.20 L590.33,650.67 L590.67,650.09 L591.00,649.48 L591.34,648.82 L591.68,648.12 L592.01,647.37 L592.35,646.56 L592.68,645.71 L593.02,644.79 L593.36,643.82 L593.69,642.78 L593.96,641.92 L594.22,640.99 L594.48,640.01 L594.74,638.98 L595.00,637.92 L595.27,636.82 L595.53,635.69 L595.79,634.55 L596.05,633.39 L596.32,632.23 L596.58,631.07 L596.84,629.92 L597.10,628.78 L597.37,627.66 L597.63,626.58 L597.90,625.48 L598.17,624.38 L598.44,623.29 L598.70,622.19 L598.97,621.09 L599.24,619.99 L599.51,618.90 L599.78,617.81 L600.05,616.72 L600.32,615.63 L600.59,614.55 L600.86,613.47 L601.13,612.39 L601.39,611.32 L601.66,610.25 L601.93,609.19 L602.20,608.14 L602.47,607.09 L602.75,606.00 L603.03,604.88 L603.31,603.74 L603.59,602.60 L603.87,601.45 L604.14,600.30 L604.42,599.16 L604.70,598.03 L604.98,596.91 L605.26,595.82 L605.54,594.76 L605.82,593.74 L606.10,592.76 L606.38,591.82 L606.65,590.94 L606.93,590.11 L607.21,589.35 L607.61,588.39 L608.00,587.55 L608.39,586.80 L608.79,586.14 L609.18,585.54 L609.57,584.98 L609.97,584.45 L610.36,583.91 L610.75,583.37 L611.15,582.79 L611.61,582.09 L612.08,581.41 L612.54,580.74 L613.00,580.07 L613.47,579.40" stroke="#92d050" stroke-width="2.0"/>
<path d="M95.90,536.12 L96.43,536.12 L96.95,536.12 L97.48,536.12 L98.01,536.12 L98.53,536.12 L99.06,536.12 L99.59,536.12 L100.11,536.12 L100.64,536.12 L101.17,536.12 L101.70,536.12 L102.22,536.12 L102.75,536.12 L103.28,536.12 L103.80,536.12 L104.33,536.12 L104.86,536.12 L105.38,536.12 L105.86,536.11 L106.35,536.09 L106.83,536.04 L107.31,535.99 L107.79,535.92 L108.27,535.83 L108.75,535.74 L109.23,535.63 L109.71,535.52 L110.20,535.40 L110.68,535.27 L111.16,535.13 L111.64,535.00 L112.12,534.85 L112.60,534.71 L113.08,534.57 L113.56,534.42 L114.04,534.28 L114.53,534.14 L115.01,534.01 L115.49,533.88 L115.97,533.76 L116.45,533.64 L116.93,533.53 L117.41,533.44 L117.89,533.35 L118.40,533.27 L118.91,533.19 L119.42,533.11 L119.92,533.03 L120.43,532.96 L120.94,532.89 L121.45,532.82 L121.95,532.75 L122.46,532.68 L122.97,532.62 L123.47,532.56 L123.98,532.50 L124.49,532.44 L125.00,532.39 L125.50,532.34 L126.01,532.29 L126.52,532.24 L127.03,532.19 L127.53,532.15 L128.04,532.11 L128.55,532.07 L129.06,532.04 L129.56,532.01 L130.07,531.98 L130.58,531.95 L131.08,531.92 L131.59,531.90 L132.10,531.88 L132.61,531.86 L133.11,531.85 L133.62,531.84 L134.13,531.83 L134.64,531.82 L135.14,531.82 L135.65,531.81 L136.16,531.81 L136.66,531.81 L137.16,531.82 L137.67,531.82 L138.17,531.82 L138.68,531.82 L139.18,531.82 L139.69,531.83 L140.19,531.83 L140.70,531.83 L141.20,531.84 L141.70,531.84 L142.21,531.85 L142.71,531.85 L143.22,531.86 L143.72,531.86 L144.23,531.87 L144.73,531.88 L145.24,531.88 L145.74,531.89 L146.24,531.90 L146.75,531.91 L147.25,531.91 L147.76,531.92 L148.26,531.93 L148.77,531.94 L149.27,531.95 L149.78,531.96 L150.28,531.97 L150.78,531.98 L151.29,531.99 L151.79,532.00 L152.30,532.01 L152.80,532.02 L153.31,532.03 L153.81,532.04 L154.32,532.05 L154.82,532.07 L155.32,532.08 L155.83,532.09 L156.33,532.10 L156.84,532.12 L157.34,532.13 L157.85,532.14 L158.35,532.16 L158.86,532.17 L159.36,532.18 L159.86,532.20 L160.37,532.21 L160.87,532.22 L161.38,532.24 L161.88,532.25 L162.39,532.26 L162.89,532.28 L163.40,532.29 L163.90,532.30 L164.40,532.31 L164.91,532.33 L165.41,532.34 L165.92,532.35 L166.42,532.36 L166.93,532.38 L167.43,532.39 L167.94,532.41 L168.44,532.43 L168.94,532.44 L169.45,532.46 L169.95,532.48 L170.46,532.50 L170.96,532.53 L171.47,532.55 L171.97,532.58 L172.48,532.60 L172.98,532.63 L173.48,532.67 L173.99,532.71 L174.49,532.75 L175.00,532.80 L175.50,532.85 L176.01,532.91 L176.51,532.97 L177.02,533.03 L177.52,533.09 L178.02,533.15 L178.53,533.22 L179.03,533.28 L179.54,533.35 L180.04,533.41 L180.55,533.47 L181.05,533.53 L181.56,533.59 L182.06,533.65 L182.56,533.70 L183.07,533.75 L183.57,533.80 L184.08,533.84 L184.58,533.88 L185.09,533.91 L185.59,533.93 L186.10,533.95 L186.60,533.96 L187.10,533.97 L187.60,533.96 L188.10,533.95 L188.59,533.94 L189.09,533.91 L189.58,533.88 L190.08,533.85 L190.57,533.81 L191.07,533.76 L191.56,533.71 L192.06,533.65 L192.56,533.60 L193.05,533.53 L193.55,533.47 L194.04,533.40 L194.54,533.33 L195.03,533.25 L195.53,533.18 L196.02,533.10 L196.52,533.02 L197.02,532.94 L197.51,532.86 L198.01,532.78 L198.50,532.70 L199.00,532.62 L199.49,532.54 L199.99,532.46 L200.48,532.38 L200.98,532.31 L201.48,532.24 L201.97,532.17 L202.47,532.10 L202.96,532.03 L203.46,531.97 L203.95,531.92 L204.45,531.86 L204.96,531.80 L205.46,531.74 L205.96,531.67 L206.46,531.61 L206.96,531.54 L207.46,531.47 L207.96,531.40 L208.46,531.34 L208.96,531.27 L209.46,531.20 L209.96,531.13 L210.46,531.07 L210.97,531.00 L211.47,530.94 L211.97,530.88 L212.47,530.83 L212.97,530.77 L213.47,530.72 L213.97,530.67 L214.47,530.63 L214.97,530.59 L215.47,530.56 L215.97,530.53 L216.47,530.51 L216.98,530.49 L217.48,530.48 L217.98,530.48 L218.47,530.49 L218.96,530.50 L219.45,530.52 L219.94,530.56 L220.43,530.59 L220.92,530.64 L221.41,530.70 L221.90,530.75 L222.39,530.82 L222.88,530.89 L223.37,530.97 L223.86,531.05 L224.35,531.13 L224.84,531.22 L225.34,531.31 L225.83,531.40 L226.32,531.49 L226.81,531.58 L227.30,531.68 L227.79,531.77 L228.28,531.87 L228.77,531.96 L229.26,532.05 L229.75,532.14 L230.24,532.22 L230.73,532.31 L231.22,532.39 L231.71,532.46 L232.20,532.53 L232.72,532.61 L233.23,532.68 L233.75,532.77 L234.26,532.85 L234.77,532.94 L235.29,533.03 L235.80,533.12 L236.32,533.22 L236.83,533.31 L237.34,533.39 L237.86,533.48 L238.37,533.56 L238.89,533.64 L239.40,533.71 L239.91,533.77 L240.43,533.83 L240.94,533.88 L241.46,533.91 L241.97,533.94 L242.48,533.96 L243.00,533.97 L243.51,533.96 L244.02,533.96 L244.53,533.94 L245.04,533.92 L245.55,533.90 L246.06,533.88 L246.57,533.85 L247.08,533.83 L247.59,533.80 L248.10,533.77 L248.61,533.75 L249.12,533.72 L249.63,533.70 L250.14,533.69 L250.65,533.67 L251.16,533.66 L251.67,533.66 L252.18,533.66 L252.68,533.65 L253.19,533.63 L253.69,533.61 L254.20,533.59 L254.70,533.57 L255.21,533.55 L255.71,533.53 L256.21,533.52 L256.72,533.51 L257.22,533.50 L257.73,533.51 L258.23,533.52 L258.74,533.54 L259.24,533.57 L259.75,533.61 L260.25,533.67 L260.75,533.75 L261.26,533.84 L261.76,533.94 L262.27,534.07 L262.75,534.21 L263.22,534.37 L263.70,534.54 L264.18,534.73 L264.66,534.94 L265.13,535.15 L265.61,535.37 L266.09,535.59 L266.57,535.82 L267.04,536.05 L267.52,536.28 L268.00,536.51 L268.48,536.73 L268.95,536.94 L269.43,537.15 L269.90,537.35 L270.38,537.56 L270.85,537.79 L271.33,538.02 L271.80,538.26 L272.27,538.50 L272.75,538.74 L273.22,538.99 L273.69,539.24 L274.17,539.48 L274.64,539.73 L275.11,539.96 L275.59,540.20 L276.06,540.42 L276.53,540.64 L277.01,540.84 L277.48,541.04 L277.95,541.21 L278.43,541.38 L278.90,541.53 L279.37,541.65 L279.85,541.76 L280.32,541.85 L280.79,541.91 L281.27,541.95 L281.74,541.97 L282.18,541.94 L282.61,541.88 L283.05,541.77 L283.49,541.61 L283.93,541.42 L284.36,541.19 L284.80,540.93 L285.24,540.63 L285.67,540.30 L286.11,539.94 L286.55,539.55 L286.99,539.14 L287.42,538.70 L287.86,538.24 L288.30,537.76 L288.70,537.29 L289.11,536.78 L289.51,536.23 L289.91,535.66 L290.32,535.06 L290.72,534.44 L291.12,533.80 L291.53,533.15 L291.93,532.49 L292.33,531.83 L292.74,531.17 L293.14,530.51 L293.54,529.87 L293.91,529.27 L294.28,528.66 L294.65,528.04 L295.01,527.42 L295.38,526.78 L295.75,526.14 L296.12,525.50 L296.48,524.86 L296.85,524.23 L297.22,523.61 L297.59,522.99 L297.95,522.40 L298.32,521.81 L298.69,521.25 L299.10,520.63 L299.51,520.00 L299.91,519.35 L300.32,518.70 L300.73,518.04 L301.14,517.39 L301.54,516.74 L301.95,516.10 L302.36,515.46 L302.77,514.85 L303.18,514.25 L303.58,513.67 L303.99,513.12 L304.40,512.60 L304.81,512.11 L305.21,511.65 L305.62,511.24 L306.03,510.87 L306.44,510.55 L306.85,510.27 L307.25,510.06 L307.66,509.90 L308.07,509.80 L308.48,509.76 L308.85,509.79 L309.23,509.88 L309.61,510.03 L309.99,510.23 L310.37,510.48 L310.75,510.79 L311.12,511.15 L311.50,511.55 L311.88,512.01 L312.26,512.50 L312.64,513.04 L313.02,513.62 L313.39,514.25 L313.77,514.90 L314.15,515.60 L314.53,516.33 L314.91,517.09 L315.29,517.89 L315.66,518.71 L316.04,519.56 L316.42,520.43 L316.80,521.33 L317.18,522.26 L317.56,523.20 L317.84,523.94 L318.13,524.73 L318.42,525.55 L318.70,526.41 L318.99,527.30 L319.28,528.22 L319.56,529.17 L319.85,530.13 L320.14,531.12 L320.42,532.13 L320.71,533.15 L320.99,534.18 L321.28,535.21 L321.57,536.25 L321.85,537.30 L322.14,538.34 L322.43,539.37 L322.71,540.40 L323.00,541.41 L323.29,542.41 L323.57,543.40 L323.86,544.36 L324.15,545.30 L324.43,546.21 L324.72,547.10 L325.03,548.05 L325.34,549.02 L325.65,550.02 L325.96,551.03 L326.27,552.06 L326.58,553.10 L326.90,554.14 L327.21,555.20 L327.52,556.26 L327.83,557.32 L328.14,558.37 L328.45,559.42 L328.76,560.47 L329.07,561.50 L329.38,562.52 L329.69,563.53 L330.00,564.52 L330.31,565.48 L330.63,566.42 L330.94,567.34 L331.25,568.22 L331.56,569.08 L331.87,569.89 L332.18,570.67 L332.49,571.41 L332.80,572.11 L333.11,572.76 L333.42,573.36 L333.73,573.91 L334.05,574.41 L334.36,574.84 L334.67,575.22 L334.98,575.54 L335.29,575.79 L335.60,575.97 L335.91,576.08 L336.22,576.12 L336.54,576.09 L336.85,576.01 L337.16,575.88 L337.48,575.70 L337.79,575.46 L338.11,575.18 L338.42,574.84 L338.74,574.46 L339.05,574.03 L339.37,573.55 L339.68,573.02 L340.00,572.45 L340.31,571.84 L340.62,571.17 L340.94,570.47 L341.25,569.72 L341.57,568.92 L341.88,568.09 L342.20,567.21 L342.51,566.30 L342.83,565.34 L343.14,564.34 L343.46,563.31 L343.77,562.23 L344.08,561.12 L344.40,559.98 L344.71,558.79 L345.03,557.57 L345.34,556.32 L345.66,555.03 L345.97,553.71 L346.29,552.36 L346.60,550.97 L346.92,549.56 L347.13,548.55 L347.35,547.49 L347.57,546.40 L347.78,545.27 L348.00,544.11 L348.22,542.92 L348.44,541.70 L348.65,540.46 L348.87,539.20 L349.09,537.93 L349.31,536.63 L349.52,535.33 L349.74,534.02 L349.96,532.70 L350.17,531.39 L350.39,530.07 L350.61,528.76 L350.83,527.45 L351.04,526.16 L351.26,524.88 L351.48,523.62 L351.70,522.37 L351.91,521.15 L352.13,519.96 L352.35,518.79 L352.57,517.66 L352.82,516.37 L353.07,515.06 L353.32,513.74 L353.57,512.40 L353.82,511.06 L354.07,509.70 L354.32,508.34 L354.57,506.98 L354.82,505.61 L355.07,504.24 L355.32,502.86 L355.57,501.49 L355.82,500.13 L356.07,498.76 L356.32,497.41 L356.57,496.06 L356.82,494.73 L357.07,493.40 L357.32,492.09 L357.57,490.80 L357.82,489.52 L358.07,488.26 L358.32,487.02 L358.57,485.80 L358.82,484.61 L359.07,483.44 L359.32,482.30 L359.57,481.19 L359.82,480.11 L360.07,479.06 L360.32,478.05 L360.57,477.07 L360.82,476.13 L361.07,475.24 L361.32,474.38 L361.57,473.56 L361.82,472.79 L362.07,472.07 L362.32,471.39 L362.57,470.76 L362.82,470.19 L363.07,469.66 L363.32,469.20 L363.57,468.79 L363.82,468.44 L364.07,468.14 L364.33,467.91 L364.58,467.75 L364.83,467.65 L365.08,467.61 L365.34,467.65 L365.61,467.75 L365.88,467.91 L366.15,468.14 L366.42,468.43 L366.69,468.78 L366.95,469.19 L367.22,469.66 L367.49,470.19 L367.76,470.77 L368.03,471.40 L368.29,472.09 L368.56,472.83 L368.83,473.62 L369.10,474.45 L369.37,475.34 L369.64,476.27 L369.90,477.24 L370.17,478.25 L370.44,479.31 L370.71,480.41 L370.98,481.54 L371.24,482.71 L371.51,483.92 L371.78,485.16 L372.05,486.44 L372.32,487.74 L372.59,489.08 L372.85,490.44 L373.12,491.83 L373.39,493.25 L373.66,494.69 L373.93,496.16 L374.20,497.64 L374.46,499.15 L374.73,500.67 L375.00,502.22 L375.27,503.78 L375.54,505.35 L375.80,506.93 L376.07,508.53 L376.25,509.60 L376.42,510.70 L376.60,511.84 L376.77,513.01 L376.95,514.21 L377.13,515.43 L377.30,516.69 L377.48,517.97 L377.65,519.28 L377.83,520.60 L378.00,521.95 L378.18,523.32 L378.35,524.71 L378.53,526.11 L378.70,527.53 L378.88,528.96 L379.06,530.40 L379.23,531.85 L379.41,533.31 L379.58,534.78 L379.76,536.25 L379.93,537.73 L380.11,539.21 L380.28,540.69 L380.46,542.16 L380.63,543.64 L380.81,545.11 L380.99,546.58 L381.16,548.03 L381.34,549.48 L381.51,550.92 L381.69,552.35 L381.86,553.76 L382.04,555.16 L382.21,556.54 L382.39,557.90 L382.56,559.25 L382.74,560.57 L382.92,561.87 L383.09,563.14 L383.27,564.39 L383.44,565.60 L383.62,566.79 L383.79,567.95 L383.97,569.08 L384.14,570.17 L384.39,571.66 L384.63,573.15 L384.87,574.65 L385.11,576.16 L385.35,577.66 L385.59,579.17 L385.84,580.67 L386.08,582.17 L386.32,583.65 L386.56,585.13 L386.80,586.58 L387.04,588.03 L387.28,589.45 L387.53,590.85 L387.77,592.22 L388.01,593.56 L388.25,594.88 L388.49,596.16 L388.73,597.40 L388.98,598.61 L389.22,599.77 L389.46,600.89 L389.70,601.96 L389.94,602.99 L390.18,603.96 L390.43,604.87 L390.67,605.73 L390.91,606.53 L391.15,607.26 L391.39,607.93 L391.63,608.53 L391.88,609.06 L392.12,609.51 L392.36,609.89 L392.60,610.19 L392.84,610.40 L393.08,610.53 L393.33,610.58 L393.55,610.53 L393.77,610.38 L393.99,610.13 L394.22,609.79 L394.44,609.36 L394.66,608.84 L394.88,608.24 L395.11,607.56 L395.33,606.80 L395.55,605.96 L395.77,605.05 L396.00,604.08 L396.22,603.03 L396.44,601.92 L396.66,600.76 L396.89,599.53 L397.11,598.25 L397.33,596.93 L397.55,595.55 L397.78,594.13 L398.00,592.66 L398.22,591.16 L398.44,589.62 L398.67,588.05 L398.89,586.45 L399.11,584.82 L399.33,583.17 L399.56,581.50 L399.78,579.81 L400.00,578.10 L400.22,576.39 L400.45,574.66 L400.67,572.93 L400.89,571.20 L401.04,570.05 L401.18,568.85 L401.33,567.62 L401.47,566.36 L401.62,565.05 L401.76,563.71 L401.91,562.34 L402.05,560.94 L402.20,559.52 L402.34,558.06 L402.49,556.58 L402.63,555.08 L402.78,553.55 L402.92,552.01 L403.07,550.44 L403.21,548.86 L403.36,547.27 L403.50,545.67 L403.65,544.05 L403.79,542.42 L403.94,540.79 L404.08,539.15 L404.23,537.51 L404.37,535.86 L404.52,534.22 L404.66,532.58 L404.81,530.94 L404.95,529.30 L405.10,527.68 L405.24,526.06 L405.39,524.45 L405.53,522.85 L405.68,521.27 L405.82,519.71 L405.97,518.16 L406.11,516.63 L406.26,515.12 L406.40,513.64 L406.55,512.17 L406.69,510.74 L406.84,509.33 L406.98,507.96 L407.13,506.61 L407.27,505.30 L407.42,504.03 L407.56,502.79 L407.71,501.59 L407.85,500.43 L408.13,498.30 L408.40,496.23 L408.68,494.22 L408.95,492.27 L409.23,490.38 L409.51,488.55 L409.78,486.77 L410.06,485.05 L410.33,483.39 L410.61,481.78 L410.88,480.23 L411.16,478.73 L411.43,477.29 L411.71,475.89 L411.98,474.55 L412.26,473.26 L412.53,472.02 L412.81,470.83 L413.08,469.69 L413.36,468.60 L413.64,467.55 L413.91,466.56 L414.19,465.60 L414.46,464.70 L414.74,463.84 L415.01,463.02 L415.29,462.25 L415.56,461.52 L415.84,460.83 L416.11,460.19 L416.39,459.58 L416.66,459.02 L416.94,458.49 L417.22,458.01 L417.49,457.56 L417.77,457.15 L418.04,456.77 L418.32,456.44 L418.59,456.13 L418.87,455.87 L419.14,455.63 L419.42,455.43 L419.69,455.27 L419.97,455.13 L420.24,455.03 L420.52,454.95 L420.79,454.91 L421.07,454.89 L421.33,454.93 L421.58,455.04 L421.84,455.23 L422.10,455.48 L422.36,455.80 L422.62,456.19 L422.87,456.64 L423.13,457.15 L423.39,457.73 L423.65,458.37 L423.90,459.06 L424.16,459.81 L424.42,460.62 L424.68,461.47 L424.93,462.38 L425.19,463.34 L425.45,464.34 L425.71,465.39 L425.96,466.48 L426.22,467.62 L426.48,468.80 L426.74,470.01 L426.99,471.26 L427.25,472.55 L427.51,473.87 L427.77,475.22 L428.02,476.60 L428.28,478.01 L428.54,479.44 L428.80,480.90 L429.05,482.38 L429.31,483.89 L429.57,485.41 L429.83,486.95 L430.08,488.51 L430.34,490.08 L430.60,491.66 L430.86,493.25 L431.02,494.28 L431.18,495.35 L431.35,496.45 L431.51,497.59 L431.67,498.76 L431.83,499.96 L432.00,501.20 L432.16,502.46 L432.32,503.75 L432.49,505.06 L432.65,506.41 L432.81,507.77 L432.98,509.16 L433.14,510.57 L433.30,512.00 L433.47,513.45 L433.63,514.91 L433.79,516.40 L433.96,517.89 L434.12,519.41 L434.28,520.93 L434.44,522.46 L434.61,524.01 L434.77,525.56 L434.93,527.12 L435.10,528.69 L435.26,530.26 L435.42,531.84 L435.59,533.41 L435.75,534.99 L435.91,536.57 L436.08,538.14 L436.24,539.71 L436.40,541.28 L436.56,542.84 L436.73,544.40 L436.89,545.95 L437.05,547.49 L437.22,549.01 L437.38,550.53 L437.54,552.03 L437.71,553.52 L437.87,554.99 L438.03,556.44 L438.20,557.88 L438.36,559.29 L438.52,560.69 L438.69,562.06 L438.85,563.41 L439.01,564.74 L439.17,566.03 L439.34,567.30 L439.50,568.55 L439.66,569.76 L439.83,570.94 L439.99,572.09 L440.15,573.20 L440.32,574.28 L440.48,575.32 L440.64,576.32 L440.90,577.90 L441.17,579.47 L441.43,581.01 L441.69,582.54 L441.95,584.05 L442.22,585.53 L442.48,587.00 L442.74,588.43 L443.00,589.84 L443.27,591.22 L443.53,592.57 L443.79,593.88 L444.05,595.16 L444.32,596.40 L444.58,597.61 L444.84,598.77 L445.10,599.89 L445.36,600.97 L445.63,602.00 L445.89,602.98 L446.15,603.91 L446.41,604.79 L446.68,605.62 L446.94,606.39 L447.20,607.10 L447.46,607.76 L447.73,608.35 L447.99,608.88 L448.25,609.35 L448.51,609.75 L448.77,610.08 L449.04,610.34 L449.30,610.53 L449.56,610.64 L449.82,610.68 L450.07,610.63 L450.31,610.49 L450.55,610.25 L450.79,609.92 L451.04,609.51 L451.28,609.01 L451.52,608.43 L451.77,607.78 L452.01,607.05 L452.25,606.25 L452.49,605.38 L452.74,604.44 L452.98,603.45 L453.22,602.40 L453.46,601.29 L453.71,600.13 L453.95,598.91 L454.19,597.66 L454.43,596.36 L454.68,595.02 L454.92,593.64 L455.16,592.23 L455.41,590.79 L455.65,589.32 L455.89,587.83 L456.13,586.31 L456.38,584.78 L456.62,583.23 L456.86,581.67 L457.10,580.11 L457.35,578.53 L457.59,576.96 L457.83,575.38 L458.07,573.81 L458.32,572.24 L458.56,570.69 L458.80,569.15 L458.97,568.09 L459.13,566.99 L459.30,565.87 L459.46,564.71 L459.63,563.53 L459.79,562.31 L459.96,561.07 L460.12,559.81 L460.29,558.51 L460.45,557.20 L460.62,555.86 L460.78,554.50 L460.95,553.12 L461.11,551.72 L461.28,550.30 L461.44,548.86 L461.61,547.41 L461.77,545.94 L461.94,544.46 L462.10,542.97 L462.27,541.47 L462.43,539.95 L462.60,538.43 L462.76,536.90 L462.93,535.36 L463.09,533.81 L463.26,532.27 L463.42,530.71 L463.59,529.16 L463.75,527.60 L463.92,526.05 L464.08,524.49 L464.25,522.94 L464.41,521.39 L464.58,519.84 L464.74,518.30 L464.91,516.77 L465.07,515.25 L465.24,513.73 L465.40,512.23 L465.57,510.73 L465.73,509.25 L465.90,507.78 L466.06,506.33 L466.23,504.89 L466.39,503.47 L466.56,502.06 L466.72,500.68 L466.89,499.32 L467.05,497.97 L467.22,496.65 L467.38,495.36 L467.55,494.09 L467.71,492.84 L467.88,491.63 L468.04,490.44 L468.20,489.28 L468.37,488.15 L468.53,487.05 L468.70,485.98 L468.86,484.95 L469.03,483.96 L469.19,483.00 L469.48,481.38 L469.77,479.80 L470.05,478.24 L470.34,476.72 L470.62,475.23 L470.91,473.77 L471.19,472.35 L471.48,470.96 L471.76,469.61 L472.05,468.30 L472.33,467.03 L472.62,465.80 L472.90,464.60 L473.19,463.45 L473.48,462.34 L473.76,461.28 L474.05,460.26 L474.33,459.29 L474.62,458.36 L474.90,457.48 L475.19,456.66 L475.47,455.88 L475.76,455.15 L476.04,454.47 L476.33,453.85 L476.61,453.29 L476.90,452.77 L477.19,452.32 L477.47,451.92 L477.76,451.58 L478.04,451.30 L478.33,451.08 L478.61,450.92 L478.90,450.82 L479.18,450.79 L479.46,450.83 L479.74,450.96 L480.02,451.17 L480.30,451.45 L480.58,451.81 L480.86,452.24 L481.14,452.74 L481.42,453.31 L481.70,453.94 L481.98,454.64 L482.26,455.39 L482.54,456.20 L482.82,457.06 L483.10,457.98 L483.38,458.94 L483.66,459.94 L483.94,460.99 L484.22,462.08 L484.50,463.20 L484.77,464.36 L485.05,465.55 L485.33,466.77 L485.61,468.02 L485.89,469.29 L486.17,470.58 L486.45,471.89 L486.73,473.21 L487.01,474.55 L487.29,475.89 L487.57,477.25 L487.85,478.60 L488.13,479.96 L488.41,481.32 L488.69,482.67 L488.97,484.02 L489.17,484.99 L489.37,485.99 L489.56,487.02 L489.76,488.08 L489.96,489.17 L490.16,490.28 L490.35,491.42 L490.55,492.59 L490.75,493.78 L490.95,494.99 L491.15,496.22 L491.34,497.47 L491.54,498.74 L491.74,500.03 L491.94,501.33 L492.14,502.64 L492.33,503.98 L492.53,505.32 L492.73,506.67 L492.93,508.03 L493.13,509.40 L493.32,510.78 L493.52,512.17 L493.72,513.56 L493.92,514.95 L494.12,516.34 L494.31,517.74 L494.51,519.13 L494.71,520.53 L494.91,521.92 L495.11,523.31 L495.30,524.69 L495.50,526.06 L495.70,527.43 L495.90,528.79 L496.10,530.13 L496.29,531.47 L496.49,532.79 L496.69,534.10 L496.89,535.40 L497.09,536.68 L497.28,537.94 L497.48,539.18 L497.68,540.40 L497.88,541.60 L498.08,542.78 L498.27,543.93 L498.47,545.06 L498.67,546.16 L498.87,547.23 L499.07,548.28 L499.26,549.29 L499.46,550.27 L499.74,551.63 L500.01,552.98 L500.29,554.33 L500.57,555.67 L500.84,557.01 L501.12,558.35 L501.40,559.68 L501.67,561.00 L501.95,562.30 L502.22,563.60 L502.50,564.88 L502.78,566.14 L503.05,567.39 L503.33,568.62 L503.61,569.82 L503.88,571.01 L504.16,572.17 L504.43,573.30 L504.71,574.41 L504.99,575.49 L505.26,576.54 L505.54,577.56 L505.82,578.54 L506.09,579.48 L506.37,580.39 L506.64,581.27 L506.92,582.10 L507.20,582.89 L507.47,583.63 L507.75,584.33 L508.03,584.99 L508.30,585.59 L508.58,586.15 L508.85,586.65 L509.13,587.10 L509.41,587.50 L509.68,587.84 L509.96,588.12 L510.24,588.34 L510.51,588.50 L510.79,588.60 L511.06,588.63 L511.34,588.58 L511.61,588.44 L511.89,588.20 L512.16,587.88 L512.44,587.47 L512.71,586.98 L512.99,586.41 L513.26,585.77 L513.54,585.07 L513.81,584.29 L514.09,583.45 L514.36,582.56 L514.63,581.60 L514.91,580.60 L515.18,579.55 L515.46,578.45 L515.73,577.32 L516.01,576.15 L516.28,574.94 L516.56,573.71 L516.83,572.45 L517.11,571.16 L517.38,569.86 L517.66,568.55 L517.93,567.22 L518.20,565.89 L518.48,564.55 L518.75,563.21 L519.03,561.88 L519.30,560.55 L519.58,559.23 L519.85,557.93 L520.13,556.65 L520.40,555.38 L520.68,554.15 L520.95,552.94 L521.18,551.95 L521.40,550.93 L521.63,549.88 L521.86,548.82 L522.08,547.73 L522.31,546.62 L522.53,545.48 L522.76,544.34 L522.98,543.17 L523.21,541.99 L523.44,540.79 L523.66,539.58 L523.89,538.36 L524.11,537.13 L524.34,535.89 L524.57,534.64 L524.79,533.38 L525.02,532.12 L525.24,530.86 L525.47,529.59 L525.70,528.32 L525.92,527.05 L526.15,525.78 L526.37,524.52 L526.60,523.26 L526.82,522.00 L527.05,520.75 L527.28,519.51 L527.50,518.27 L527.73,517.05 L527.95,515.83 L528.18,514.64 L528.41,513.45 L528.63,512.28 L528.86,511.13 L529.08,509.99 L529.31,508.88 L529.54,507.78 L529.76,506.71 L529.99,505.66 L530.21,504.63 L530.44,503.63 L530.67,502.66 L530.89,501.72 L531.12,500.80 L531.34,499.92 L531.66,498.71 L531.97,497.50 L532.28,496.29 L532.59,495.08 L532.91,493.87 L533.22,492.67 L533.53,491.48 L533.85,490.31 L534.16,489.15 L534.47,488.01 L534.78,486.90 L535.10,485.81 L535.41,484.76 L535.72,483.73 L536.03,482.75 L536.35,481.80 L536.66,480.90 L536.97,480.04 L537.29,479.24 L537.60,478.48 L537.91,477.79 L538.22,477.15 L538.54,476.58 L538.85,476.07 L539.16,475.63 L539.47,475.26 L539.79,474.97 L540.10,474.76 L540.41,474.63 L540.73,474.59 L541.02,474.63 L541.31,474.76 L541.61,474.98 L541.90,475.28 L542.19,475.65 L542.49,476.10 L542.78,476.62 L543.07,477.21 L543.36,477.86 L543.66,478.58 L543.95,479.35 L544.24,480.18 L544.54,481.06 L544.83,481.98 L545.12,482.95 L545.42,483.97 L545.71,485.02 L546.00,486.11 L546.30,487.23 L546.59,488.37 L546.88,489.55 L547.18,490.74 L547.47,491.96 L547.76,493.19 L548.06,494.43 L548.35,495.68 L548.64,496.94 L548.94,498.20 L549.23,499.46 L549.52,500.71 L549.82,501.96 L550.11,503.20 L550.33,504.14 L550.55,505.12 L550.77,506.12 L550.99,507.15 L551.21,508.20 L551.43,509.28 L551.66,510.38 L551.88,511.50 L552.10,512.64 L552.32,513.80 L552.54,514.98 L552.76,516.18 L552.98,517.39 L553.20,518.61 L553.42,519.85 L553.64,521.09 L553.87,522.35 L554.09,523.61 L554.31,524.88 L554.53,526.15 L554.75,527.43 L554.97,528.71 L555.19,529.99 L555.41,531.27 L555.63,532.55 L555.85,533.83 L556.08,535.10 L556.30,536.37 L556.52,537.63 L556.74,538.88 L556.96,540.12 L557.18,541.35 L557.40,542.57 L557.62,543.77 L557.84,544.96 L558.06,546.13 L558.29,547.28 L558.51,548.42 L558.73,549.53 L558.95,550.62 L559.17,551.69 L559.39,552.74 L559.66,553.98 L559.92,555.25 L560.19,556.53 L560.45,557.82 L560.71,559.13 L560.98,560.46 L561.24,561.79 L561.51,563.12 L561.77,564.47 L562.04,565.81 L562.30,567.16 L562.57,568.51 L562.83,569.86 L563.10,571.20 L563.36,572.53 L563.63,573.86 L563.89,575.17 L564.16,576.48 L564.42,577.77 L564.69,579.04 L564.95,580.30 L565.22,581.54 L565.48,582.75 L565.75,583.94 L566.01,585.11 L566.28,586.24 L566.54,587.35 L566.81,588.43 L567.07,589.47 L567.34,590.48 L567.60,591.45 L567.87,592.38 L568.13,593.27 L568.40,594.11 L568.66,594.91 L568.92,595.67 L569.19,596.37 L569.45,597.03 L569.72,597.63 L569.98,598.17 L570.25,598.66 L570.51,599.09 L570.78,599.46 L571.04,599.76 L571.31,600.01 L571.57,600.18 L571.84,600.29 L572.10,600.32 L572.41,600.29 L572.73,600.17 L573.04,599.98 L573.35,599.73 L573.66,599.41 L573.97,599.02 L574.28,598.57 L574.59,598.06 L574.90,597.50 L575.21,596.89 L575.52,596.22 L575.84,595.51 L576.15,594.75 L576.46,593.95 L576.77,593.12 L577.08,592.24 L577.39,591.34 L577.70,590.40 L578.01,589.43 L578.32,588.44 L578.64,587.43 L578.95,586.40 L579.26,585.35 L579.57,584.29 L579.88,583.22 L580.19,582.14 L580.50,581.05 L580.81,579.96 L581.12,578.88 L581.44,577.79 L581.75,576.71 L582.06,575.64 L582.37,574.58 L582.68,573.54 L582.99,572.51 L583.30,571.50 L583.56,570.66 L583.82,569.79 L584.08,568.89 L584.34,567.97 L584.60,567.02 L584.85,566.05 L585.11,565.06 L585.37,564.06 L585.63,563.03 L585.89,562.00 L586.15,560.95 L586.41,559.89 L586.66,558.82 L586.92,557.74 L587.18,556.66 L587.44,555.57 L587.70,554.48 L587.96,553.39 L588.22,552.30 L588.48,551.21 L588.73,550.13 L588.99,549.06 L589.25,547.99 L589.51,546.93 L589.77,545.89 L590.03,544.86 L590.29,543.84 L590.55,542.84 L590.80,541.86 L591.06,540.90 L591.32,539.96 L591.58,539.04 L591.84,538.16 L592.10,537.29 L592.36,536.46 L592.61,535.66 L592.87,534.89 L593.13,534.15 L593.39,533.46 L593.76,532.49 L594.13,531.54 L594.50,530.60 L594.88,529.69 L595.25,528.81 L595.62,527.94 L595.99,527.11 L596.36,526.30 L596.73,525.52 L597.10,524.78 L597.47,524.07 L597.85,523.39 L598.22,522.76 L598.59,522.16 L598.96,521.61 L599.33,521.10 L599.70,520.63 L600.07,520.22 L600.45,519.85 L600.82,519.53 L601.19,519.27 L601.56,519.06 L601.93,518.91 L602.30,518.82 L602.67,518.79 L603.07,518.84 L603.46,518.97 L603.85,519.20 L604.24,519.50 L604.64,519.88 L605.03,520.33 L605.42,520.84 L605.82,521.40 L606.21,522.03 L606.60,522.70 L607.00,523.41 L607.39,524.16 L607.78,524.94 L608.17,525.74 L608.57,526.57 L608.96,527.41 L609.35,528.26 L609.75,529.11 L610.14,529.97 L610.47,530.72 L610.81,531.50 L611.15,532.31 L611.48,533.14 L611.82,533.98 L612.16,534.83 L612.49,535.68 L612.83,536.52 L613.17,537.35" stroke="#00b0f0" stroke-width="2.25"/>
</g>
<g fill="none" stroke="#000" stroke-width="3.5" stroke-linejoin="miter">
<rect x="463.2" y="57.9" width="35.6" height="186.6"/>
<rect x="525.8" y="58.6" width="37.0" height="186.2"/>
<rect x="584.9" y="58.3" width="22.9" height="187.0"/>
<rect x="465.9" y="400.5" width="33.7" height="209.5"/>
<rect x="525.3" y="399.6" width="40.7" height="210.4"/>
<rect x="587" y="401" width="23.4" height="209.6"/>
</g>
</svg>
</body></html>
